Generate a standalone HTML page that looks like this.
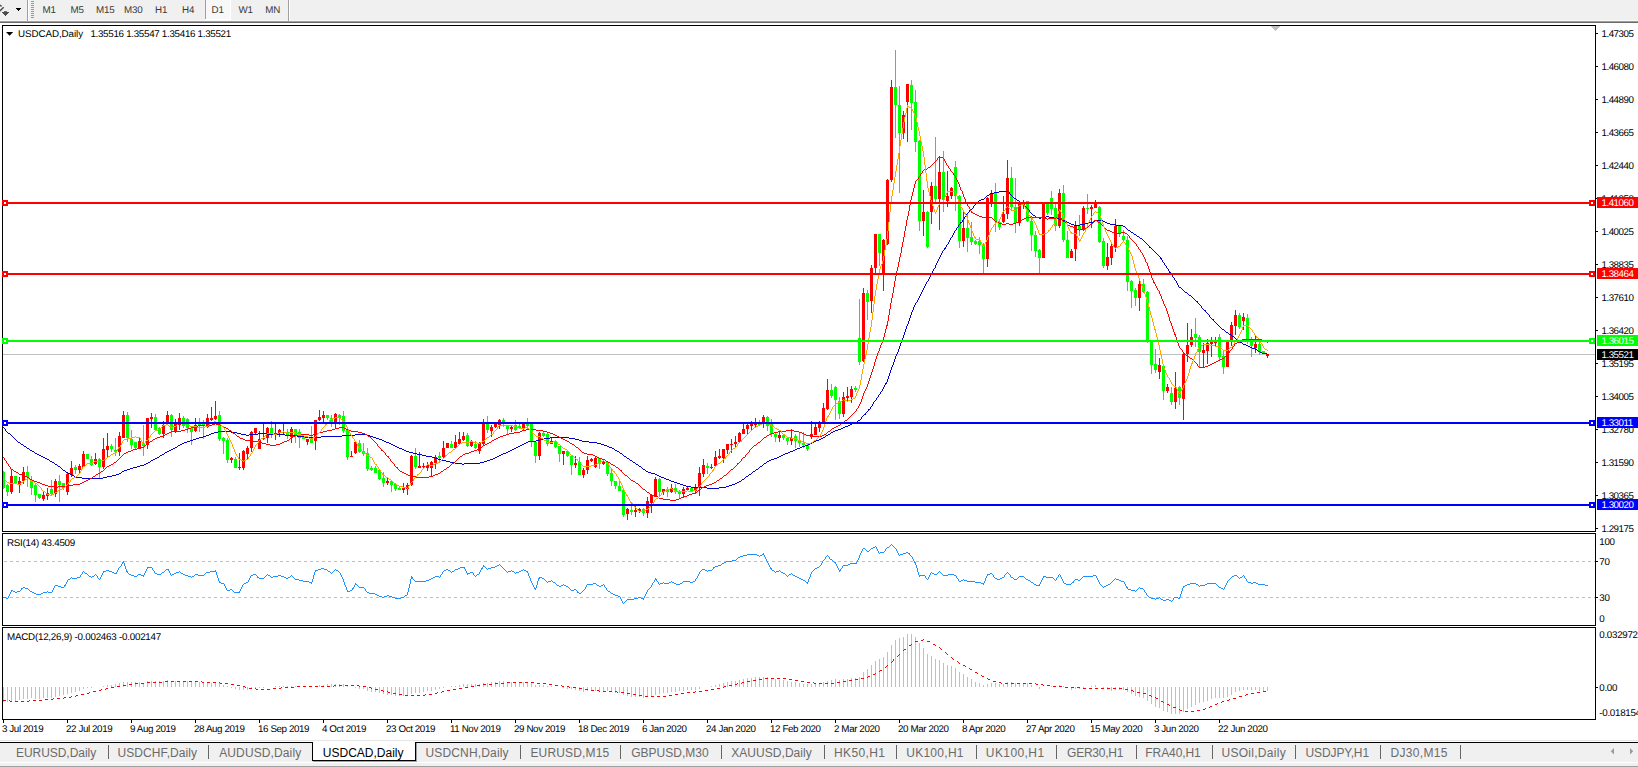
<!DOCTYPE html><html><head><meta charset="utf-8"><title>USDCAD,Daily</title><style>
html,body{margin:0;padding:0;background:#fff}
body{width:1638px;height:767px;position:relative;overflow:hidden;font-family:"Liberation Sans",sans-serif}
.a{position:absolute;white-space:pre;line-height:1}
.t{font-size:9.8px;color:#000;text-rendering:geometricPrecision;letter-spacing:-0.29px}
.tb{font-size:9.8px;color:#3a3a3a;text-rendering:geometricPrecision;letter-spacing:-0.19px}
.pl{position:absolute;left:1597px;width:41px;height:11px}
.pl span{position:absolute;left:4.5px;top:2px;color:#fff;font-size:9.8px;line-height:1;text-rendering:geometricPrecision;letter-spacing:-0.5px;white-space:pre}
.tab{position:absolute;top:746px;font-size:12px;color:#6a6a6a;white-space:pre;line-height:14px}
.sep{position:absolute;top:745px;width:1px;height:14px;background:#646464}
</style></head><body>
<div class="a" style="left:0px;top:0px;width:1638px;height:20px;background:#f0f0f0"></div>
<div class="a" style="left:0px;top:20px;width:1638px;height:1px;background:#f8f8f8"></div>
<div class="a" style="left:0px;top:21px;width:1638px;height:1px;background:#a0a0a0"></div>
<div class="a" style="left:0px;top:22px;width:1638px;height:1px;background:#696969"></div>
<div class="a" style="left:27px;top:0px;width:1px;height:21px;background:#a0a0a0"></div>
<div class="a" style="left:28px;top:0px;width:1px;height:21px;background:#fff"></div>
<div class="a" style="left:288px;top:0px;width:1px;height:21px;background:#a0a0a0"></div>
<div class="a" style="left:289px;top:0px;width:1px;height:21px;background:#fff"></div>
<div class="a" style="left:31px;top:1px;width:3px;height:1px;background:#9a9a9a"></div>
<div class="a" style="left:31px;top:3px;width:3px;height:1px;background:#9a9a9a"></div>
<div class="a" style="left:31px;top:5px;width:3px;height:1px;background:#9a9a9a"></div>
<div class="a" style="left:31px;top:7px;width:3px;height:1px;background:#9a9a9a"></div>
<div class="a" style="left:31px;top:9px;width:3px;height:1px;background:#9a9a9a"></div>
<div class="a" style="left:31px;top:11px;width:3px;height:1px;background:#9a9a9a"></div>
<div class="a" style="left:31px;top:13px;width:3px;height:1px;background:#9a9a9a"></div>
<div class="a" style="left:31px;top:15px;width:3px;height:1px;background:#9a9a9a"></div>
<div class="a" style="left:31px;top:17px;width:3px;height:1px;background:#9a9a9a"></div>
<div class="a" style="left:205px;top:0px;width:1px;height:19px;background:#a0a0a0"></div>
<div class="a" style="left:206px;top:0px;width:24px;height:19px;background:#f8f8f8"></div>
<div class="a" style="left:230px;top:0px;width:1px;height:20px;background:#fff"></div>
<div class="a" style="left:205px;top:19px;width:26px;height:1px;background:#fff"></div>
<svg class="a" style="left:0;top:0" width="27" height="21" viewBox="0 0 27 21"><path d="M-0.3 5.0L1.6 6.3" stroke="#4a4a4a" stroke-width="1.5" fill="none"/><path d="M-0.5 11.2L3.7 7.2" stroke="#4a4a4a" stroke-width="1.5" fill="none"/><g shape-rendering="crispEdges"><path d="M4 11h3v1h-3z" fill="#6e6e6e"/><path d="M2 12h7v1h-7zM3 13h5v1h-5zM4 14h3v1h-3zM5 15h1v1h-1z" fill="#4d4d4d"/><path d="M16 8h5v1h-5zM17 9h3v1h-3zM18 10h1v1h-1z" fill="#000"/></g></svg>
<div class="a tb" style="left:42.5px;top:6px">M1</div>
<div class="a tb" style="left:70.5px;top:6px">M5</div>
<div class="a tb" style="left:96px;top:6px">M15</div>
<div class="a tb" style="left:124px;top:6px">M30</div>
<div class="a tb" style="left:155px;top:6px">H1</div>
<div class="a tb" style="left:182px;top:6px">H4</div>
<div class="a tb" style="left:211.5px;top:6px">D1</div>
<div class="a tb" style="left:238.5px;top:6px">W1</div>
<div class="a tb" style="left:265.2px;top:6px">MN</div>
<svg width="1638" height="767" viewBox="0 0 1638 767" style="position:absolute;left:0;top:0" shape-rendering="crispEdges"><defs><clipPath id="cm"><rect x="3" y="26" width="1592" height="505"/></clipPath><clipPath id="cr"><rect x="3" y="534" width="1592" height="91"/></clipPath><clipPath id="cd"><rect x="3" y="628" width="1592" height="91"/></clipPath></defs><path d="M2.5 531.5V25.5H1595.5V531.5" fill="none" stroke="#000" stroke-width="1"/><rect x="2" y="531" width="1594" height="1" fill="#000"/><path d="M2.5 625.5V533.5H1595.5V625.5" fill="none" stroke="#000" stroke-width="1"/><rect x="2" y="625" width="1594" height="1" fill="#000"/><path d="M2.5 719.5V627.5H1595.5V719.5" fill="none" stroke="#000" stroke-width="1"/><rect x="2" y="719" width="1594" height="1" fill="#000"/><g clip-path="url(#cm)"><rect x="3" y="354" width="1592" height="1" fill="#c0c0c0"/><rect x="3" y="471" width="1" height="18" fill="#00ff00"/><rect x="2" y="472" width="3" height="16" fill="#00ff00"/><rect x="7" y="484" width="1" height="12" fill="#00ff00"/><rect x="6" y="485" width="3" height="7" fill="#00ff00"/><rect x="11" y="469" width="1" height="25" fill="#ff0000"/><rect x="10" y="476" width="3" height="16" fill="#ff0000"/><rect x="15" y="476" width="1" height="8" fill="#00ff00"/><rect x="14" y="476" width="3" height="7" fill="#00ff00"/><rect x="19" y="477" width="1" height="16" fill="#ff0000"/><rect x="18" y="481" width="3" height="4" fill="#ff0000"/><rect x="23" y="467" width="1" height="17" fill="#ff0000"/><rect x="22" y="472" width="3" height="9" fill="#ff0000"/><rect x="27" y="466" width="1" height="21" fill="#00ff00"/><rect x="26" y="472" width="3" height="5" fill="#00ff00"/><rect x="31" y="476" width="1" height="19" fill="#00ff00"/><rect x="30" y="480" width="3" height="8" fill="#00ff00"/><rect x="35" y="483" width="1" height="19" fill="#00ff00"/><rect x="34" y="485" width="3" height="10" fill="#00ff00"/><rect x="39" y="494" width="1" height="5" fill="#00ff00"/><rect x="38" y="494" width="3" height="4" fill="#00ff00"/><rect x="43" y="492" width="1" height="9" fill="#ff0000"/><rect x="42" y="495" width="3" height="4" fill="#ff0000"/><rect x="47" y="488" width="1" height="12" fill="#ff0000"/><rect x="46" y="493" width="3" height="3" fill="#ff0000"/><rect x="51" y="480" width="1" height="16" fill="#00ff00"/><rect x="50" y="489" width="3" height="5" fill="#00ff00"/><rect x="55" y="479" width="1" height="18" fill="#ff0000"/><rect x="54" y="481" width="3" height="13" fill="#ff0000"/><rect x="59" y="475" width="1" height="27" fill="#00ff00"/><rect x="58" y="481" width="3" height="4" fill="#00ff00"/><rect x="63" y="483" width="1" height="7" fill="#00ff00"/><rect x="62" y="483" width="3" height="5" fill="#00ff00"/><rect x="67" y="473" width="1" height="22" fill="#ff0000"/><rect x="66" y="474" width="3" height="18" fill="#ff0000"/><rect x="71" y="461" width="1" height="16" fill="#ff0000"/><rect x="70" y="468" width="3" height="7" fill="#ff0000"/><rect x="75" y="465" width="1" height="9" fill="#00ff00"/><rect x="74" y="467" width="3" height="3" fill="#00ff00"/><rect x="79" y="464" width="1" height="9" fill="#ff0000"/><rect x="78" y="466" width="3" height="4" fill="#ff0000"/><rect x="83" y="451" width="1" height="16" fill="#ff0000"/><rect x="82" y="454" width="3" height="13" fill="#ff0000"/><rect x="87" y="454" width="1" height="5" fill="#00ff00"/><rect x="86" y="454" width="3" height="5" fill="#00ff00"/><rect x="91" y="456" width="1" height="10" fill="#00ff00"/><rect x="90" y="459" width="3" height="6" fill="#00ff00"/><rect x="95" y="453" width="1" height="12" fill="#ff0000"/><rect x="94" y="459" width="3" height="5" fill="#ff0000"/><rect x="99" y="458" width="1" height="20" fill="#00ff00"/><rect x="98" y="459" width="3" height="8" fill="#00ff00"/><rect x="103" y="438" width="1" height="31" fill="#ff0000"/><rect x="102" y="449" width="3" height="18" fill="#ff0000"/><rect x="107" y="433" width="1" height="24" fill="#ff0000"/><rect x="106" y="446" width="3" height="4" fill="#ff0000"/><rect x="111" y="444" width="1" height="8" fill="#00ff00"/><rect x="110" y="446" width="3" height="3" fill="#00ff00"/><rect x="115" y="438" width="1" height="18" fill="#00ff00"/><rect x="114" y="450" width="3" height="2" fill="#00ff00"/><rect x="119" y="432" width="1" height="24" fill="#ff0000"/><rect x="118" y="436" width="3" height="16" fill="#ff0000"/><rect x="123" y="411" width="1" height="27" fill="#ff0000"/><rect x="122" y="415" width="3" height="23" fill="#ff0000"/><rect x="127" y="412" width="1" height="30" fill="#00ff00"/><rect x="126" y="415" width="3" height="23" fill="#00ff00"/><rect x="131" y="430" width="1" height="19" fill="#00ff00"/><rect x="130" y="439" width="3" height="6" fill="#00ff00"/><rect x="135" y="442" width="1" height="8" fill="#00ff00"/><rect x="134" y="442" width="3" height="6" fill="#00ff00"/><rect x="139" y="438" width="1" height="11" fill="#ff0000"/><rect x="138" y="441" width="3" height="7" fill="#ff0000"/><rect x="143" y="425" width="1" height="31" fill="#00ff00"/><rect x="142" y="443" width="3" height="3" fill="#00ff00"/><rect x="147" y="418" width="1" height="31" fill="#ff0000"/><rect x="146" y="418" width="3" height="27" fill="#ff0000"/><rect x="151" y="413" width="1" height="15" fill="#ff0000"/><rect x="150" y="417" width="3" height="2" fill="#ff0000"/><rect x="155" y="414" width="1" height="17" fill="#00ff00"/><rect x="154" y="417" width="3" height="13" fill="#00ff00"/><rect x="159" y="427" width="1" height="8" fill="#00ff00"/><rect x="158" y="428" width="3" height="6" fill="#00ff00"/><rect x="163" y="421" width="1" height="17" fill="#ff0000"/><rect x="162" y="425" width="3" height="9" fill="#ff0000"/><rect x="167" y="411" width="1" height="12" fill="#ff0000"/><rect x="166" y="415" width="3" height="8" fill="#ff0000"/><rect x="171" y="414" width="1" height="23" fill="#00ff00"/><rect x="170" y="415" width="3" height="15" fill="#00ff00"/><rect x="175" y="419" width="1" height="14" fill="#ff0000"/><rect x="174" y="424" width="3" height="7" fill="#ff0000"/><rect x="179" y="413" width="1" height="17" fill="#ff0000"/><rect x="178" y="418" width="3" height="7" fill="#ff0000"/><rect x="183" y="416" width="1" height="12" fill="#00ff00"/><rect x="182" y="418" width="3" height="8" fill="#00ff00"/><rect x="187" y="418" width="1" height="15" fill="#00ff00"/><rect x="186" y="419" width="3" height="9" fill="#00ff00"/><rect x="191" y="428" width="1" height="17" fill="#00ff00"/><rect x="190" y="428" width="3" height="4" fill="#00ff00"/><rect x="195" y="418" width="1" height="14" fill="#ff0000"/><rect x="194" y="425" width="3" height="6" fill="#ff0000"/><rect x="199" y="418" width="1" height="14" fill="#00ff00"/><rect x="198" y="424" width="3" height="2" fill="#00ff00"/><rect x="203" y="420" width="1" height="19" fill="#00ff00"/><rect x="202" y="424" width="3" height="2" fill="#00ff00"/><rect x="207" y="414" width="1" height="14" fill="#ff0000"/><rect x="206" y="418" width="3" height="9" fill="#ff0000"/><rect x="211" y="407" width="1" height="14" fill="#ff0000"/><rect x="210" y="418" width="3" height="2" fill="#ff0000"/><rect x="215" y="401" width="1" height="19" fill="#ff0000"/><rect x="214" y="416" width="3" height="3" fill="#ff0000"/><rect x="219" y="411" width="1" height="30" fill="#00ff00"/><rect x="218" y="415" width="3" height="24" fill="#00ff00"/><rect x="223" y="437" width="1" height="17" fill="#00ff00"/><rect x="222" y="438" width="3" height="3" fill="#00ff00"/><rect x="227" y="438" width="1" height="25" fill="#00ff00"/><rect x="226" y="440" width="3" height="20" fill="#00ff00"/><rect x="231" y="457" width="1" height="6" fill="#ff0000"/><rect x="230" y="458" width="3" height="2" fill="#ff0000"/><rect x="235" y="457" width="1" height="11" fill="#00ff00"/><rect x="234" y="459" width="3" height="9" fill="#00ff00"/><rect x="239" y="453" width="1" height="17" fill="#ff0000"/><rect x="238" y="467" width="3" height="1" fill="#ff0000"/><rect x="243" y="450" width="1" height="20" fill="#ff0000"/><rect x="242" y="451" width="3" height="17" fill="#ff0000"/><rect x="247" y="446" width="1" height="13" fill="#ff0000"/><rect x="246" y="448" width="3" height="6" fill="#ff0000"/><rect x="251" y="431" width="1" height="21" fill="#ff0000"/><rect x="250" y="432" width="3" height="16" fill="#ff0000"/><rect x="255" y="428" width="1" height="7" fill="#ff0000"/><rect x="254" y="428" width="3" height="5" fill="#ff0000"/><rect x="259" y="431" width="1" height="18" fill="#ff0000"/><rect x="258" y="439" width="3" height="10" fill="#ff0000"/><rect x="263" y="424" width="1" height="16" fill="#ff0000"/><rect x="262" y="438" width="3" height="1" fill="#ff0000"/><rect x="267" y="427" width="1" height="16" fill="#ff0000"/><rect x="266" y="428" width="3" height="10" fill="#ff0000"/><rect x="271" y="421" width="1" height="17" fill="#00ff00"/><rect x="270" y="428" width="3" height="6" fill="#00ff00"/><rect x="275" y="424" width="1" height="16" fill="#ff0000"/><rect x="274" y="433" width="3" height="1" fill="#ff0000"/><rect x="279" y="429" width="1" height="8" fill="#ff0000"/><rect x="278" y="430" width="3" height="3" fill="#ff0000"/><rect x="283" y="424" width="1" height="10" fill="#ff0000"/><rect x="282" y="432" width="3" height="1" fill="#ff0000"/><rect x="287" y="429" width="1" height="10" fill="#00ff00"/><rect x="286" y="432" width="3" height="4" fill="#00ff00"/><rect x="291" y="427" width="1" height="16" fill="#ff0000"/><rect x="290" y="429" width="3" height="8" fill="#ff0000"/><rect x="295" y="429" width="1" height="14" fill="#00ff00"/><rect x="294" y="429" width="3" height="7" fill="#00ff00"/><rect x="299" y="429" width="1" height="19" fill="#00ff00"/><rect x="298" y="432" width="3" height="6" fill="#00ff00"/><rect x="303" y="436" width="1" height="3" fill="#00ff00"/><rect x="302" y="436" width="3" height="3" fill="#00ff00"/><rect x="307" y="439" width="1" height="6" fill="#ff0000"/><rect x="306" y="439" width="3" height="3" fill="#ff0000"/><rect x="311" y="426" width="1" height="17" fill="#00ff00"/><rect x="310" y="439" width="3" height="4" fill="#00ff00"/><rect x="315" y="420" width="1" height="30" fill="#ff0000"/><rect x="314" y="420" width="3" height="21" fill="#ff0000"/><rect x="319" y="410" width="1" height="11" fill="#ff0000"/><rect x="318" y="417" width="3" height="3" fill="#ff0000"/><rect x="323" y="411" width="1" height="11" fill="#ff0000"/><rect x="322" y="415" width="3" height="3" fill="#ff0000"/><rect x="327" y="415" width="1" height="5" fill="#00ff00"/><rect x="326" y="415" width="3" height="3" fill="#00ff00"/><rect x="331" y="415" width="1" height="12" fill="#00ff00"/><rect x="330" y="418" width="3" height="4" fill="#00ff00"/><rect x="335" y="413" width="1" height="15" fill="#ff0000"/><rect x="334" y="414" width="3" height="8" fill="#ff0000"/><rect x="339" y="414" width="1" height="11" fill="#00ff00"/><rect x="338" y="415" width="3" height="3" fill="#00ff00"/><rect x="343" y="411" width="1" height="22" fill="#00ff00"/><rect x="342" y="416" width="3" height="15" fill="#00ff00"/><rect x="347" y="428" width="1" height="32" fill="#00ff00"/><rect x="346" y="430" width="3" height="27" fill="#00ff00"/><rect x="351" y="451" width="1" height="6" fill="#ff0000"/><rect x="350" y="456" width="3" height="1" fill="#ff0000"/><rect x="355" y="441" width="1" height="13" fill="#ff0000"/><rect x="354" y="442" width="3" height="11" fill="#ff0000"/><rect x="359" y="440" width="1" height="13" fill="#00ff00"/><rect x="358" y="443" width="3" height="9" fill="#00ff00"/><rect x="363" y="443" width="1" height="13" fill="#00ff00"/><rect x="362" y="451" width="3" height="3" fill="#00ff00"/><rect x="367" y="448" width="1" height="23" fill="#00ff00"/><rect x="366" y="453" width="3" height="16" fill="#00ff00"/><rect x="371" y="466" width="1" height="5" fill="#00ff00"/><rect x="370" y="468" width="3" height="2" fill="#00ff00"/><rect x="375" y="466" width="1" height="7" fill="#00ff00"/><rect x="374" y="468" width="3" height="5" fill="#00ff00"/><rect x="379" y="469" width="1" height="11" fill="#00ff00"/><rect x="378" y="470" width="3" height="9" fill="#00ff00"/><rect x="383" y="472" width="1" height="15" fill="#00ff00"/><rect x="382" y="478" width="3" height="5" fill="#00ff00"/><rect x="387" y="477" width="1" height="8" fill="#ff0000"/><rect x="386" y="481" width="3" height="2" fill="#ff0000"/><rect x="391" y="480" width="1" height="12" fill="#00ff00"/><rect x="390" y="481" width="3" height="4" fill="#00ff00"/><rect x="395" y="483" width="1" height="8" fill="#00ff00"/><rect x="394" y="484" width="3" height="5" fill="#00ff00"/><rect x="399" y="486" width="1" height="4" fill="#00ff00"/><rect x="398" y="488" width="3" height="2" fill="#00ff00"/><rect x="403" y="483" width="1" height="10" fill="#ff0000"/><rect x="402" y="488" width="3" height="2" fill="#ff0000"/><rect x="407" y="483" width="1" height="12" fill="#ff0000"/><rect x="406" y="485" width="3" height="4" fill="#ff0000"/><rect x="411" y="455" width="1" height="31" fill="#ff0000"/><rect x="410" y="456" width="3" height="29" fill="#ff0000"/><rect x="415" y="448" width="1" height="21" fill="#00ff00"/><rect x="414" y="456" width="3" height="11" fill="#00ff00"/><rect x="419" y="452" width="1" height="16" fill="#ff0000"/><rect x="418" y="466" width="3" height="2" fill="#ff0000"/><rect x="423" y="463" width="1" height="5" fill="#ff0000"/><rect x="422" y="466" width="3" height="1" fill="#ff0000"/><rect x="427" y="462" width="1" height="9" fill="#ff0000"/><rect x="426" y="465" width="3" height="3" fill="#ff0000"/><rect x="431" y="461" width="1" height="15" fill="#ff0000"/><rect x="430" y="462" width="3" height="6" fill="#ff0000"/><rect x="435" y="455" width="1" height="14" fill="#ff0000"/><rect x="434" y="457" width="3" height="6" fill="#ff0000"/><rect x="439" y="452" width="1" height="10" fill="#00ff00"/><rect x="438" y="456" width="3" height="2" fill="#00ff00"/><rect x="443" y="441" width="1" height="17" fill="#ff0000"/><rect x="442" y="448" width="3" height="9" fill="#ff0000"/><rect x="447" y="443" width="1" height="5" fill="#ff0000"/><rect x="446" y="443" width="3" height="5" fill="#ff0000"/><rect x="451" y="441" width="1" height="7" fill="#00ff00"/><rect x="450" y="444" width="3" height="4" fill="#00ff00"/><rect x="455" y="435" width="1" height="13" fill="#ff0000"/><rect x="454" y="442" width="3" height="6" fill="#ff0000"/><rect x="459" y="432" width="1" height="12" fill="#ff0000"/><rect x="458" y="439" width="3" height="5" fill="#ff0000"/><rect x="463" y="432" width="1" height="9" fill="#ff0000"/><rect x="462" y="436" width="3" height="4" fill="#ff0000"/><rect x="467" y="433" width="1" height="14" fill="#00ff00"/><rect x="466" y="435" width="3" height="11" fill="#00ff00"/><rect x="471" y="440" width="1" height="7" fill="#ff0000"/><rect x="470" y="442" width="3" height="4" fill="#ff0000"/><rect x="475" y="441" width="1" height="8" fill="#00ff00"/><rect x="474" y="444" width="3" height="4" fill="#00ff00"/><rect x="479" y="442" width="1" height="12" fill="#ff0000"/><rect x="478" y="443" width="3" height="8" fill="#ff0000"/><rect x="483" y="419" width="1" height="27" fill="#ff0000"/><rect x="482" y="424" width="3" height="20" fill="#ff0000"/><rect x="487" y="416" width="1" height="17" fill="#00ff00"/><rect x="486" y="424" width="3" height="6" fill="#00ff00"/><rect x="491" y="425" width="1" height="12" fill="#ff0000"/><rect x="490" y="427" width="3" height="4" fill="#ff0000"/><rect x="495" y="424" width="1" height="4" fill="#ff0000"/><rect x="494" y="424" width="3" height="3" fill="#ff0000"/><rect x="499" y="419" width="1" height="10" fill="#ff0000"/><rect x="498" y="420" width="3" height="5" fill="#ff0000"/><rect x="503" y="418" width="1" height="9" fill="#00ff00"/><rect x="502" y="420" width="3" height="4" fill="#00ff00"/><rect x="507" y="425" width="1" height="9" fill="#00ff00"/><rect x="506" y="426" width="3" height="3" fill="#00ff00"/><rect x="511" y="426" width="1" height="6" fill="#ff0000"/><rect x="510" y="427" width="3" height="2" fill="#ff0000"/><rect x="515" y="420" width="1" height="11" fill="#00ff00"/><rect x="514" y="425" width="3" height="5" fill="#00ff00"/><rect x="519" y="424" width="1" height="5" fill="#00ff00"/><rect x="518" y="426" width="3" height="2" fill="#00ff00"/><rect x="523" y="424" width="1" height="6" fill="#ff0000"/><rect x="522" y="424" width="3" height="4" fill="#ff0000"/><rect x="527" y="418" width="1" height="11" fill="#00ff00"/><rect x="526" y="424" width="3" height="2" fill="#00ff00"/><rect x="531" y="424" width="1" height="23" fill="#00ff00"/><rect x="530" y="424" width="3" height="18" fill="#00ff00"/><rect x="535" y="441" width="1" height="22" fill="#00ff00"/><rect x="534" y="442" width="3" height="14" fill="#00ff00"/><rect x="539" y="432" width="1" height="28" fill="#ff0000"/><rect x="538" y="433" width="3" height="23" fill="#ff0000"/><rect x="543" y="432" width="1" height="5" fill="#00ff00"/><rect x="542" y="433" width="3" height="3" fill="#00ff00"/><rect x="547" y="433" width="1" height="13" fill="#00ff00"/><rect x="546" y="434" width="3" height="10" fill="#00ff00"/><rect x="551" y="438" width="1" height="6" fill="#ff0000"/><rect x="550" y="441" width="3" height="3" fill="#ff0000"/><rect x="555" y="441" width="1" height="7" fill="#00ff00"/><rect x="554" y="441" width="3" height="6" fill="#00ff00"/><rect x="559" y="446" width="1" height="16" fill="#00ff00"/><rect x="558" y="446" width="3" height="8" fill="#00ff00"/><rect x="563" y="451" width="1" height="14" fill="#ff0000"/><rect x="562" y="451" width="3" height="3" fill="#ff0000"/><rect x="567" y="450" width="1" height="7" fill="#00ff00"/><rect x="566" y="451" width="3" height="5" fill="#00ff00"/><rect x="571" y="455" width="1" height="20" fill="#00ff00"/><rect x="570" y="456" width="3" height="9" fill="#00ff00"/><rect x="575" y="456" width="1" height="12" fill="#ff0000"/><rect x="574" y="463" width="3" height="2" fill="#ff0000"/><rect x="579" y="457" width="1" height="18" fill="#00ff00"/><rect x="578" y="462" width="3" height="13" fill="#00ff00"/><rect x="583" y="468" width="1" height="10" fill="#ff0000"/><rect x="582" y="470" width="3" height="5" fill="#ff0000"/><rect x="587" y="456" width="1" height="18" fill="#ff0000"/><rect x="586" y="460" width="3" height="10" fill="#ff0000"/><rect x="591" y="458" width="1" height="4" fill="#ff0000"/><rect x="590" y="459" width="3" height="2" fill="#ff0000"/><rect x="595" y="457" width="1" height="11" fill="#ff0000"/><rect x="594" y="458" width="3" height="9" fill="#ff0000"/><rect x="599" y="458" width="1" height="11" fill="#00ff00"/><rect x="598" y="458" width="3" height="6" fill="#00ff00"/><rect x="603" y="459" width="1" height="6" fill="#ff0000"/><rect x="602" y="461" width="3" height="3" fill="#ff0000"/><rect x="607" y="462" width="1" height="14" fill="#00ff00"/><rect x="606" y="462" width="3" height="12" fill="#00ff00"/><rect x="611" y="469" width="1" height="17" fill="#00ff00"/><rect x="610" y="473" width="3" height="8" fill="#00ff00"/><rect x="615" y="481" width="1" height="8" fill="#00ff00"/><rect x="614" y="481" width="3" height="5" fill="#00ff00"/><rect x="619" y="481" width="1" height="10" fill="#00ff00"/><rect x="618" y="486" width="3" height="5" fill="#00ff00"/><rect x="623" y="488" width="1" height="29" fill="#00ff00"/><rect x="622" y="490" width="3" height="25" fill="#00ff00"/><rect x="627" y="508" width="1" height="12" fill="#ff0000"/><rect x="626" y="509" width="3" height="5" fill="#ff0000"/><rect x="631" y="503" width="1" height="12" fill="#00ff00"/><rect x="630" y="510" width="3" height="2" fill="#00ff00"/><rect x="635" y="506" width="1" height="11" fill="#ff0000"/><rect x="634" y="510" width="3" height="2" fill="#ff0000"/><rect x="639" y="508" width="1" height="5" fill="#ff0000"/><rect x="638" y="509" width="3" height="2" fill="#ff0000"/><rect x="643" y="508" width="1" height="8" fill="#00ff00"/><rect x="642" y="509" width="3" height="4" fill="#00ff00"/><rect x="647" y="497" width="1" height="21" fill="#ff0000"/><rect x="646" y="501" width="3" height="12" fill="#ff0000"/><rect x="651" y="495" width="1" height="18" fill="#ff0000"/><rect x="650" y="495" width="3" height="8" fill="#ff0000"/><rect x="655" y="477" width="1" height="20" fill="#ff0000"/><rect x="654" y="479" width="3" height="18" fill="#ff0000"/><rect x="659" y="478" width="1" height="18" fill="#00ff00"/><rect x="658" y="479" width="3" height="13" fill="#00ff00"/><rect x="663" y="489" width="1" height="6" fill="#ff0000"/><rect x="662" y="489" width="3" height="3" fill="#ff0000"/><rect x="667" y="487" width="1" height="10" fill="#00ff00"/><rect x="666" y="489" width="3" height="3" fill="#00ff00"/><rect x="671" y="484" width="1" height="9" fill="#ff0000"/><rect x="670" y="488" width="3" height="4" fill="#ff0000"/><rect x="675" y="484" width="1" height="10" fill="#00ff00"/><rect x="674" y="488" width="3" height="4" fill="#00ff00"/><rect x="679" y="490" width="1" height="8" fill="#00ff00"/><rect x="678" y="491" width="3" height="3" fill="#00ff00"/><rect x="683" y="487" width="1" height="10" fill="#ff0000"/><rect x="682" y="489" width="3" height="5" fill="#ff0000"/><rect x="687" y="486" width="1" height="5" fill="#ff0000"/><rect x="686" y="488" width="3" height="2" fill="#ff0000"/><rect x="691" y="487" width="1" height="4" fill="#00ff00"/><rect x="690" y="488" width="3" height="3" fill="#00ff00"/><rect x="695" y="484" width="1" height="10" fill="#ff0000"/><rect x="694" y="488" width="3" height="3" fill="#ff0000"/><rect x="699" y="467" width="1" height="29" fill="#ff0000"/><rect x="698" y="473" width="3" height="15" fill="#ff0000"/><rect x="703" y="459" width="1" height="18" fill="#ff0000"/><rect x="702" y="465" width="3" height="9" fill="#ff0000"/><rect x="707" y="463" width="1" height="11" fill="#00ff00"/><rect x="706" y="466" width="3" height="2" fill="#00ff00"/><rect x="711" y="464" width="1" height="5" fill="#ff0000"/><rect x="710" y="467" width="3" height="1" fill="#ff0000"/><rect x="715" y="451" width="1" height="15" fill="#ff0000"/><rect x="714" y="457" width="3" height="9" fill="#ff0000"/><rect x="719" y="449" width="1" height="10" fill="#ff0000"/><rect x="718" y="456" width="3" height="2" fill="#ff0000"/><rect x="723" y="449" width="1" height="14" fill="#ff0000"/><rect x="722" y="449" width="3" height="9" fill="#ff0000"/><rect x="727" y="444" width="1" height="10" fill="#ff0000"/><rect x="726" y="444" width="3" height="6" fill="#ff0000"/><rect x="731" y="439" width="1" height="14" fill="#ff0000"/><rect x="730" y="444" width="3" height="1" fill="#ff0000"/><rect x="735" y="436" width="1" height="11" fill="#ff0000"/><rect x="734" y="442" width="3" height="2" fill="#ff0000"/><rect x="739" y="432" width="1" height="10" fill="#ff0000"/><rect x="738" y="433" width="3" height="9" fill="#ff0000"/><rect x="743" y="424" width="1" height="10" fill="#ff0000"/><rect x="742" y="429" width="3" height="5" fill="#ff0000"/><rect x="747" y="424" width="1" height="10" fill="#ff0000"/><rect x="746" y="425" width="3" height="4" fill="#ff0000"/><rect x="751" y="421" width="1" height="10" fill="#ff0000"/><rect x="750" y="424" width="3" height="2" fill="#ff0000"/><rect x="755" y="418" width="1" height="9" fill="#ff0000"/><rect x="754" y="423" width="3" height="2" fill="#ff0000"/><rect x="759" y="420" width="1" height="5" fill="#00ff00"/><rect x="758" y="423" width="3" height="2" fill="#00ff00"/><rect x="763" y="415" width="1" height="13" fill="#ff0000"/><rect x="762" y="417" width="3" height="5" fill="#ff0000"/><rect x="767" y="416" width="1" height="15" fill="#00ff00"/><rect x="766" y="417" width="3" height="9" fill="#00ff00"/><rect x="771" y="419" width="1" height="18" fill="#00ff00"/><rect x="770" y="424" width="3" height="10" fill="#00ff00"/><rect x="775" y="432" width="1" height="10" fill="#00ff00"/><rect x="774" y="434" width="3" height="3" fill="#00ff00"/><rect x="779" y="431" width="1" height="11" fill="#ff0000"/><rect x="778" y="435" width="3" height="3" fill="#ff0000"/><rect x="783" y="434" width="1" height="6" fill="#00ff00"/><rect x="782" y="435" width="3" height="3" fill="#00ff00"/><rect x="787" y="437" width="1" height="8" fill="#00ff00"/><rect x="786" y="438" width="3" height="3" fill="#00ff00"/><rect x="791" y="429" width="1" height="16" fill="#ff0000"/><rect x="790" y="438" width="3" height="3" fill="#ff0000"/><rect x="795" y="434" width="1" height="14" fill="#00ff00"/><rect x="794" y="436" width="3" height="5" fill="#00ff00"/><rect x="799" y="433" width="1" height="14" fill="#00ff00"/><rect x="798" y="440" width="3" height="3" fill="#00ff00"/><rect x="803" y="432" width="1" height="16" fill="#00ff00"/><rect x="802" y="443" width="3" height="2" fill="#00ff00"/><rect x="807" y="444" width="1" height="7" fill="#00ff00"/><rect x="806" y="445" width="3" height="4" fill="#00ff00"/><rect x="811" y="421" width="1" height="18" fill="#ff0000"/><rect x="810" y="434" width="3" height="3" fill="#ff0000"/><rect x="815" y="424" width="1" height="11" fill="#ff0000"/><rect x="814" y="427" width="3" height="8" fill="#ff0000"/><rect x="819" y="421" width="1" height="11" fill="#ff0000"/><rect x="818" y="424" width="3" height="4" fill="#ff0000"/><rect x="823" y="403" width="1" height="20" fill="#ff0000"/><rect x="822" y="408" width="3" height="15" fill="#ff0000"/><rect x="827" y="379" width="1" height="31" fill="#ff0000"/><rect x="826" y="390" width="3" height="19" fill="#ff0000"/><rect x="831" y="384" width="1" height="14" fill="#00ff00"/><rect x="830" y="390" width="3" height="6" fill="#00ff00"/><rect x="835" y="386" width="1" height="34" fill="#00ff00"/><rect x="834" y="387" width="3" height="13" fill="#00ff00"/><rect x="839" y="397" width="1" height="22" fill="#00ff00"/><rect x="838" y="401" width="3" height="13" fill="#00ff00"/><rect x="843" y="392" width="1" height="25" fill="#ff0000"/><rect x="842" y="397" width="3" height="17" fill="#ff0000"/><rect x="847" y="387" width="1" height="15" fill="#ff0000"/><rect x="846" y="396" width="3" height="2" fill="#ff0000"/><rect x="851" y="386" width="1" height="17" fill="#ff0000"/><rect x="850" y="389" width="3" height="8" fill="#ff0000"/><rect x="855" y="386" width="1" height="6" fill="#00ff00"/><rect x="854" y="388" width="3" height="2" fill="#00ff00"/><rect x="859" y="299" width="1" height="66" fill="#00ff00"/><rect x="858" y="338" width="3" height="24" fill="#00ff00"/><rect x="863" y="288" width="1" height="74" fill="#ff0000"/><rect x="862" y="293" width="3" height="68" fill="#ff0000"/><rect x="867" y="290" width="1" height="30" fill="#00ff00"/><rect x="866" y="293" width="3" height="9" fill="#00ff00"/><rect x="871" y="265" width="1" height="48" fill="#ff0000"/><rect x="870" y="268" width="3" height="33" fill="#ff0000"/><rect x="875" y="234" width="1" height="41" fill="#ff0000"/><rect x="874" y="234" width="3" height="34" fill="#ff0000"/><rect x="879" y="234" width="1" height="32" fill="#00ff00"/><rect x="878" y="234" width="3" height="19" fill="#00ff00"/><rect x="883" y="239" width="1" height="52" fill="#ff0000"/><rect x="882" y="240" width="3" height="34" fill="#ff0000"/><rect x="887" y="179" width="1" height="66" fill="#ff0000"/><rect x="886" y="180" width="3" height="64" fill="#ff0000"/><rect x="891" y="80" width="1" height="102" fill="#ff0000"/><rect x="890" y="87" width="3" height="93" fill="#ff0000"/><rect x="895" y="50" width="1" height="88" fill="#00ff00"/><rect x="894" y="87" width="3" height="18" fill="#00ff00"/><rect x="899" y="86" width="1" height="107" fill="#00ff00"/><rect x="898" y="105" width="3" height="28" fill="#00ff00"/><rect x="903" y="111" width="1" height="28" fill="#ff0000"/><rect x="902" y="115" width="3" height="18" fill="#ff0000"/><rect x="907" y="84" width="1" height="58" fill="#ff0000"/><rect x="906" y="84" width="3" height="18" fill="#ff0000"/><rect x="911" y="80" width="1" height="50" fill="#00ff00"/><rect x="910" y="85" width="3" height="18" fill="#00ff00"/><rect x="915" y="90" width="1" height="62" fill="#00ff00"/><rect x="914" y="102" width="3" height="40" fill="#00ff00"/><rect x="919" y="140" width="1" height="91" fill="#00ff00"/><rect x="918" y="141" width="3" height="80" fill="#00ff00"/><rect x="923" y="190" width="1" height="46" fill="#ff0000"/><rect x="922" y="212" width="3" height="9" fill="#ff0000"/><rect x="927" y="211" width="1" height="37" fill="#00ff00"/><rect x="926" y="212" width="3" height="35" fill="#00ff00"/><rect x="931" y="182" width="1" height="42" fill="#ff0000"/><rect x="930" y="186" width="3" height="26" fill="#ff0000"/><rect x="935" y="137" width="1" height="66" fill="#00ff00"/><rect x="934" y="186" width="3" height="13" fill="#00ff00"/><rect x="939" y="156" width="1" height="74" fill="#ff0000"/><rect x="938" y="172" width="3" height="27" fill="#ff0000"/><rect x="943" y="151" width="1" height="61" fill="#00ff00"/><rect x="942" y="172" width="3" height="28" fill="#00ff00"/><rect x="947" y="171" width="1" height="36" fill="#ff0000"/><rect x="946" y="196" width="3" height="5" fill="#ff0000"/><rect x="951" y="187" width="1" height="12" fill="#ff0000"/><rect x="950" y="188" width="3" height="8" fill="#ff0000"/><rect x="955" y="161" width="1" height="50" fill="#00ff00"/><rect x="954" y="167" width="3" height="29" fill="#00ff00"/><rect x="959" y="195" width="1" height="53" fill="#00ff00"/><rect x="958" y="196" width="3" height="45" fill="#00ff00"/><rect x="963" y="212" width="1" height="35" fill="#ff0000"/><rect x="962" y="228" width="3" height="13" fill="#ff0000"/><rect x="967" y="214" width="1" height="38" fill="#00ff00"/><rect x="966" y="228" width="3" height="10" fill="#00ff00"/><rect x="971" y="222" width="1" height="23" fill="#00ff00"/><rect x="970" y="237" width="3" height="5" fill="#00ff00"/><rect x="975" y="240" width="1" height="5" fill="#00ff00"/><rect x="974" y="241" width="3" height="3" fill="#00ff00"/><rect x="979" y="237" width="1" height="17" fill="#00ff00"/><rect x="978" y="241" width="3" height="4" fill="#00ff00"/><rect x="983" y="243" width="1" height="30" fill="#00ff00"/><rect x="982" y="245" width="3" height="14" fill="#00ff00"/><rect x="987" y="197" width="1" height="70" fill="#ff0000"/><rect x="986" y="198" width="3" height="61" fill="#ff0000"/><rect x="991" y="190" width="1" height="17" fill="#ff0000"/><rect x="990" y="193" width="3" height="10" fill="#ff0000"/><rect x="995" y="183" width="1" height="49" fill="#00ff00"/><rect x="994" y="193" width="3" height="28" fill="#00ff00"/><rect x="999" y="219" width="1" height="11" fill="#00ff00"/><rect x="998" y="222" width="3" height="5" fill="#00ff00"/><rect x="1003" y="196" width="1" height="27" fill="#ff0000"/><rect x="1002" y="214" width="3" height="8" fill="#ff0000"/><rect x="1007" y="160" width="1" height="59" fill="#ff0000"/><rect x="1006" y="178" width="3" height="36" fill="#ff0000"/><rect x="1011" y="167" width="1" height="44" fill="#00ff00"/><rect x="1010" y="178" width="3" height="29" fill="#00ff00"/><rect x="1015" y="178" width="1" height="55" fill="#00ff00"/><rect x="1014" y="207" width="3" height="16" fill="#00ff00"/><rect x="1019" y="203" width="1" height="23" fill="#ff0000"/><rect x="1018" y="204" width="3" height="19" fill="#ff0000"/><rect x="1023" y="200" width="1" height="9" fill="#ff0000"/><rect x="1022" y="203" width="3" height="2" fill="#ff0000"/><rect x="1027" y="201" width="1" height="21" fill="#00ff00"/><rect x="1026" y="201" width="3" height="20" fill="#00ff00"/><rect x="1031" y="216" width="1" height="35" fill="#00ff00"/><rect x="1030" y="221" width="3" height="14" fill="#00ff00"/><rect x="1035" y="231" width="1" height="26" fill="#00ff00"/><rect x="1034" y="235" width="3" height="16" fill="#00ff00"/><rect x="1039" y="249" width="1" height="24" fill="#00ff00"/><rect x="1038" y="250" width="3" height="8" fill="#00ff00"/><rect x="1043" y="203" width="1" height="55" fill="#ff0000"/><rect x="1042" y="204" width="3" height="54" fill="#ff0000"/><rect x="1047" y="203" width="1" height="12" fill="#00ff00"/><rect x="1046" y="204" width="3" height="9" fill="#00ff00"/><rect x="1051" y="191" width="1" height="24" fill="#00ff00"/><rect x="1050" y="198" width="3" height="11" fill="#00ff00"/><rect x="1055" y="204" width="1" height="27" fill="#00ff00"/><rect x="1054" y="208" width="3" height="18" fill="#00ff00"/><rect x="1059" y="189" width="1" height="39" fill="#ff0000"/><rect x="1058" y="193" width="3" height="33" fill="#ff0000"/><rect x="1063" y="185" width="1" height="57" fill="#00ff00"/><rect x="1062" y="193" width="3" height="47" fill="#00ff00"/><rect x="1067" y="231" width="1" height="27" fill="#00ff00"/><rect x="1066" y="240" width="3" height="18" fill="#00ff00"/><rect x="1071" y="249" width="1" height="9" fill="#ff0000"/><rect x="1070" y="251" width="3" height="7" fill="#ff0000"/><rect x="1075" y="221" width="1" height="40" fill="#ff0000"/><rect x="1074" y="226" width="3" height="23" fill="#ff0000"/><rect x="1079" y="215" width="1" height="21" fill="#00ff00"/><rect x="1078" y="226" width="3" height="4" fill="#00ff00"/><rect x="1083" y="206" width="1" height="25" fill="#ff0000"/><rect x="1082" y="208" width="3" height="22" fill="#ff0000"/><rect x="1087" y="194" width="1" height="20" fill="#00ff00"/><rect x="1086" y="208" width="3" height="1" fill="#00ff00"/><rect x="1091" y="205" width="1" height="23" fill="#ff0000"/><rect x="1090" y="207" width="3" height="2" fill="#ff0000"/><rect x="1095" y="200" width="1" height="8" fill="#ff0000"/><rect x="1094" y="202" width="3" height="6" fill="#ff0000"/><rect x="1099" y="206" width="1" height="37" fill="#00ff00"/><rect x="1098" y="207" width="3" height="35" fill="#00ff00"/><rect x="1103" y="238" width="1" height="30" fill="#00ff00"/><rect x="1102" y="241" width="3" height="25" fill="#00ff00"/><rect x="1107" y="243" width="1" height="27" fill="#ff0000"/><rect x="1106" y="257" width="3" height="9" fill="#ff0000"/><rect x="1111" y="243" width="1" height="22" fill="#ff0000"/><rect x="1110" y="246" width="3" height="12" fill="#ff0000"/><rect x="1115" y="219" width="1" height="33" fill="#ff0000"/><rect x="1114" y="226" width="3" height="21" fill="#ff0000"/><rect x="1119" y="226" width="1" height="11" fill="#00ff00"/><rect x="1118" y="226" width="3" height="7" fill="#00ff00"/><rect x="1123" y="230" width="1" height="11" fill="#00ff00"/><rect x="1122" y="236" width="3" height="4" fill="#00ff00"/><rect x="1127" y="236" width="1" height="55" fill="#00ff00"/><rect x="1126" y="240" width="3" height="42" fill="#00ff00"/><rect x="1131" y="280" width="1" height="28" fill="#00ff00"/><rect x="1130" y="281" width="3" height="10" fill="#00ff00"/><rect x="1135" y="288" width="1" height="18" fill="#00ff00"/><rect x="1134" y="290" width="3" height="8" fill="#00ff00"/><rect x="1139" y="279" width="1" height="32" fill="#ff0000"/><rect x="1138" y="284" width="3" height="14" fill="#ff0000"/><rect x="1143" y="279" width="1" height="14" fill="#00ff00"/><rect x="1142" y="284" width="3" height="8" fill="#00ff00"/><rect x="1147" y="291" width="1" height="52" fill="#00ff00"/><rect x="1146" y="292" width="3" height="49" fill="#00ff00"/><rect x="1151" y="340" width="1" height="34" fill="#00ff00"/><rect x="1150" y="341" width="3" height="24" fill="#00ff00"/><rect x="1155" y="349" width="1" height="24" fill="#00ff00"/><rect x="1154" y="364" width="3" height="6" fill="#00ff00"/><rect x="1159" y="358" width="1" height="21" fill="#ff0000"/><rect x="1158" y="365" width="3" height="7" fill="#ff0000"/><rect x="1163" y="364" width="1" height="36" fill="#00ff00"/><rect x="1162" y="366" width="3" height="25" fill="#00ff00"/><rect x="1167" y="384" width="1" height="9" fill="#ff0000"/><rect x="1166" y="387" width="3" height="4" fill="#ff0000"/><rect x="1171" y="387" width="1" height="18" fill="#00ff00"/><rect x="1170" y="393" width="3" height="9" fill="#00ff00"/><rect x="1175" y="372" width="1" height="37" fill="#ff0000"/><rect x="1174" y="388" width="3" height="14" fill="#ff0000"/><rect x="1179" y="386" width="1" height="19" fill="#00ff00"/><rect x="1178" y="387" width="3" height="11" fill="#00ff00"/><rect x="1183" y="352" width="1" height="68" fill="#ff0000"/><rect x="1182" y="354" width="3" height="45" fill="#ff0000"/><rect x="1187" y="323" width="1" height="39" fill="#ff0000"/><rect x="1186" y="345" width="3" height="9" fill="#ff0000"/><rect x="1191" y="329" width="1" height="18" fill="#ff0000"/><rect x="1190" y="337" width="3" height="8" fill="#ff0000"/><rect x="1195" y="318" width="1" height="29" fill="#00ff00"/><rect x="1194" y="334" width="3" height="4" fill="#00ff00"/><rect x="1199" y="335" width="1" height="33" fill="#00ff00"/><rect x="1198" y="337" width="3" height="15" fill="#00ff00"/><rect x="1203" y="343" width="1" height="25" fill="#ff0000"/><rect x="1202" y="350" width="3" height="3" fill="#ff0000"/><rect x="1207" y="339" width="1" height="25" fill="#ff0000"/><rect x="1206" y="343" width="3" height="8" fill="#ff0000"/><rect x="1211" y="337" width="1" height="20" fill="#ff0000"/><rect x="1210" y="342" width="3" height="2" fill="#ff0000"/><rect x="1215" y="337" width="1" height="9" fill="#ff0000"/><rect x="1214" y="341" width="3" height="2" fill="#ff0000"/><rect x="1219" y="334" width="1" height="26" fill="#00ff00"/><rect x="1218" y="337" width="3" height="20" fill="#00ff00"/><rect x="1223" y="350" width="1" height="24" fill="#00ff00"/><rect x="1222" y="356" width="3" height="11" fill="#00ff00"/><rect x="1227" y="341" width="1" height="26" fill="#ff0000"/><rect x="1226" y="342" width="3" height="25" fill="#ff0000"/><rect x="1231" y="322" width="1" height="24" fill="#ff0000"/><rect x="1230" y="325" width="3" height="17" fill="#ff0000"/><rect x="1235" y="310" width="1" height="25" fill="#ff0000"/><rect x="1234" y="315" width="3" height="11" fill="#ff0000"/><rect x="1239" y="313" width="1" height="16" fill="#00ff00"/><rect x="1238" y="315" width="3" height="12" fill="#00ff00"/><rect x="1243" y="313" width="1" height="17" fill="#ff0000"/><rect x="1242" y="317" width="3" height="4" fill="#ff0000"/><rect x="1247" y="314" width="1" height="30" fill="#00ff00"/><rect x="1246" y="318" width="3" height="22" fill="#00ff00"/><rect x="1251" y="337" width="1" height="20" fill="#00ff00"/><rect x="1250" y="339" width="3" height="7" fill="#00ff00"/><rect x="1255" y="335" width="1" height="18" fill="#ff0000"/><rect x="1254" y="344" width="3" height="4" fill="#ff0000"/><rect x="1259" y="342" width="1" height="13" fill="#00ff00"/><rect x="1258" y="344" width="3" height="8" fill="#00ff00"/><rect x="1263" y="351" width="1" height="2" fill="#00ff00"/><rect x="1262" y="351" width="3" height="2" fill="#00ff00"/><rect x="1267" y="354" width="1" height="4" fill="#ff0000"/><rect x="1266" y="354" width="3" height="2" fill="#ff0000"/><path d="M3 427h1v1h-1zM4 428h1v1h-1zM5 429h1v2h-1zM6 431h1v1h-1zM7 432h1v1h-1zM8 433h1v1h-1zM9 433h1v1h-1zM10 434h1v1h-1zM11 435h1v1h-1zM12 436h1v1h-1zM13 437h1v1h-1zM14 438h1v1h-1zM15 439h1v1h-1zM16 440h1v1h-1zM17 441h1v1h-1zM18 442h1v1h-1zM19 442h1v1h-1zM20 443h1v1h-1zM21 444h1v1h-1zM22 444h1v1h-1zM23 445h1v1h-1zM24 446h1v1h-1zM25 446h1v1h-1zM26 447h1v1h-1zM27 448h1v1h-1zM28 448h1v1h-1zM29 449h1v1h-1zM30 450h1v1h-1zM31 450h1v1h-1zM32 451h1v1h-1zM33 451h1v1h-1zM34 452h1v1h-1zM35 453h1v1h-1zM36 453h1v1h-1zM37 454h1v1h-1zM38 454h1v1h-1zM39 455h1v1h-1zM40 455h1v1h-1zM41 456h1v1h-1zM42 456h1v1h-1zM43 457h1v1h-1zM44 457h1v1h-1zM45 458h1v1h-1zM46 458h1v1h-1zM47 459h1v1h-1zM48 459h1v1h-1zM49 460h1v1h-1zM50 461h1v1h-1zM51 461h1v1h-1zM52 462h1v1h-1zM53 462h1v1h-1zM54 463h1v1h-1zM55 464h1v1h-1zM56 464h1v1h-1zM57 465h1v1h-1zM58 466h1v1h-1zM59 466h1v1h-1zM60 467h1v1h-1zM61 468h1v1h-1zM62 469h1v1h-1zM63 470h1v1h-1zM64 470h1v1h-1zM65 471h1v1h-1zM66 472h1v1h-1zM67 472h1v1h-1zM68 473h1v1h-1zM69 473h1v1h-1zM70 474h1v1h-1zM71 474h1v1h-1zM72 475h1v1h-1zM73 475h1v1h-1zM74 476h1v1h-1zM75 477h1v1h-1zM76 477h1v1h-1zM77 477h1v1h-1zM78 477h1v1h-1zM79 477h1v1h-1zM80 477h1v1h-1zM81 477h1v1h-1zM82 478h1v1h-1zM83 478h1v1h-1zM84 478h1v1h-1zM85 478h1v1h-1zM86 478h1v1h-1zM87 478h1v1h-1zM88 478h1v1h-1zM89 478h1v1h-1zM90 478h1v1h-1zM91 478h1v1h-1zM92 478h1v1h-1zM93 478h1v1h-1zM94 478h1v1h-1zM95 478h1v1h-1zM96 478h1v1h-1zM97 478h1v1h-1zM98 478h1v1h-1zM99 478h1v1h-1zM100 478h1v1h-1zM101 478h1v1h-1zM102 478h1v1h-1zM103 477h1v1h-1zM104 477h1v1h-1zM105 477h1v1h-1zM106 477h1v1h-1zM107 476h1v1h-1zM108 476h1v1h-1zM109 476h1v1h-1zM110 476h1v1h-1zM111 476h1v1h-1zM112 475h1v1h-1zM113 475h1v1h-1zM114 475h1v1h-1zM115 475h1v1h-1zM116 474h1v1h-1zM117 474h1v1h-1zM118 474h1v1h-1zM119 473h1v1h-1zM120 473h1v1h-1zM121 472h1v1h-1zM122 471h1v1h-1zM123 471h1v1h-1zM124 470h1v1h-1zM125 470h1v1h-1zM126 470h1v1h-1zM127 469h1v1h-1zM128 469h1v1h-1zM129 469h1v1h-1zM130 468h1v1h-1zM131 468h1v1h-1zM132 468h1v1h-1zM133 467h1v1h-1zM134 467h1v1h-1zM135 467h1v1h-1zM136 467h1v1h-1zM137 466h1v1h-1zM138 466h1v1h-1zM139 466h1v1h-1zM140 465h1v1h-1zM141 465h1v1h-1zM142 465h1v1h-1zM143 465h1v1h-1zM144 464h1v1h-1zM145 464h1v1h-1zM146 463h1v1h-1zM147 463h1v1h-1zM148 462h1v1h-1zM149 462h1v1h-1zM150 461h1v1h-1zM151 460h1v1h-1zM152 460h1v1h-1zM153 459h1v1h-1zM154 459h1v1h-1zM155 458h1v1h-1zM156 458h1v1h-1zM157 457h1v1h-1zM158 457h1v1h-1zM159 456h1v1h-1zM160 455h1v1h-1zM161 455h1v1h-1zM162 454h1v1h-1zM163 454h1v1h-1zM164 453h1v1h-1zM165 452h1v1h-1zM166 452h1v1h-1zM167 451h1v1h-1zM168 451h1v1h-1zM169 450h1v1h-1zM170 450h1v1h-1zM171 449h1v1h-1zM172 449h1v1h-1zM173 448h1v1h-1zM174 448h1v1h-1zM175 447h1v1h-1zM176 447h1v1h-1zM177 446h1v1h-1zM178 445h1v1h-1zM179 445h1v1h-1zM180 444h1v1h-1zM181 444h1v1h-1zM182 443h1v1h-1zM183 443h1v1h-1zM184 442h1v1h-1zM185 442h1v1h-1zM186 442h1v1h-1zM187 441h1v1h-1zM188 441h1v1h-1zM189 441h1v1h-1zM190 440h1v1h-1zM191 440h1v1h-1zM192 440h1v1h-1zM193 439h1v1h-1zM194 439h1v1h-1zM195 439h1v1h-1zM196 438h1v1h-1zM197 438h1v1h-1zM198 438h1v1h-1zM199 437h1v1h-1zM200 437h1v1h-1zM201 437h1v1h-1zM202 437h1v1h-1zM203 436h1v1h-1zM204 436h1v1h-1zM205 436h1v1h-1zM206 435h1v1h-1zM207 435h1v1h-1zM208 435h1v1h-1zM209 434h1v1h-1zM210 434h1v1h-1zM211 433h1v1h-1zM212 433h1v1h-1zM213 433h1v1h-1zM214 432h1v1h-1zM215 432h1v1h-1zM216 432h1v1h-1zM217 432h1v1h-1zM218 431h1v1h-1zM219 431h1v1h-1zM220 431h1v1h-1zM221 431h1v1h-1zM222 431h1v1h-1zM223 431h1v1h-1zM224 431h1v1h-1zM225 431h1v1h-1zM226 431h1v1h-1zM227 431h1v1h-1zM228 431h1v1h-1zM229 431h1v1h-1zM230 431h1v1h-1zM231 432h1v1h-1zM232 432h1v1h-1zM233 432h1v1h-1zM234 432h1v1h-1zM235 432h1v1h-1zM236 432h1v1h-1zM237 433h1v1h-1zM238 433h1v1h-1zM239 433h1v1h-1zM240 433h1v1h-1zM241 434h1v1h-1zM242 434h1v1h-1zM243 434h1v1h-1zM244 434h1v1h-1zM245 434h1v1h-1zM246 435h1v1h-1zM247 435h1v1h-1zM248 435h1v1h-1zM249 434h1v1h-1zM250 434h1v1h-1zM251 434h1v1h-1zM252 434h1v1h-1zM253 434h1v1h-1zM254 434h1v1h-1zM255 434h1v1h-1zM256 434h1v1h-1zM257 434h1v1h-1zM258 433h1v1h-1zM259 433h1v1h-1zM260 433h1v1h-1zM261 433h1v1h-1zM262 433h1v1h-1zM263 433h1v1h-1zM264 433h1v1h-1zM265 433h1v1h-1zM266 433h1v1h-1zM267 434h1v1h-1zM268 434h1v1h-1zM269 434h1v1h-1zM270 434h1v1h-1zM271 434h1v1h-1zM272 434h1v1h-1zM273 434h1v1h-1zM274 434h1v1h-1zM275 434h1v1h-1zM276 434h1v1h-1zM277 434h1v1h-1zM278 434h1v1h-1zM279 434h1v1h-1zM280 434h1v1h-1zM281 434h1v1h-1zM282 434h1v1h-1zM283 434h1v1h-1zM284 434h1v1h-1zM285 435h1v1h-1zM286 435h1v1h-1zM287 435h1v1h-1zM288 435h1v1h-1zM289 435h1v1h-1zM290 435h1v1h-1zM291 435h1v1h-1zM292 435h1v1h-1zM293 435h1v1h-1zM294 435h1v1h-1zM295 435h1v1h-1zM296 435h1v1h-1zM297 436h1v1h-1zM298 436h1v1h-1zM299 436h1v1h-1zM300 436h1v1h-1zM301 436h1v1h-1zM302 436h1v1h-1zM303 436h1v1h-1zM304 436h1v1h-1zM305 437h1v1h-1zM306 437h1v1h-1zM307 437h1v1h-1zM308 437h1v1h-1zM309 437h1v1h-1zM310 437h1v1h-1zM311 437h1v1h-1zM312 437h1v1h-1zM313 437h1v1h-1zM314 437h1v1h-1zM315 437h1v1h-1zM316 437h1v1h-1zM317 437h1v1h-1zM318 437h1v1h-1zM319 437h1v1h-1zM320 437h1v1h-1zM321 436h1v1h-1zM322 436h1v1h-1zM323 436h1v1h-1zM324 436h1v1h-1zM325 436h1v1h-1zM326 436h1v1h-1zM327 436h1v1h-1zM328 436h1v1h-1zM329 436h1v1h-1zM330 436h1v1h-1zM331 436h1v1h-1zM332 436h1v1h-1zM333 436h1v1h-1zM334 436h1v1h-1zM335 436h1v1h-1zM336 436h1v1h-1zM337 436h1v1h-1zM338 436h1v1h-1zM339 436h1v1h-1zM340 436h1v1h-1zM341 436h1v1h-1zM342 435h1v1h-1zM343 435h1v1h-1zM344 435h1v1h-1zM345 435h1v1h-1zM346 435h1v1h-1zM347 435h1v1h-1zM348 435h1v1h-1zM349 435h1v1h-1zM350 435h1v1h-1zM351 435h1v1h-1zM352 435h1v1h-1zM353 435h1v1h-1zM354 435h1v1h-1zM355 434h1v1h-1zM356 434h1v1h-1zM357 434h1v1h-1zM358 434h1v1h-1zM359 434h1v1h-1zM360 434h1v1h-1zM361 434h1v1h-1zM362 434h1v1h-1zM363 434h1v1h-1zM364 434h1v1h-1zM365 434h1v1h-1zM366 434h1v1h-1zM367 435h1v1h-1zM368 435h1v1h-1zM369 435h1v1h-1zM370 436h1v1h-1zM371 436h1v1h-1zM372 436h1v1h-1zM373 437h1v1h-1zM374 437h1v1h-1zM375 437h1v1h-1zM376 438h1v1h-1zM377 438h1v1h-1zM378 438h1v1h-1zM379 439h1v1h-1zM380 439h1v1h-1zM381 439h1v1h-1zM382 440h1v1h-1zM383 440h1v1h-1zM384 441h1v1h-1zM385 441h1v1h-1zM386 442h1v1h-1zM387 442h1v1h-1zM388 442h1v1h-1zM389 443h1v1h-1zM390 443h1v1h-1zM391 444h1v1h-1zM392 444h1v1h-1zM393 445h1v1h-1zM394 445h1v1h-1zM395 446h1v1h-1zM396 446h1v1h-1zM397 447h1v1h-1zM398 447h1v1h-1zM399 448h1v1h-1zM400 448h1v1h-1zM401 448h1v1h-1zM402 449h1v1h-1zM403 449h1v1h-1zM404 450h1v1h-1zM405 450h1v1h-1zM406 451h1v1h-1zM407 451h1v1h-1zM408 451h1v1h-1zM409 452h1v1h-1zM410 452h1v1h-1zM411 452h1v1h-1zM412 452h1v1h-1zM413 453h1v1h-1zM414 453h1v1h-1zM415 453h1v1h-1zM416 453h1v1h-1zM417 454h1v1h-1zM418 454h1v1h-1zM419 454h1v1h-1zM420 454h1v1h-1zM421 454h1v1h-1zM422 455h1v1h-1zM423 455h1v1h-1zM424 455h1v1h-1zM425 455h1v1h-1zM426 456h1v1h-1zM427 456h1v1h-1zM428 456h1v1h-1zM429 456h1v1h-1zM430 456h1v1h-1zM431 456h1v1h-1zM432 457h1v1h-1zM433 457h1v1h-1zM434 457h1v1h-1zM435 458h1v1h-1zM436 458h1v1h-1zM437 458h1v1h-1zM438 459h1v1h-1zM439 459h1v1h-1zM440 459h1v1h-1zM441 460h1v1h-1zM442 460h1v1h-1zM443 460h1v1h-1zM444 460h1v1h-1zM445 460h1v1h-1zM446 461h1v1h-1zM447 461h1v1h-1zM448 461h1v1h-1zM449 461h1v1h-1zM450 462h1v1h-1zM451 462h1v1h-1zM452 462h1v1h-1zM453 462h1v1h-1zM454 462h1v1h-1zM455 463h1v1h-1zM456 463h1v1h-1zM457 463h1v1h-1zM458 463h1v1h-1zM459 463h1v1h-1zM460 463h1v1h-1zM461 463h1v1h-1zM462 464h1v1h-1zM463 464h1v1h-1zM464 463h1v1h-1zM465 463h1v1h-1zM466 463h1v1h-1zM467 463h1v1h-1zM468 463h1v1h-1zM469 463h1v1h-1zM470 463h1v1h-1zM471 463h1v1h-1zM472 463h1v1h-1zM473 463h1v1h-1zM474 463h1v1h-1zM475 463h1v1h-1zM476 463h1v1h-1zM477 463h1v1h-1zM478 463h1v1h-1zM479 463h1v1h-1zM480 462h1v1h-1zM481 462h1v1h-1zM482 462h1v1h-1zM483 462h1v1h-1zM484 461h1v1h-1zM485 461h1v1h-1zM486 461h1v1h-1zM487 460h1v1h-1zM488 460h1v1h-1zM489 460h1v1h-1zM490 459h1v1h-1zM491 459h1v1h-1zM492 459h1v1h-1zM493 458h1v1h-1zM494 458h1v1h-1zM495 457h1v1h-1zM496 457h1v1h-1zM497 456h1v1h-1zM498 456h1v1h-1zM499 455h1v1h-1zM500 455h1v1h-1zM501 454h1v1h-1zM502 454h1v1h-1zM503 453h1v1h-1zM504 453h1v1h-1zM505 453h1v1h-1zM506 452h1v1h-1zM507 452h1v1h-1zM508 451h1v1h-1zM509 451h1v1h-1zM510 450h1v1h-1zM511 450h1v1h-1zM512 449h1v1h-1zM513 449h1v1h-1zM514 448h1v1h-1zM515 448h1v1h-1zM516 447h1v1h-1zM517 447h1v1h-1zM518 446h1v1h-1zM519 446h1v1h-1zM520 445h1v1h-1zM521 445h1v1h-1zM522 444h1v1h-1zM523 444h1v1h-1zM524 443h1v1h-1zM525 443h1v1h-1zM526 442h1v1h-1zM527 442h1v1h-1zM528 441h1v1h-1zM529 441h1v1h-1zM530 441h1v1h-1zM531 441h1v1h-1zM532 441h1v1h-1zM533 441h1v1h-1zM534 441h1v1h-1zM535 441h1v1h-1zM536 440h1v1h-1zM537 440h1v1h-1zM538 440h1v1h-1zM539 440h1v1h-1zM540 439h1v1h-1zM541 439h1v1h-1zM542 439h1v1h-1zM543 439h1v1h-1zM544 438h1v1h-1zM545 438h1v1h-1zM546 438h1v1h-1zM547 438h1v1h-1zM548 438h1v1h-1zM549 438h1v1h-1zM550 437h1v1h-1zM551 437h1v1h-1zM552 437h1v1h-1zM553 437h1v1h-1zM554 437h1v1h-1zM555 437h1v1h-1zM556 437h1v1h-1zM557 437h1v1h-1zM558 437h1v1h-1zM559 437h1v1h-1zM560 437h1v1h-1zM561 437h1v1h-1zM562 437h1v1h-1zM563 437h1v1h-1zM564 437h1v1h-1zM565 437h1v1h-1zM566 437h1v1h-1zM567 437h1v1h-1zM568 437h1v1h-1zM569 438h1v1h-1zM570 438h1v1h-1zM571 438h1v1h-1zM572 438h1v1h-1zM573 438h1v1h-1zM574 438h1v1h-1zM575 439h1v1h-1zM576 439h1v1h-1zM577 439h1v1h-1zM578 439h1v1h-1zM579 440h1v1h-1zM580 440h1v1h-1zM581 440h1v1h-1zM582 441h1v1h-1zM583 441h1v1h-1zM584 441h1v1h-1zM585 441h1v1h-1zM586 441h1v1h-1zM587 441h1v1h-1zM588 441h1v1h-1zM589 442h1v1h-1zM590 442h1v1h-1zM591 442h1v1h-1zM592 442h1v1h-1zM593 442h1v1h-1zM594 442h1v1h-1zM595 442h1v1h-1zM596 442h1v1h-1zM597 443h1v1h-1zM598 443h1v1h-1zM599 443h1v1h-1zM600 443h1v1h-1zM601 444h1v1h-1zM602 444h1v1h-1zM603 444h1v1h-1zM604 445h1v1h-1zM605 445h1v1h-1zM606 445h1v1h-1zM607 446h1v1h-1zM608 446h1v1h-1zM609 447h1v1h-1zM610 447h1v1h-1zM611 447h1v1h-1zM612 448h1v1h-1zM613 448h1v1h-1zM614 449h1v1h-1zM615 450h1v1h-1zM616 450h1v1h-1zM617 451h1v1h-1zM618 451h1v1h-1zM619 452h1v1h-1zM620 453h1v1h-1zM621 453h1v1h-1zM622 454h1v1h-1zM623 455h1v1h-1zM624 456h1v1h-1zM625 456h1v1h-1zM626 457h1v1h-1zM627 458h1v1h-1zM628 458h1v1h-1zM629 459h1v1h-1zM630 460h1v1h-1zM631 460h1v1h-1zM632 461h1v1h-1zM633 462h1v1h-1zM634 462h1v1h-1zM635 463h1v1h-1zM636 464h1v1h-1zM637 464h1v1h-1zM638 465h1v1h-1zM639 466h1v1h-1zM640 466h1v1h-1zM641 467h1v1h-1zM642 468h1v1h-1zM643 469h1v1h-1zM644 469h1v1h-1zM645 470h1v1h-1zM646 471h1v1h-1zM647 471h1v1h-1zM648 472h1v1h-1zM649 472h1v1h-1zM650 472h1v1h-1zM651 473h1v1h-1zM652 473h1v1h-1zM653 473h1v1h-1zM654 473h1v1h-1zM655 474h1v1h-1zM656 474h1v1h-1zM657 475h1v1h-1zM658 475h1v1h-1zM659 476h1v1h-1zM660 476h1v1h-1zM661 477h1v1h-1zM662 477h1v1h-1zM663 477h1v1h-1zM664 478h1v1h-1zM665 478h1v1h-1zM666 479h1v1h-1zM667 479h1v1h-1zM668 479h1v1h-1zM669 480h1v1h-1zM670 480h1v1h-1zM671 481h1v1h-1zM672 481h1v1h-1zM673 481h1v1h-1zM674 482h1v1h-1zM675 482h1v1h-1zM676 482h1v1h-1zM677 483h1v1h-1zM678 483h1v1h-1zM679 483h1v1h-1zM680 484h1v1h-1zM681 484h1v1h-1zM682 484h1v1h-1zM683 485h1v1h-1zM684 485h1v1h-1zM685 485h1v1h-1zM686 486h1v1h-1zM687 486h1v1h-1zM688 486h1v1h-1zM689 486h1v1h-1zM690 486h1v1h-1zM691 487h1v1h-1zM692 487h1v1h-1zM693 487h1v1h-1zM694 487h1v1h-1zM695 487h1v1h-1zM696 487h1v1h-1zM697 487h1v1h-1zM698 487h1v1h-1zM699 487h1v1h-1zM700 487h1v1h-1zM701 487h1v1h-1zM702 487h1v1h-1zM703 487h1v1h-1zM704 487h1v1h-1zM705 487h1v1h-1zM706 487h1v1h-1zM707 488h1v1h-1zM708 488h1v1h-1zM709 488h1v1h-1zM710 488h1v1h-1zM711 488h1v1h-1zM712 488h1v1h-1zM713 488h1v1h-1zM714 488h1v1h-1zM715 488h1v1h-1zM716 488h1v1h-1zM717 488h1v1h-1zM718 488h1v1h-1zM719 487h1v1h-1zM720 487h1v1h-1zM721 487h1v1h-1zM722 487h1v1h-1zM723 487h1v1h-1zM724 487h1v1h-1zM725 487h1v1h-1zM726 486h1v1h-1zM727 486h1v1h-1zM728 486h1v1h-1zM729 485h1v1h-1zM730 485h1v1h-1zM731 485h1v1h-1zM732 484h1v1h-1zM733 484h1v1h-1zM734 484h1v1h-1zM735 483h1v1h-1zM736 483h1v1h-1zM737 482h1v1h-1zM738 482h1v1h-1zM739 481h1v1h-1zM740 481h1v1h-1zM741 480h1v1h-1zM742 479h1v1h-1zM743 479h1v1h-1zM744 478h1v1h-1zM745 477h1v1h-1zM746 476h1v1h-1zM747 476h1v1h-1zM748 475h1v1h-1zM749 474h1v1h-1zM750 474h1v1h-1zM751 473h1v1h-1zM752 472h1v1h-1zM753 471h1v1h-1zM754 471h1v1h-1zM755 470h1v1h-1zM756 469h1v1h-1zM757 469h1v1h-1zM758 468h1v1h-1zM759 467h1v1h-1zM760 466h1v1h-1zM761 466h1v1h-1zM762 465h1v1h-1zM763 464h1v1h-1zM764 463h1v1h-1zM765 463h1v1h-1zM766 462h1v1h-1zM767 461h1v1h-1zM768 461h1v1h-1zM769 460h1v1h-1zM770 460h1v1h-1zM771 459h1v1h-1zM772 459h1v1h-1zM773 459h1v1h-1zM774 458h1v1h-1zM775 458h1v1h-1zM776 458h1v1h-1zM777 457h1v1h-1zM778 457h1v1h-1zM779 456h1v1h-1zM780 456h1v1h-1zM781 455h1v1h-1zM782 455h1v1h-1zM783 454h1v1h-1zM784 454h1v1h-1zM785 453h1v1h-1zM786 453h1v1h-1zM787 453h1v1h-1zM788 452h1v1h-1zM789 452h1v1h-1zM790 451h1v1h-1zM791 451h1v1h-1zM792 451h1v1h-1zM793 450h1v1h-1zM794 450h1v1h-1zM795 449h1v1h-1zM796 449h1v1h-1zM797 448h1v1h-1zM798 448h1v1h-1zM799 448h1v1h-1zM800 447h1v1h-1zM801 447h1v1h-1zM802 446h1v1h-1zM803 446h1v1h-1zM804 446h1v1h-1zM805 445h1v1h-1zM806 445h1v1h-1zM807 445h1v1h-1zM808 444h1v1h-1zM809 444h1v1h-1zM810 443h1v1h-1zM811 443h1v1h-1zM812 442h1v1h-1zM813 442h1v1h-1zM814 441h1v1h-1zM815 441h1v1h-1zM816 440h1v1h-1zM817 440h1v1h-1zM818 440h1v1h-1zM819 439h1v1h-1zM820 439h1v1h-1zM821 438h1v1h-1zM822 438h1v1h-1zM823 437h1v1h-1zM824 437h1v1h-1zM825 436h1v1h-1zM826 435h1v1h-1zM827 435h1v1h-1zM828 434h1v1h-1zM829 434h1v1h-1zM830 433h1v1h-1zM831 432h1v1h-1zM832 432h1v1h-1zM833 431h1v1h-1zM834 431h1v1h-1zM835 430h1v1h-1zM836 430h1v1h-1zM837 430h1v1h-1zM838 429h1v1h-1zM839 429h1v1h-1zM840 429h1v1h-1zM841 428h1v1h-1zM842 428h1v1h-1zM843 427h1v1h-1zM844 427h1v1h-1zM845 426h1v1h-1zM846 426h1v1h-1zM847 426h1v1h-1zM848 425h1v1h-1zM849 425h1v1h-1zM850 424h1v1h-1zM851 424h1v1h-1zM852 423h1v1h-1zM853 423h1v1h-1zM854 423h1v1h-1zM855 422h1v1h-1zM856 422h1v1h-1zM857 421h1v1h-1zM858 420h1v1h-1zM859 420h1v1h-1zM860 419h1v1h-1zM861 417h1v2h-1zM862 416h1v1h-1zM863 415h1v1h-1zM864 414h1v1h-1zM865 413h1v2h-1zM866 412h1v1h-1zM867 411h1v1h-1zM868 409h1v2h-1zM869 409h1v1h-1zM870 407h1v2h-1zM871 406h1v1h-1zM872 404h1v2h-1zM873 402h1v2h-1zM874 401h1v1h-1zM875 400h1v1h-1zM876 398h1v2h-1zM877 397h1v1h-1zM878 395h1v2h-1zM879 394h1v1h-1zM880 392h1v2h-1zM881 391h1v1h-1zM882 389h1v2h-1zM883 387h1v2h-1zM884 385h1v2h-1zM885 383h1v2h-1zM886 382h1v2h-1zM887 379h1v3h-1zM888 376h1v3h-1zM889 373h1v3h-1zM890 370h1v3h-1zM891 367h1v3h-1zM892 365h1v2h-1zM893 362h1v3h-1zM894 359h1v3h-1zM895 356h1v3h-1zM896 354h1v2h-1zM897 352h1v2h-1zM898 349h1v3h-1zM899 346h1v3h-1zM900 343h1v3h-1zM901 341h1v2h-1zM902 338h1v3h-1zM903 335h1v3h-1zM904 332h1v3h-1zM905 329h1v3h-1zM906 326h1v3h-1zM907 324h1v2h-1zM908 321h1v3h-1zM909 318h1v3h-1zM910 315h1v3h-1zM911 312h1v3h-1zM912 310h1v2h-1zM913 307h1v3h-1zM914 305h1v2h-1zM915 303h1v2h-1zM916 302h1v1h-1zM917 300h1v2h-1zM918 298h1v2h-1zM919 296h1v2h-1zM920 294h1v2h-1zM921 292h1v2h-1zM922 290h1v2h-1zM923 288h1v2h-1zM924 286h1v2h-1zM925 284h1v2h-1zM926 282h1v2h-1zM927 281h1v1h-1zM928 279h1v2h-1zM929 277h1v2h-1zM930 275h1v2h-1zM931 273h1v2h-1zM932 271h1v2h-1zM933 269h1v2h-1zM934 268h1v1h-1zM935 265h1v3h-1zM936 263h1v2h-1zM937 261h1v2h-1zM938 259h1v2h-1zM939 257h1v2h-1zM940 255h1v2h-1zM941 253h1v2h-1zM942 251h1v2h-1zM943 250h1v1h-1zM944 248h1v2h-1zM945 247h1v2h-1zM946 245h1v2h-1zM947 244h1v1h-1zM948 242h1v2h-1zM949 240h1v2h-1zM950 238h1v2h-1zM951 237h1v1h-1zM952 235h1v2h-1zM953 233h1v2h-1zM954 231h1v2h-1zM955 230h1v1h-1zM956 228h1v2h-1zM957 227h1v1h-1zM958 225h1v2h-1zM959 224h1v1h-1zM960 222h1v2h-1zM961 222h1v1h-1zM962 220h1v2h-1zM963 219h1v1h-1zM964 217h1v2h-1zM965 216h1v1h-1zM966 214h1v2h-1zM967 213h1v1h-1zM968 212h1v1h-1zM969 210h1v2h-1zM970 210h1v1h-1zM971 209h1v1h-1zM972 208h1v1h-1zM973 206h1v2h-1zM974 205h1v1h-1zM975 204h1v1h-1zM976 203h1v1h-1zM977 202h1v1h-1zM978 201h1v1h-1zM979 200h1v1h-1zM980 200h1v1h-1zM981 199h1v1h-1zM982 199h1v1h-1zM983 199h1v1h-1zM984 198h1v1h-1zM985 197h1v1h-1zM986 196h1v1h-1zM987 195h1v1h-1zM988 195h1v1h-1zM989 194h1v1h-1zM990 193h1v1h-1zM991 193h1v1h-1zM992 193h1v1h-1zM993 193h1v1h-1zM994 192h1v1h-1zM995 192h1v1h-1zM996 192h1v1h-1zM997 192h1v1h-1zM998 192h1v1h-1zM999 191h1v1h-1zM1000 191h1v1h-1zM1001 191h1v1h-1zM1002 191h1v1h-1zM1003 191h1v1h-1zM1004 191h1v1h-1zM1005 191h1v1h-1zM1006 191h1v1h-1zM1007 191h1v1h-1zM1008 191h1v1h-1zM1009 192h1v2h-1zM1010 194h1v1h-1zM1011 195h1v1h-1zM1012 196h1v1h-1zM1013 197h1v1h-1zM1014 198h1v1h-1zM1015 198h1v1h-1zM1016 199h1v1h-1zM1017 200h1v1h-1zM1018 200h1v1h-1zM1019 201h1v1h-1zM1020 202h1v1h-1zM1021 202h1v1h-1zM1022 203h1v1h-1zM1023 204h1v1h-1zM1024 205h1v1h-1zM1025 206h1v2h-1zM1026 207h1v1h-1zM1027 208h1v1h-1zM1028 209h1v1h-1zM1029 210h1v2h-1zM1030 212h1v1h-1zM1031 213h1v1h-1zM1032 214h1v1h-1zM1033 215h1v1h-1zM1034 215h1v1h-1zM1035 216h1v1h-1zM1036 217h1v1h-1zM1037 217h1v1h-1zM1038 217h1v1h-1zM1039 218h1v1h-1zM1040 218h1v1h-1zM1041 217h1v1h-1zM1042 217h1v1h-1zM1043 217h1v1h-1zM1044 217h1v1h-1zM1045 217h1v1h-1zM1046 216h1v1h-1zM1047 216h1v1h-1zM1048 216h1v1h-1zM1049 217h1v1h-1zM1050 217h1v1h-1zM1051 217h1v1h-1zM1052 217h1v1h-1zM1053 217h1v1h-1zM1054 218h1v1h-1zM1055 218h1v1h-1zM1056 218h1v1h-1zM1057 218h1v1h-1zM1058 218h1v1h-1zM1059 219h1v1h-1zM1060 219h1v1h-1zM1061 219h1v1h-1zM1062 220h1v1h-1zM1063 220h1v1h-1zM1064 220h1v1h-1zM1065 221h1v1h-1zM1066 221h1v1h-1zM1067 222h1v1h-1zM1068 222h1v1h-1zM1069 223h1v1h-1zM1070 223h1v1h-1zM1071 224h1v1h-1zM1072 224h1v1h-1zM1073 224h1v1h-1zM1074 225h1v1h-1zM1075 225h1v1h-1zM1076 225h1v1h-1zM1077 225h1v1h-1zM1078 225h1v1h-1zM1079 225h1v1h-1zM1080 224h1v1h-1zM1081 224h1v1h-1zM1082 224h1v1h-1zM1083 224h1v1h-1zM1084 224h1v1h-1zM1085 223h1v1h-1zM1086 223h1v1h-1zM1087 223h1v1h-1zM1088 223h1v1h-1zM1089 222h1v1h-1zM1090 222h1v1h-1zM1091 222h1v1h-1zM1092 222h1v1h-1zM1093 221h1v1h-1zM1094 221h1v1h-1zM1095 220h1v1h-1zM1096 220h1v1h-1zM1097 220h1v1h-1zM1098 220h1v1h-1zM1099 220h1v1h-1zM1100 220h1v1h-1zM1101 220h1v1h-1zM1102 220h1v1h-1zM1103 221h1v1h-1zM1104 221h1v1h-1zM1105 222h1v1h-1zM1106 222h1v1h-1zM1107 223h1v1h-1zM1108 223h1v1h-1zM1109 223h1v1h-1zM1110 224h1v1h-1zM1111 224h1v1h-1zM1112 224h1v1h-1zM1113 224h1v1h-1zM1114 224h1v1h-1zM1115 224h1v1h-1zM1116 225h1v1h-1zM1117 225h1v1h-1zM1118 225h1v1h-1zM1119 225h1v1h-1zM1120 225h1v1h-1zM1121 225h1v1h-1zM1122 225h1v1h-1zM1123 226h1v1h-1zM1124 226h1v1h-1zM1125 227h1v1h-1zM1126 228h1v1h-1zM1127 229h1v1h-1zM1128 230h1v1h-1zM1129 230h1v1h-1zM1130 231h1v1h-1zM1131 232h1v1h-1zM1132 232h1v1h-1zM1133 233h1v1h-1zM1134 234h1v1h-1zM1135 234h1v1h-1zM1136 235h1v1h-1zM1137 236h1v1h-1zM1138 236h1v1h-1zM1139 237h1v1h-1zM1140 238h1v1h-1zM1141 238h1v1h-1zM1142 239h1v1h-1zM1143 240h1v1h-1zM1144 241h1v1h-1zM1145 242h1v1h-1zM1146 243h1v1h-1zM1147 244h1v1h-1zM1148 245h1v1h-1zM1149 246h1v2h-1zM1150 247h1v1h-1zM1151 248h1v1h-1zM1152 249h1v1h-1zM1153 250h1v1h-1zM1154 251h1v1h-1zM1155 252h1v1h-1zM1156 253h1v1h-1zM1157 254h1v1h-1zM1158 255h1v1h-1zM1159 256h1v1h-1zM1160 257h1v2h-1zM1161 258h1v2h-1zM1162 260h1v2h-1zM1163 262h1v1h-1zM1164 263h1v2h-1zM1165 265h1v1h-1zM1166 266h1v2h-1zM1167 268h1v1h-1zM1168 269h1v2h-1zM1169 271h1v2h-1zM1170 272h1v2h-1zM1171 274h1v1h-1zM1172 275h1v2h-1zM1173 277h1v1h-1zM1174 278h1v2h-1zM1175 280h1v1h-1zM1176 281h1v2h-1zM1177 283h1v2h-1zM1178 285h1v2h-1zM1179 287h1v1h-1zM1180 287h1v1h-1zM1181 288h1v1h-1zM1182 289h1v1h-1zM1183 290h1v1h-1zM1184 291h1v1h-1zM1185 292h1v1h-1zM1186 292h1v1h-1zM1187 293h1v1h-1zM1188 294h1v1h-1zM1189 295h1v1h-1zM1190 295h1v1h-1zM1191 296h1v1h-1zM1192 297h1v1h-1zM1193 298h1v1h-1zM1194 299h1v1h-1zM1195 300h1v1h-1zM1196 301h1v1h-1zM1197 301h1v2h-1zM1198 303h1v1h-1zM1199 304h1v1h-1zM1200 305h1v1h-1zM1201 306h1v2h-1zM1202 308h1v1h-1zM1203 309h1v1h-1zM1204 310h1v1h-1zM1205 310h1v2h-1zM1206 312h1v1h-1zM1207 313h1v1h-1zM1208 314h1v1h-1zM1209 315h1v2h-1zM1210 317h1v1h-1zM1211 318h1v1h-1zM1212 319h1v1h-1zM1213 319h1v2h-1zM1214 321h1v1h-1zM1215 322h1v1h-1zM1216 323h1v1h-1zM1217 324h1v1h-1zM1218 325h1v1h-1zM1219 326h1v1h-1zM1220 327h1v1h-1zM1221 328h1v1h-1zM1222 329h1v1h-1zM1223 329h1v1h-1zM1224 330h1v1h-1zM1225 331h1v1h-1zM1226 332h1v1h-1zM1227 332h1v1h-1zM1228 333h1v1h-1zM1229 334h1v1h-1zM1230 334h1v1h-1zM1231 335h1v1h-1zM1232 336h1v1h-1zM1233 336h1v1h-1zM1234 337h1v1h-1zM1235 338h1v1h-1zM1236 339h1v1h-1zM1237 339h1v1h-1zM1238 340h1v1h-1zM1239 341h1v1h-1zM1240 342h1v1h-1zM1241 342h1v1h-1zM1242 343h1v1h-1zM1243 344h1v1h-1zM1244 344h1v1h-1zM1245 344h1v1h-1zM1246 345h1v1h-1zM1247 345h1v1h-1zM1248 346h1v1h-1zM1249 346h1v1h-1zM1250 347h1v1h-1zM1251 347h1v1h-1zM1252 348h1v1h-1zM1253 348h1v1h-1zM1254 348h1v1h-1zM1255 349h1v1h-1zM1256 349h1v1h-1zM1257 350h1v1h-1zM1258 351h1v1h-1zM1259 351h1v1h-1zM1260 352h1v1h-1zM1261 352h1v1h-1zM1262 353h1v1h-1zM1263 353h1v1h-1zM1264 353h1v1h-1zM1265 353h1v1h-1zM1266 353h1v1h-1zM1267 354h1v1h-1z" fill="#0000cd"/><path d="M3 457h1v1h-1zM4 458h1v2h-1zM5 460h1v1h-1zM6 461h1v2h-1zM7 463h1v1h-1zM8 464h1v2h-1zM9 466h1v1h-1zM10 467h1v2h-1zM11 469h1v1h-1zM12 469h1v1h-1zM13 470h1v1h-1zM14 471h1v1h-1zM15 471h1v1h-1zM16 472h1v1h-1zM17 472h1v1h-1zM18 473h1v1h-1zM19 474h1v1h-1zM20 474h1v1h-1zM21 474h1v1h-1zM22 475h1v1h-1zM23 475h1v1h-1zM24 475h1v1h-1zM25 476h1v1h-1zM26 476h1v1h-1zM27 477h1v1h-1zM28 477h1v1h-1zM29 478h1v1h-1zM30 479h1v1h-1zM31 479h1v1h-1zM32 480h1v1h-1zM33 480h1v1h-1zM34 481h1v1h-1zM35 481h1v1h-1zM36 481h1v1h-1zM37 482h1v1h-1zM38 482h1v1h-1zM39 482h1v1h-1zM40 483h1v1h-1zM41 483h1v1h-1zM42 484h1v1h-1zM43 484h1v1h-1zM44 484h1v1h-1zM45 485h1v1h-1zM46 485h1v1h-1zM47 485h1v1h-1zM48 486h1v1h-1zM49 486h1v1h-1zM50 486h1v1h-1zM51 486h1v1h-1zM52 486h1v1h-1zM53 486h1v1h-1zM54 487h1v1h-1zM55 487h1v1h-1zM56 487h1v1h-1zM57 487h1v1h-1zM58 486h1v1h-1zM59 486h1v1h-1zM60 486h1v1h-1zM61 486h1v1h-1zM62 486h1v1h-1zM63 486h1v1h-1zM64 486h1v1h-1zM65 486h1v1h-1zM66 486h1v1h-1zM67 486h1v1h-1zM68 486h1v1h-1zM69 485h1v1h-1zM70 485h1v1h-1zM71 485h1v1h-1zM72 485h1v1h-1zM73 484h1v1h-1zM74 484h1v1h-1zM75 484h1v1h-1zM76 484h1v1h-1zM77 484h1v1h-1zM78 484h1v1h-1zM79 484h1v1h-1zM80 483h1v1h-1zM81 483h1v1h-1zM82 482h1v1h-1zM83 482h1v1h-1zM84 481h1v1h-1zM85 481h1v1h-1zM86 480h1v1h-1zM87 480h1v1h-1zM88 479h1v1h-1zM89 479h1v1h-1zM90 478h1v1h-1zM91 478h1v1h-1zM92 477h1v1h-1zM93 476h1v1h-1zM94 476h1v1h-1zM95 475h1v1h-1zM96 474h1v1h-1zM97 474h1v1h-1zM98 473h1v1h-1zM99 473h1v1h-1zM100 472h1v1h-1zM101 471h1v1h-1zM102 471h1v1h-1zM103 470h1v1h-1zM104 469h1v1h-1zM105 468h1v1h-1zM106 467h1v1h-1zM107 466h1v1h-1zM108 466h1v1h-1zM109 465h1v1h-1zM110 465h1v1h-1zM111 464h1v1h-1zM112 464h1v1h-1zM113 463h1v1h-1zM114 462h1v1h-1zM115 462h1v1h-1zM116 461h1v1h-1zM117 460h1v1h-1zM118 459h1v1h-1zM119 458h1v1h-1zM120 457h1v1h-1zM121 456h1v1h-1zM122 455h1v1h-1zM123 454h1v1h-1zM124 453h1v1h-1zM125 453h1v1h-1zM126 452h1v1h-1zM127 452h1v1h-1zM128 451h1v1h-1zM129 451h1v1h-1zM130 451h1v1h-1zM131 450h1v1h-1zM132 450h1v1h-1zM133 449h1v1h-1zM134 449h1v1h-1zM135 449h1v1h-1zM136 449h1v1h-1zM137 448h1v1h-1zM138 448h1v1h-1zM139 448h1v1h-1zM140 448h1v1h-1zM141 447h1v1h-1zM142 447h1v1h-1zM143 447h1v1h-1zM144 446h1v1h-1zM145 445h1v1h-1zM146 444h1v1h-1zM147 444h1v1h-1zM148 443h1v1h-1zM149 442h1v1h-1zM150 441h1v1h-1zM151 441h1v1h-1zM152 440h1v1h-1zM153 439h1v1h-1zM154 439h1v1h-1zM155 438h1v1h-1zM156 438h1v1h-1zM157 437h1v1h-1zM158 437h1v1h-1zM159 437h1v1h-1zM160 436h1v1h-1zM161 436h1v1h-1zM162 436h1v1h-1zM163 435h1v1h-1zM164 435h1v1h-1zM165 434h1v1h-1zM166 434h1v1h-1zM167 433h1v1h-1zM168 433h1v1h-1zM169 432h1v1h-1zM170 432h1v1h-1zM171 431h1v1h-1zM172 431h1v1h-1zM173 431h1v1h-1zM174 431h1v1h-1zM175 430h1v1h-1zM176 431h1v1h-1zM177 431h1v1h-1zM178 431h1v1h-1zM179 431h1v1h-1zM180 431h1v1h-1zM181 430h1v1h-1zM182 430h1v1h-1zM183 430h1v1h-1zM184 430h1v1h-1zM185 429h1v1h-1zM186 429h1v1h-1zM187 429h1v1h-1zM188 428h1v1h-1zM189 428h1v1h-1zM190 428h1v1h-1zM191 427h1v1h-1zM192 427h1v1h-1zM193 427h1v1h-1zM194 427h1v1h-1zM195 426h1v1h-1zM196 426h1v1h-1zM197 426h1v1h-1zM198 425h1v1h-1zM199 425h1v1h-1zM200 425h1v1h-1zM201 425h1v1h-1zM202 425h1v1h-1zM203 425h1v1h-1zM204 425h1v1h-1zM205 426h1v1h-1zM206 426h1v1h-1zM207 426h1v1h-1zM208 425h1v1h-1zM209 425h1v1h-1zM210 425h1v1h-1zM211 425h1v1h-1zM212 424h1v1h-1zM213 424h1v1h-1zM214 424h1v1h-1zM215 423h1v1h-1zM216 424h1v1h-1zM217 424h1v1h-1zM218 424h1v1h-1zM219 424h1v1h-1zM220 425h1v1h-1zM221 425h1v1h-1zM222 426h1v1h-1zM223 426h1v1h-1zM224 427h1v1h-1zM225 427h1v1h-1zM226 428h1v1h-1zM227 428h1v1h-1zM228 429h1v1h-1zM229 430h1v1h-1zM230 430h1v1h-1zM231 431h1v1h-1zM232 432h1v1h-1zM233 433h1v1h-1zM234 433h1v1h-1zM235 434h1v1h-1zM236 435h1v1h-1zM237 436h1v1h-1zM238 436h1v1h-1zM239 437h1v1h-1zM240 438h1v1h-1zM241 438h1v1h-1zM242 438h1v1h-1zM243 439h1v1h-1zM244 439h1v1h-1zM245 440h1v1h-1zM246 440h1v1h-1zM247 440h1v1h-1zM248 440h1v1h-1zM249 440h1v1h-1zM250 440h1v1h-1zM251 441h1v1h-1zM252 441h1v1h-1zM253 441h1v1h-1zM254 441h1v1h-1zM255 441h1v1h-1zM256 441h1v1h-1zM257 441h1v1h-1zM258 441h1v1h-1zM259 442h1v1h-1zM260 442h1v1h-1zM261 442h1v1h-1zM262 443h1v1h-1zM263 443h1v1h-1zM264 443h1v1h-1zM265 443h1v1h-1zM266 444h1v1h-1zM267 444h1v1h-1zM268 444h1v1h-1zM269 444h1v1h-1zM270 445h1v1h-1zM271 445h1v1h-1zM272 445h1v1h-1zM273 445h1v1h-1zM274 445h1v1h-1zM275 445h1v1h-1zM276 444h1v1h-1zM277 444h1v1h-1zM278 444h1v1h-1zM279 444h1v1h-1zM280 443h1v1h-1zM281 443h1v1h-1zM282 442h1v1h-1zM283 442h1v1h-1zM284 441h1v1h-1zM285 441h1v1h-1zM286 441h1v1h-1zM287 440h1v1h-1zM288 440h1v1h-1zM289 439h1v1h-1zM290 438h1v1h-1zM291 437h1v1h-1zM292 437h1v1h-1zM293 436h1v1h-1zM294 436h1v1h-1zM295 435h1v1h-1zM296 435h1v1h-1zM297 435h1v1h-1zM298 434h1v1h-1zM299 434h1v1h-1zM300 434h1v1h-1zM301 434h1v1h-1zM302 434h1v1h-1zM303 434h1v1h-1zM304 434h1v1h-1zM305 434h1v1h-1zM306 434h1v1h-1zM307 434h1v1h-1zM308 434h1v1h-1zM309 435h1v1h-1zM310 435h1v1h-1zM311 435h1v1h-1zM312 435h1v1h-1zM313 434h1v1h-1zM314 434h1v1h-1zM315 434h1v1h-1zM316 433h1v1h-1zM317 433h1v1h-1zM318 433h1v1h-1zM319 432h1v1h-1zM320 432h1v1h-1zM321 432h1v1h-1zM322 432h1v1h-1zM323 431h1v1h-1zM324 431h1v1h-1zM325 431h1v1h-1zM326 431h1v1h-1zM327 430h1v1h-1zM328 430h1v1h-1zM329 430h1v1h-1zM330 430h1v1h-1zM331 430h1v1h-1zM332 429h1v1h-1zM333 429h1v1h-1zM334 429h1v1h-1zM335 428h1v1h-1zM336 428h1v1h-1zM337 428h1v1h-1zM338 428h1v1h-1zM339 427h1v1h-1zM340 427h1v1h-1zM341 427h1v1h-1zM342 427h1v1h-1zM343 427h1v1h-1zM344 428h1v1h-1zM345 428h1v1h-1zM346 429h1v1h-1zM347 429h1v1h-1zM348 429h1v1h-1zM349 430h1v1h-1zM350 430h1v1h-1zM351 431h1v1h-1zM352 431h1v1h-1zM353 431h1v1h-1zM354 431h1v1h-1zM355 431h1v1h-1zM356 431h1v1h-1zM357 431h1v1h-1zM358 432h1v1h-1zM359 432h1v1h-1zM360 432h1v1h-1zM361 432h1v1h-1zM362 433h1v1h-1zM363 433h1v1h-1zM364 433h1v1h-1zM365 434h1v1h-1zM366 434h1v1h-1zM367 435h1v1h-1zM368 436h1v1h-1zM369 436h1v1h-1zM370 437h1v1h-1zM371 438h1v1h-1zM372 439h1v1h-1zM373 440h1v1h-1zM374 441h1v1h-1zM375 442h1v1h-1zM376 443h1v1h-1zM377 444h1v2h-1zM378 446h1v1h-1zM379 447h1v1h-1zM380 448h1v1h-1zM381 449h1v2h-1zM382 450h1v1h-1zM383 451h1v1h-1zM384 452h1v1h-1zM385 453h1v2h-1zM386 455h1v1h-1zM387 456h1v1h-1zM388 456h1v2h-1zM389 458h1v1h-1zM390 459h1v2h-1zM391 461h1v1h-1zM392 462h1v1h-1zM393 463h1v1h-1zM394 464h1v2h-1zM395 466h1v1h-1zM396 467h1v1h-1zM397 467h1v2h-1zM398 469h1v1h-1zM399 470h1v1h-1zM400 471h1v1h-1zM401 471h1v1h-1zM402 472h1v1h-1zM403 472h1v1h-1zM404 473h1v1h-1zM405 473h1v1h-1zM406 474h1v1h-1zM407 474h1v1h-1zM408 475h1v1h-1zM409 475h1v1h-1zM410 475h1v1h-1zM411 475h1v1h-1zM412 476h1v1h-1zM413 476h1v1h-1zM414 476h1v1h-1zM415 476h1v1h-1zM416 477h1v1h-1zM417 477h1v1h-1zM418 477h1v1h-1zM419 477h1v1h-1zM420 477h1v1h-1zM421 477h1v1h-1zM422 477h1v1h-1zM423 477h1v1h-1zM424 477h1v1h-1zM425 477h1v1h-1zM426 477h1v1h-1zM427 477h1v1h-1zM428 477h1v1h-1zM429 476h1v1h-1zM430 476h1v1h-1zM431 476h1v1h-1zM432 476h1v1h-1zM433 475h1v1h-1zM434 475h1v1h-1zM435 474h1v1h-1zM436 474h1v1h-1zM437 474h1v1h-1zM438 473h1v1h-1zM439 473h1v1h-1zM440 472h1v1h-1zM441 471h1v1h-1zM442 471h1v1h-1zM443 470h1v1h-1zM444 469h1v1h-1zM445 469h1v1h-1zM446 468h1v1h-1zM447 467h1v1h-1zM448 467h1v1h-1zM449 466h1v1h-1zM450 465h1v1h-1zM451 464h1v1h-1zM452 463h1v1h-1zM453 463h1v1h-1zM454 462h1v1h-1zM455 461h1v1h-1zM456 460h1v1h-1zM457 459h1v1h-1zM458 458h1v1h-1zM459 457h1v1h-1zM460 456h1v1h-1zM461 456h1v1h-1zM462 455h1v1h-1zM463 454h1v1h-1zM464 454h1v1h-1zM465 453h1v1h-1zM466 453h1v1h-1zM467 453h1v1h-1zM468 453h1v1h-1zM469 452h1v1h-1zM470 452h1v1h-1zM471 451h1v1h-1zM472 451h1v1h-1zM473 451h1v1h-1zM474 450h1v1h-1zM475 450h1v1h-1zM476 450h1v1h-1zM477 449h1v1h-1zM478 449h1v1h-1zM479 448h1v1h-1zM480 448h1v1h-1zM481 447h1v1h-1zM482 446h1v1h-1zM483 445h1v1h-1zM484 445h1v1h-1zM485 444h1v1h-1zM486 444h1v1h-1zM487 443h1v1h-1zM488 443h1v1h-1zM489 442h1v1h-1zM490 442h1v1h-1zM491 441h1v1h-1zM492 440h1v1h-1zM493 440h1v1h-1zM494 439h1v1h-1zM495 439h1v1h-1zM496 438h1v1h-1zM497 438h1v1h-1zM498 437h1v1h-1zM499 437h1v1h-1zM500 436h1v1h-1zM501 436h1v1h-1zM502 436h1v1h-1zM503 435h1v1h-1zM504 435h1v1h-1zM505 435h1v1h-1zM506 434h1v1h-1zM507 434h1v1h-1zM508 434h1v1h-1zM509 433h1v1h-1zM510 433h1v1h-1zM511 433h1v1h-1zM512 433h1v1h-1zM513 433h1v1h-1zM514 432h1v1h-1zM515 432h1v1h-1zM516 432h1v1h-1zM517 432h1v1h-1zM518 432h1v1h-1zM519 432h1v1h-1zM520 431h1v1h-1zM521 431h1v1h-1zM522 430h1v1h-1zM523 430h1v1h-1zM524 430h1v1h-1zM525 430h1v1h-1zM526 429h1v1h-1zM527 429h1v1h-1zM528 429h1v1h-1zM529 429h1v1h-1zM530 429h1v1h-1zM531 429h1v1h-1zM532 429h1v1h-1zM533 429h1v1h-1zM534 429h1v1h-1zM535 429h1v1h-1zM536 430h1v1h-1zM537 430h1v1h-1zM538 430h1v1h-1zM539 430h1v1h-1zM540 430h1v1h-1zM541 430h1v1h-1zM542 430h1v1h-1zM543 431h1v1h-1zM544 431h1v1h-1zM545 431h1v1h-1zM546 431h1v1h-1zM547 432h1v1h-1zM548 432h1v1h-1zM549 432h1v1h-1zM550 433h1v1h-1zM551 433h1v1h-1zM552 433h1v1h-1zM553 434h1v1h-1zM554 434h1v1h-1zM555 435h1v1h-1zM556 435h1v1h-1zM557 436h1v1h-1zM558 436h1v1h-1zM559 437h1v1h-1zM560 437h1v1h-1zM561 438h1v1h-1zM562 438h1v1h-1zM563 439h1v1h-1zM564 439h1v1h-1zM565 440h1v1h-1zM566 440h1v1h-1zM567 441h1v1h-1zM568 441h1v1h-1zM569 442h1v1h-1zM570 443h1v1h-1zM571 443h1v1h-1zM572 444h1v1h-1zM573 444h1v1h-1zM574 445h1v1h-1zM575 446h1v1h-1zM576 447h1v1h-1zM577 447h1v1h-1zM578 448h1v1h-1zM579 449h1v1h-1zM580 450h1v1h-1zM581 451h1v1h-1zM582 452h1v1h-1zM583 452h1v1h-1zM584 453h1v1h-1zM585 453h1v1h-1zM586 453h1v1h-1zM587 454h1v1h-1zM588 454h1v1h-1zM589 454h1v1h-1zM590 454h1v1h-1zM591 454h1v1h-1zM592 454h1v1h-1zM593 455h1v1h-1zM594 455h1v1h-1zM595 456h1v1h-1zM596 456h1v1h-1zM597 457h1v1h-1zM598 457h1v1h-1zM599 458h1v1h-1zM600 458h1v1h-1zM601 458h1v1h-1zM602 459h1v1h-1zM603 459h1v1h-1zM604 459h1v1h-1zM605 460h1v1h-1zM606 461h1v1h-1zM607 461h1v1h-1zM608 462h1v1h-1zM609 462h1v1h-1zM610 463h1v1h-1zM611 464h1v1h-1zM612 464h1v1h-1zM613 465h1v1h-1zM614 465h1v1h-1zM615 466h1v1h-1zM616 467h1v1h-1zM617 467h1v1h-1zM618 468h1v1h-1zM619 469h1v1h-1zM620 470h1v1h-1zM621 470h1v2h-1zM622 472h1v1h-1zM623 473h1v1h-1zM624 474h1v1h-1zM625 475h1v1h-1zM626 475h1v1h-1zM627 476h1v1h-1zM628 477h1v1h-1zM629 478h1v1h-1zM630 479h1v1h-1zM631 480h1v1h-1zM632 480h1v1h-1zM633 481h1v1h-1zM634 481h1v1h-1zM635 482h1v1h-1zM636 483h1v1h-1zM637 483h1v1h-1zM638 484h1v1h-1zM639 485h1v1h-1zM640 486h1v1h-1zM641 487h1v1h-1zM642 488h1v1h-1zM643 489h1v1h-1zM644 489h1v1h-1zM645 490h1v1h-1zM646 491h1v1h-1zM647 492h1v1h-1zM648 492h1v1h-1zM649 493h1v1h-1zM650 494h1v1h-1zM651 494h1v1h-1zM652 495h1v1h-1zM653 495h1v1h-1zM654 495h1v1h-1zM655 495h1v1h-1zM656 496h1v1h-1zM657 496h1v1h-1zM658 497h1v1h-1zM659 498h1v1h-1zM660 498h1v1h-1zM661 498h1v1h-1zM662 498h1v1h-1zM663 499h1v1h-1zM664 499h1v1h-1zM665 499h1v1h-1zM666 499h1v1h-1zM667 499h1v1h-1zM668 499h1v1h-1zM669 499h1v1h-1zM670 500h1v1h-1zM671 500h1v1h-1zM672 500h1v1h-1zM673 500h1v1h-1zM674 500h1v1h-1zM675 500h1v1h-1zM676 499h1v1h-1zM677 499h1v1h-1zM678 499h1v1h-1zM679 498h1v1h-1zM680 498h1v1h-1zM681 497h1v1h-1zM682 497h1v1h-1zM683 497h1v1h-1zM684 496h1v1h-1zM685 496h1v1h-1zM686 496h1v1h-1zM687 495h1v1h-1zM688 495h1v1h-1zM689 494h1v1h-1zM690 494h1v1h-1zM691 494h1v1h-1zM692 493h1v1h-1zM693 493h1v1h-1zM694 493h1v1h-1zM695 492h1v1h-1zM696 492h1v1h-1zM697 491h1v1h-1zM698 490h1v1h-1zM699 489h1v1h-1zM700 489h1v1h-1zM701 488h1v1h-1zM702 487h1v1h-1zM703 487h1v1h-1zM704 486h1v1h-1zM705 486h1v1h-1zM706 485h1v1h-1zM707 485h1v1h-1zM708 485h1v1h-1zM709 484h1v1h-1zM710 484h1v1h-1zM711 484h1v1h-1zM712 483h1v1h-1zM713 483h1v1h-1zM714 482h1v1h-1zM715 482h1v1h-1zM716 481h1v1h-1zM717 480h1v1h-1zM718 480h1v1h-1zM719 479h1v1h-1zM720 478h1v1h-1zM721 478h1v1h-1zM722 477h1v1h-1zM723 476h1v1h-1zM724 475h1v1h-1zM725 475h1v1h-1zM726 474h1v1h-1zM727 473h1v1h-1zM728 472h1v1h-1zM729 471h1v1h-1zM730 470h1v1h-1zM731 469h1v1h-1zM732 469h1v1h-1zM733 468h1v1h-1zM734 467h1v1h-1zM735 466h1v1h-1zM736 465h1v1h-1zM737 463h1v2h-1zM738 463h1v1h-1zM739 462h1v1h-1zM740 461h1v1h-1zM741 459h1v2h-1zM742 458h1v1h-1zM743 457h1v1h-1zM744 457h1v1h-1zM745 455h1v2h-1zM746 454h1v1h-1zM747 453h1v1h-1zM748 452h1v1h-1zM749 450h1v2h-1zM750 449h1v1h-1zM751 448h1v1h-1zM752 447h1v1h-1zM753 446h1v1h-1zM754 445h1v1h-1zM755 445h1v1h-1zM756 444h1v1h-1zM757 443h1v1h-1zM758 442h1v1h-1zM759 442h1v1h-1zM760 441h1v1h-1zM761 440h1v1h-1zM762 439h1v1h-1zM763 438h1v1h-1zM764 437h1v1h-1zM765 437h1v1h-1zM766 436h1v1h-1zM767 435h1v1h-1zM768 435h1v1h-1zM769 434h1v1h-1zM770 434h1v1h-1zM771 433h1v1h-1zM772 433h1v1h-1zM773 433h1v1h-1zM774 432h1v1h-1zM775 432h1v1h-1zM776 432h1v1h-1zM777 432h1v1h-1zM778 431h1v1h-1zM779 431h1v1h-1zM780 431h1v1h-1zM781 431h1v1h-1zM782 431h1v1h-1zM783 431h1v1h-1zM784 431h1v1h-1zM785 431h1v1h-1zM786 430h1v1h-1zM787 430h1v1h-1zM788 430h1v1h-1zM789 430h1v1h-1zM790 430h1v1h-1zM791 430h1v1h-1zM792 430h1v1h-1zM793 430h1v1h-1zM794 431h1v1h-1zM795 431h1v1h-1zM796 431h1v1h-1zM797 431h1v1h-1zM798 431h1v1h-1zM799 432h1v1h-1zM800 432h1v1h-1zM801 432h1v1h-1zM802 433h1v1h-1zM803 433h1v1h-1zM804 434h1v1h-1zM805 434h1v1h-1zM806 435h1v1h-1zM807 435h1v1h-1zM808 435h1v1h-1zM809 435h1v1h-1zM810 436h1v1h-1zM811 436h1v1h-1zM812 436h1v1h-1zM813 436h1v1h-1zM814 436h1v1h-1zM815 436h1v1h-1zM816 436h1v1h-1zM817 436h1v1h-1zM818 436h1v1h-1zM819 436h1v1h-1zM820 436h1v1h-1zM821 436h1v1h-1zM822 435h1v1h-1zM823 435h1v1h-1zM824 434h1v1h-1zM825 434h1v1h-1zM826 433h1v1h-1zM827 432h1v1h-1zM828 431h1v1h-1zM829 431h1v1h-1zM830 430h1v1h-1zM831 429h1v1h-1zM832 428h1v1h-1zM833 428h1v1h-1zM834 427h1v1h-1zM835 427h1v1h-1zM836 426h1v1h-1zM837 426h1v1h-1zM838 425h1v1h-1zM839 425h1v1h-1zM840 424h1v1h-1zM841 423h1v1h-1zM842 423h1v1h-1zM843 422h1v1h-1zM844 421h1v1h-1zM845 420h1v1h-1zM846 420h1v1h-1zM847 419h1v1h-1zM848 418h1v1h-1zM849 417h1v1h-1zM850 416h1v1h-1zM851 415h1v1h-1zM852 414h1v1h-1zM853 413h1v1h-1zM854 412h1v1h-1zM855 411h1v1h-1zM856 409h1v2h-1zM857 408h1v1h-1zM858 406h1v2h-1zM859 404h1v2h-1zM860 402h1v2h-1zM861 399h1v3h-1zM862 396h1v3h-1zM863 393h1v3h-1zM864 391h1v2h-1zM865 389h1v2h-1zM866 387h1v2h-1zM867 384h1v3h-1zM868 381h1v3h-1zM869 378h1v3h-1zM870 375h1v3h-1zM871 372h1v3h-1zM872 369h1v3h-1zM873 366h1v3h-1zM874 362h1v4h-1zM875 359h1v3h-1zM876 356h1v3h-1zM877 353h1v3h-1zM878 351h1v2h-1zM879 348h1v3h-1zM880 345h1v3h-1zM881 343h1v2h-1zM882 340h1v3h-1zM883 337h1v3h-1zM884 333h1v4h-1zM885 329h1v4h-1zM886 325h1v4h-1zM887 321h1v5h-1zM888 315h1v6h-1zM889 309h1v6h-1zM890 303h1v6h-1zM891 298h1v5h-1zM892 293h1v5h-1zM893 287h1v6h-1zM894 281h1v6h-1zM895 276h1v5h-1zM896 271h1v5h-1zM897 267h1v4h-1zM898 262h1v5h-1zM899 257h1v5h-1zM900 253h1v4h-1zM901 247h1v6h-1zM902 242h1v5h-1zM903 237h1v5h-1zM904 231h1v6h-1zM905 226h1v5h-1zM906 220h1v6h-1zM907 216h1v4h-1zM908 211h1v5h-1zM909 205h1v6h-1zM910 200h1v5h-1zM911 196h1v4h-1zM912 192h1v4h-1zM913 188h1v4h-1zM914 184h1v4h-1zM915 181h1v3h-1zM916 180h1v1h-1zM917 179h1v1h-1zM918 177h1v2h-1zM919 176h1v1h-1zM920 174h1v2h-1zM921 173h1v1h-1zM922 171h1v2h-1zM923 170h1v1h-1zM924 169h1v1h-1zM925 169h1v1h-1zM926 169h1v1h-1zM927 168h1v1h-1zM928 167h1v1h-1zM929 167h1v1h-1zM930 166h1v1h-1zM931 165h1v1h-1zM932 164h1v1h-1zM933 163h1v1h-1zM934 162h1v1h-1zM935 161h1v1h-1zM936 160h1v1h-1zM937 158h1v2h-1zM938 157h1v1h-1zM939 156h1v1h-1zM940 157h1v1h-1zM941 157h1v1h-1zM942 157h1v1h-1zM943 158h1v1h-1zM944 159h1v2h-1zM945 161h1v2h-1zM946 163h1v2h-1zM947 165h1v1h-1zM948 166h1v2h-1zM949 168h1v1h-1zM950 169h1v2h-1zM951 171h1v1h-1zM952 172h1v1h-1zM953 173h1v2h-1zM954 175h1v1h-1zM955 176h1v2h-1zM956 178h1v2h-1zM957 180h1v2h-1zM958 182h1v2h-1zM959 184h1v3h-1zM960 187h1v3h-1zM961 190h1v1h-1zM962 191h1v3h-1zM963 194h1v3h-1zM964 197h1v2h-1zM965 199h1v3h-1zM966 202h1v2h-1zM967 204h1v2h-1zM968 206h1v1h-1zM969 207h1v2h-1zM970 209h1v2h-1zM971 211h1v2h-1zM972 212h1v1h-1zM973 213h1v1h-1zM974 213h1v1h-1zM975 214h1v1h-1zM976 214h1v1h-1zM977 215h1v1h-1zM978 215h1v1h-1zM979 216h1v1h-1zM980 216h1v1h-1zM981 216h1v1h-1zM982 217h1v1h-1zM983 217h1v1h-1zM984 217h1v1h-1zM985 217h1v1h-1zM986 217h1v1h-1zM987 218h1v1h-1zM988 218h1v1h-1zM989 217h1v1h-1zM990 217h1v1h-1zM991 217h1v1h-1zM992 218h1v1h-1zM993 219h1v1h-1zM994 220h1v1h-1zM995 221h1v1h-1zM996 221h1v1h-1zM997 222h1v1h-1zM998 222h1v1h-1zM999 223h1v1h-1zM1000 223h1v1h-1zM1001 223h1v1h-1zM1002 224h1v1h-1zM1003 224h1v1h-1zM1004 224h1v1h-1zM1005 224h1v1h-1zM1006 223h1v1h-1zM1007 223h1v1h-1zM1008 223h1v1h-1zM1009 224h1v1h-1zM1010 224h1v1h-1zM1011 224h1v1h-1zM1012 224h1v1h-1zM1013 223h1v1h-1zM1014 223h1v1h-1zM1015 223h1v1h-1zM1016 222h1v1h-1zM1017 222h1v1h-1zM1018 221h1v1h-1zM1019 221h1v1h-1zM1020 220h1v1h-1zM1021 220h1v1h-1zM1022 219h1v1h-1zM1023 219h1v1h-1zM1024 218h1v1h-1zM1025 218h1v1h-1zM1026 217h1v1h-1zM1027 217h1v1h-1zM1028 217h1v1h-1zM1029 217h1v1h-1zM1030 217h1v1h-1zM1031 216h1v1h-1zM1032 217h1v1h-1zM1033 217h1v1h-1zM1034 217h1v1h-1zM1035 217h1v1h-1zM1036 217h1v1h-1zM1037 217h1v1h-1zM1038 217h1v1h-1zM1039 217h1v1h-1zM1040 217h1v1h-1zM1041 217h1v1h-1zM1042 217h1v1h-1zM1043 217h1v1h-1zM1044 217h1v1h-1zM1045 218h1v1h-1zM1046 218h1v1h-1zM1047 219h1v1h-1zM1048 218h1v1h-1zM1049 218h1v1h-1zM1050 218h1v1h-1zM1051 218h1v1h-1zM1052 218h1v1h-1zM1053 218h1v1h-1zM1054 218h1v1h-1zM1055 218h1v1h-1zM1056 217h1v1h-1zM1057 217h1v1h-1zM1058 216h1v1h-1zM1059 216h1v1h-1zM1060 217h1v1h-1zM1061 218h1v2h-1zM1062 220h1v1h-1zM1063 221h1v1h-1zM1064 221h1v1h-1zM1065 222h1v1h-1zM1066 223h1v1h-1zM1067 224h1v1h-1zM1068 225h1v1h-1zM1069 225h1v1h-1zM1070 226h1v1h-1zM1071 226h1v1h-1zM1072 226h1v1h-1zM1073 227h1v1h-1zM1074 227h1v1h-1zM1075 228h1v1h-1zM1076 228h1v1h-1zM1077 229h1v1h-1zM1078 229h1v1h-1zM1079 230h1v1h-1zM1080 229h1v1h-1zM1081 229h1v1h-1zM1082 229h1v1h-1zM1083 229h1v1h-1zM1084 228h1v1h-1zM1085 228h1v1h-1zM1086 227h1v1h-1zM1087 227h1v1h-1zM1088 226h1v1h-1zM1089 225h1v1h-1zM1090 224h1v1h-1zM1091 224h1v1h-1zM1092 223h1v1h-1zM1093 221h1v2h-1zM1094 220h1v1h-1zM1095 220h1v1h-1zM1096 220h1v1h-1zM1097 221h1v1h-1zM1098 222h1v1h-1zM1099 222h1v1h-1zM1100 223h1v1h-1zM1101 224h1v1h-1zM1102 225h1v1h-1zM1103 226h1v1h-1zM1104 227h1v1h-1zM1105 228h1v1h-1zM1106 229h1v1h-1zM1107 230h1v1h-1zM1108 230h1v1h-1zM1109 230h1v1h-1zM1110 231h1v1h-1zM1111 231h1v1h-1zM1112 232h1v1h-1zM1113 232h1v1h-1zM1114 233h1v1h-1zM1115 233h1v1h-1zM1116 233h1v1h-1zM1117 233h1v1h-1zM1118 233h1v1h-1zM1119 233h1v1h-1zM1120 233h1v1h-1zM1121 232h1v1h-1zM1122 232h1v1h-1zM1123 232h1v1h-1zM1124 232h1v1h-1zM1125 233h1v1h-1zM1126 233h1v1h-1zM1127 234h1v1h-1zM1128 235h1v1h-1zM1129 236h1v2h-1zM1130 238h1v1h-1zM1131 239h1v1h-1zM1132 240h1v1h-1zM1133 241h1v1h-1zM1134 242h1v1h-1zM1135 243h1v1h-1zM1136 244h1v2h-1zM1137 246h1v1h-1zM1138 247h1v2h-1zM1139 249h1v1h-1zM1140 250h1v2h-1zM1141 252h1v1h-1zM1142 253h1v2h-1zM1143 255h1v2h-1zM1144 257h1v2h-1zM1145 259h1v3h-1zM1146 262h1v1h-1zM1147 263h1v3h-1zM1148 266h1v3h-1zM1149 269h1v3h-1zM1150 272h1v3h-1zM1151 275h1v3h-1zM1152 278h1v2h-1zM1153 280h1v3h-1zM1154 282h1v2h-1zM1155 284h1v2h-1zM1156 286h1v2h-1zM1157 288h1v2h-1zM1158 290h1v1h-1zM1159 291h1v3h-1zM1160 294h1v2h-1zM1161 296h1v3h-1zM1162 299h1v2h-1zM1163 301h1v3h-1zM1164 304h1v2h-1zM1165 306h1v2h-1zM1166 308h1v3h-1zM1167 311h1v3h-1zM1168 314h1v3h-1zM1169 317h1v4h-1zM1170 321h1v2h-1zM1171 323h1v3h-1zM1172 326h1v3h-1zM1173 329h1v3h-1zM1174 332h1v3h-1zM1175 334h1v3h-1zM1176 337h1v3h-1zM1177 340h1v3h-1zM1178 343h1v3h-1zM1179 346h1v2h-1zM1180 348h1v1h-1zM1181 349h1v1h-1zM1182 350h1v2h-1zM1183 352h1v1h-1zM1184 353h1v1h-1zM1185 354h1v1h-1zM1186 355h1v1h-1zM1187 356h1v1h-1zM1188 356h1v1h-1zM1189 357h1v1h-1zM1190 358h1v1h-1zM1191 358h1v1h-1zM1192 359h1v1h-1zM1193 360h1v1h-1zM1194 361h1v1h-1zM1195 362h1v1h-1zM1196 363h1v1h-1zM1197 364h1v2h-1zM1198 366h1v1h-1zM1199 367h1v1h-1zM1200 367h1v1h-1zM1201 367h1v1h-1zM1202 367h1v1h-1zM1203 367h1v1h-1zM1204 367h1v1h-1zM1205 366h1v1h-1zM1206 366h1v1h-1zM1207 366h1v1h-1zM1208 365h1v1h-1zM1209 365h1v1h-1zM1210 364h1v1h-1zM1211 364h1v1h-1zM1212 363h1v1h-1zM1213 363h1v1h-1zM1214 362h1v1h-1zM1215 362h1v1h-1zM1216 361h1v1h-1zM1217 361h1v1h-1zM1218 360h1v1h-1zM1219 360h1v1h-1zM1220 359h1v1h-1zM1221 359h1v1h-1zM1222 358h1v1h-1zM1223 358h1v1h-1zM1224 357h1v1h-1zM1225 356h1v1h-1zM1226 355h1v1h-1zM1227 354h1v1h-1zM1228 353h1v1h-1zM1229 351h1v2h-1zM1230 350h1v1h-1zM1231 349h1v1h-1zM1232 347h1v2h-1zM1233 346h1v1h-1zM1234 344h1v2h-1zM1235 343h1v1h-1zM1236 343h1v1h-1zM1237 342h1v1h-1zM1238 342h1v1h-1zM1239 342h1v1h-1zM1240 341h1v1h-1zM1241 341h1v1h-1zM1242 340h1v1h-1zM1243 340h1v1h-1zM1244 340h1v1h-1zM1245 340h1v1h-1zM1246 340h1v1h-1zM1247 340h1v1h-1zM1248 340h1v1h-1zM1249 340h1v1h-1zM1250 340h1v1h-1zM1251 340h1v1h-1zM1252 340h1v1h-1zM1253 340h1v1h-1zM1254 340h1v1h-1zM1255 340h1v1h-1zM1256 340h1v1h-1zM1257 340h1v1h-1zM1258 340h1v1h-1zM1259 340h1v1h-1zM1260 340h1v1h-1zM1261 340h1v1h-1zM1262 340h1v1h-1zM1263 341h1v1h-1zM1264 341h1v1h-1zM1265 341h1v1h-1zM1266 341h1v1h-1zM1267 342h1v1h-1z" fill="#ff0000"/><path d="M3 478h1v1h-1zM4 479h1v1h-1zM5 480h1v1h-1zM6 481h1v1h-1zM7 482h1v1h-1zM8 482h1v1h-1zM9 483h1v1h-1zM10 483h1v1h-1zM11 483h1v1h-1zM12 483h1v1h-1zM13 483h1v1h-1zM14 483h1v1h-1zM15 483h1v1h-1zM16 483h1v1h-1zM17 484h1v1h-1zM18 484h1v1h-1zM19 484h1v1h-1zM20 483h1v1h-1zM21 482h1v1h-1zM22 482h1v1h-1zM23 481h1v1h-1zM24 480h1v1h-1zM25 479h1v1h-1zM26 479h1v1h-1zM27 478h1v1h-1zM28 478h1v1h-1zM29 479h1v1h-1zM30 480h1v1h-1zM31 480h1v1h-1zM32 481h1v1h-1zM33 481h1v1h-1zM34 482h1v1h-1zM35 483h1v1h-1zM36 483h1v1h-1zM37 484h1v1h-1zM38 485h1v1h-1zM39 486h1v1h-1zM40 487h1v1h-1zM41 488h1v2h-1zM42 490h1v1h-1zM43 491h1v1h-1zM44 491h1v1h-1zM45 492h1v1h-1zM46 493h1v1h-1zM47 494h1v1h-1zM48 494h1v1h-1zM49 494h1v1h-1zM50 495h1v1h-1zM51 495h1v1h-1zM52 494h1v1h-1zM53 494h1v1h-1zM54 493h1v1h-1zM55 492h1v1h-1zM56 492h1v1h-1zM57 491h1v1h-1zM58 490h1v1h-1zM59 489h1v1h-1zM60 489h1v1h-1zM61 489h1v1h-1zM62 488h1v1h-1zM63 488h1v1h-1zM64 487h1v1h-1zM65 486h1v1h-1zM66 485h1v1h-1zM67 484h1v1h-1zM68 482h1v2h-1zM69 482h1v1h-1zM70 480h1v2h-1zM71 479h1v1h-1zM72 478h1v1h-1zM73 478h1v1h-1zM74 477h1v1h-1zM75 477h1v1h-1zM76 476h1v1h-1zM77 475h1v1h-1zM78 474h1v1h-1zM79 473h1v1h-1zM80 471h1v2h-1zM81 469h1v2h-1zM82 467h1v2h-1zM83 466h1v1h-1zM84 466h1v1h-1zM85 465h1v1h-1zM86 464h1v1h-1zM87 463h1v1h-1zM88 463h1v1h-1zM89 463h1v1h-1zM90 463h1v1h-1zM91 463h1v1h-1zM92 462h1v1h-1zM93 462h1v1h-1zM94 461h1v1h-1zM95 461h1v1h-1zM96 461h1v1h-1zM97 461h1v1h-1zM98 461h1v1h-1zM99 461h1v1h-1zM100 461h1v1h-1zM101 460h1v1h-1zM102 460h1v1h-1zM103 460h1v1h-1zM104 459h1v1h-1zM105 459h1v1h-1zM106 458h1v1h-1zM107 457h1v1h-1zM108 456h1v1h-1zM109 456h1v1h-1zM110 455h1v1h-1zM111 454h1v1h-1zM112 454h1v1h-1zM113 453h1v1h-1zM114 453h1v1h-1zM115 453h1v1h-1zM116 451h1v2h-1zM117 449h1v2h-1zM118 447h1v2h-1zM119 447h1v1h-1zM120 445h1v2h-1zM121 443h1v2h-1zM122 441h1v2h-1zM123 440h1v1h-1zM124 439h1v1h-1zM125 439h1v1h-1zM126 439h1v1h-1zM127 438h1v1h-1zM128 438h1v1h-1zM129 438h1v1h-1zM130 438h1v1h-1zM131 437h1v1h-1zM132 437h1v1h-1zM133 437h1v1h-1zM134 437h1v1h-1zM135 436h1v1h-1zM136 437h1v1h-1zM137 437h1v1h-1zM138 437h1v1h-1zM139 437h1v1h-1zM140 438h1v2h-1zM141 440h1v2h-1zM142 442h1v2h-1zM143 444h1v1h-1zM144 443h1v1h-1zM145 441h1v2h-1zM146 440h1v1h-1zM147 440h1v1h-1zM148 438h1v2h-1zM149 437h1v1h-1zM150 435h1v2h-1zM151 434h1v1h-1zM152 433h1v1h-1zM153 432h1v1h-1zM154 431h1v1h-1zM155 430h1v1h-1zM156 430h1v1h-1zM157 430h1v1h-1zM158 429h1v1h-1zM159 429h1v1h-1zM160 428h1v1h-1zM161 427h1v1h-1zM162 426h1v1h-1zM163 425h1v1h-1zM164 425h1v1h-1zM165 425h1v1h-1zM166 424h1v1h-1zM167 424h1v1h-1zM168 425h1v1h-1zM169 426h1v1h-1zM170 426h1v1h-1zM171 427h1v1h-1zM172 427h1v1h-1zM173 426h1v1h-1zM174 426h1v1h-1zM175 426h1v1h-1zM176 425h1v1h-1zM177 424h1v1h-1zM178 423h1v1h-1zM179 423h1v1h-1zM180 423h1v1h-1zM181 423h1v1h-1zM182 423h1v1h-1zM183 423h1v1h-1zM184 423h1v1h-1zM185 424h1v1h-1zM186 425h1v1h-1zM187 425h1v1h-1zM188 425h1v1h-1zM189 425h1v1h-1zM190 426h1v1h-1zM191 426h1v1h-1zM192 426h1v1h-1zM193 426h1v1h-1zM194 426h1v1h-1zM195 426h1v1h-1zM196 426h1v1h-1zM197 427h1v1h-1zM198 427h1v1h-1zM199 427h1v1h-1zM200 427h1v1h-1zM201 427h1v1h-1zM202 427h1v1h-1zM203 427h1v1h-1zM204 427h1v1h-1zM205 426h1v1h-1zM206 426h1v1h-1zM207 426h1v1h-1zM208 425h1v1h-1zM209 424h1v1h-1zM210 423h1v1h-1zM211 423h1v1h-1zM212 422h1v1h-1zM213 422h1v1h-1zM214 421h1v1h-1zM215 421h1v1h-1zM216 422h1v1h-1zM217 422h1v1h-1zM218 423h1v1h-1zM219 423h1v1h-1zM220 424h1v1h-1zM221 425h1v1h-1zM222 426h1v1h-1zM223 426h1v2h-1zM224 428h1v2h-1zM225 430h1v2h-1zM226 432h1v2h-1zM227 434h1v2h-1zM228 436h1v2h-1zM229 438h1v2h-1zM230 440h1v2h-1zM231 442h1v2h-1zM232 444h1v3h-1zM233 447h1v2h-1zM234 449h1v3h-1zM235 452h1v2h-1zM236 454h1v2h-1zM237 456h1v1h-1zM238 457h1v2h-1zM239 459h1v1h-1zM240 459h1v1h-1zM241 460h1v1h-1zM242 460h1v1h-1zM243 461h1v1h-1zM244 460h1v1h-1zM245 460h1v1h-1zM246 459h1v1h-1zM247 459h1v1h-1zM248 457h1v2h-1zM249 456h1v1h-1zM250 454h1v2h-1zM251 453h1v1h-1zM252 451h1v2h-1zM253 449h1v2h-1zM254 447h1v2h-1zM255 445h1v2h-1zM256 444h1v1h-1zM257 443h1v1h-1zM258 441h1v2h-1zM259 440h1v1h-1zM260 439h1v1h-1zM261 438h1v1h-1zM262 438h1v1h-1zM263 437h1v1h-1zM264 436h1v1h-1zM265 435h1v1h-1zM266 434h1v1h-1zM267 433h1v1h-1zM268 433h1v1h-1zM269 433h1v1h-1zM270 433h1v1h-1zM271 433h1v1h-1zM272 433h1v1h-1zM273 434h1v1h-1zM274 434h1v1h-1zM275 434h1v1h-1zM276 434h1v1h-1zM277 433h1v1h-1zM278 433h1v1h-1zM279 432h1v1h-1zM280 432h1v1h-1zM281 432h1v1h-1zM282 432h1v1h-1zM283 431h1v1h-1zM284 432h1v1h-1zM285 432h1v1h-1zM286 432h1v1h-1zM287 433h1v1h-1zM288 433h1v1h-1zM289 432h1v1h-1zM290 432h1v1h-1zM291 432h1v1h-1zM292 432h1v1h-1zM293 432h1v1h-1zM294 432h1v1h-1zM295 432h1v1h-1zM296 433h1v1h-1zM297 433h1v1h-1zM298 434h1v1h-1zM299 434h1v1h-1zM300 434h1v1h-1zM301 435h1v1h-1zM302 435h1v1h-1zM303 435h1v1h-1zM304 436h1v1h-1zM305 436h1v1h-1zM306 436h1v1h-1zM307 436h1v1h-1zM308 437h1v1h-1zM309 438h1v1h-1zM310 438h1v1h-1zM311 439h1v1h-1zM312 438h1v1h-1zM313 437h1v1h-1zM314 437h1v1h-1zM315 436h1v1h-1zM316 435h1v1h-1zM317 433h1v2h-1zM318 433h1v1h-1zM319 432h1v1h-1zM320 431h1v1h-1zM321 429h1v2h-1zM322 428h1v1h-1zM323 427h1v1h-1zM324 426h1v1h-1zM325 424h1v2h-1zM326 424h1v1h-1zM327 423h1v1h-1zM328 422h1v1h-1zM329 420h1v2h-1zM330 419h1v1h-1zM331 419h1v1h-1zM332 418h1v1h-1zM333 418h1v1h-1zM334 418h1v1h-1zM335 417h1v1h-1zM336 417h1v1h-1zM337 417h1v1h-1zM338 417h1v1h-1zM339 417h1v1h-1zM340 418h1v1h-1zM341 419h1v1h-1zM342 420h1v1h-1zM343 421h1v1h-1zM344 422h1v2h-1zM345 423h1v2h-1zM346 425h1v2h-1zM347 427h1v2h-1zM348 429h1v2h-1zM349 431h1v2h-1zM350 433h1v2h-1zM351 435h1v1h-1zM352 436h1v2h-1zM353 438h1v1h-1zM354 439h1v2h-1zM355 441h1v1h-1zM356 442h1v2h-1zM357 444h1v2h-1zM358 446h1v2h-1zM359 448h1v1h-1zM360 449h1v1h-1zM361 449h1v2h-1zM362 451h1v1h-1zM363 452h1v1h-1zM364 453h1v1h-1zM365 453h1v1h-1zM366 454h1v1h-1zM367 455h1v1h-1zM368 455h1v1h-1zM369 456h1v1h-1zM370 457h1v1h-1zM371 457h1v1h-1zM372 458h1v2h-1zM373 460h1v2h-1zM374 462h1v2h-1zM375 464h1v1h-1zM376 464h1v2h-1zM377 466h1v1h-1zM378 467h1v2h-1zM379 469h1v1h-1zM380 470h1v2h-1zM381 472h1v1h-1zM382 473h1v2h-1zM383 475h1v1h-1zM384 475h1v1h-1zM385 476h1v1h-1zM386 477h1v1h-1zM387 477h1v1h-1zM388 478h1v1h-1zM389 479h1v1h-1zM390 479h1v1h-1zM391 480h1v1h-1zM392 481h1v1h-1zM393 482h1v1h-1zM394 483h1v1h-1zM395 483h1v1h-1zM396 484h1v1h-1zM397 485h1v1h-1zM398 485h1v1h-1zM399 486h1v1h-1zM400 486h1v1h-1zM401 486h1v1h-1zM402 486h1v1h-1zM403 487h1v1h-1zM404 487h1v1h-1zM405 487h1v1h-1zM406 487h1v1h-1zM407 488h1v1h-1zM408 486h1v2h-1zM409 485h1v1h-1zM410 483h1v2h-1zM411 482h1v1h-1zM412 481h1v1h-1zM413 479h1v2h-1zM414 478h1v1h-1zM415 477h1v1h-1zM416 476h1v1h-1zM417 474h1v2h-1zM418 474h1v1h-1zM419 473h1v1h-1zM420 472h1v1h-1zM421 470h1v2h-1zM422 469h1v1h-1zM423 468h1v1h-1zM424 467h1v1h-1zM425 466h1v1h-1zM426 465h1v1h-1zM427 464h1v1h-1zM428 464h1v1h-1zM429 465h1v1h-1zM430 465h1v1h-1zM431 465h1v1h-1zM432 465h1v1h-1zM433 464h1v1h-1zM434 464h1v1h-1zM435 463h1v1h-1zM436 463h1v1h-1zM437 463h1v1h-1zM438 462h1v1h-1zM439 462h1v1h-1zM440 461h1v1h-1zM441 460h1v1h-1zM442 459h1v1h-1zM443 458h1v1h-1zM444 457h1v1h-1zM445 455h1v2h-1zM446 455h1v1h-1zM447 454h1v1h-1zM448 453h1v1h-1zM449 452h1v1h-1zM450 452h1v1h-1zM451 451h1v1h-1zM452 450h1v1h-1zM453 449h1v1h-1zM454 449h1v1h-1zM455 448h1v1h-1zM456 447h1v1h-1zM457 446h1v1h-1zM458 445h1v1h-1zM459 444h1v1h-1zM460 443h1v1h-1zM461 443h1v1h-1zM462 442h1v1h-1zM463 442h1v1h-1zM464 442h1v1h-1zM465 442h1v1h-1zM466 442h1v1h-1zM467 442h1v1h-1zM468 442h1v1h-1zM469 442h1v1h-1zM470 441h1v1h-1zM471 441h1v1h-1zM472 441h1v1h-1zM473 442h1v1h-1zM474 442h1v1h-1zM475 442h1v1h-1zM476 442h1v1h-1zM477 443h1v1h-1zM478 443h1v1h-1zM479 443h1v1h-1zM480 442h1v1h-1zM481 442h1v1h-1zM482 441h1v1h-1zM483 441h1v1h-1zM484 440h1v1h-1zM485 439h1v1h-1zM486 438h1v1h-1zM487 437h1v1h-1zM488 437h1v1h-1zM489 436h1v1h-1zM490 435h1v1h-1zM491 434h1v1h-1zM492 434h1v1h-1zM493 432h1v2h-1zM494 431h1v1h-1zM495 430h1v1h-1zM496 429h1v1h-1zM497 427h1v2h-1zM498 426h1v1h-1zM499 425h1v1h-1zM500 425h1v1h-1zM501 425h1v1h-1zM502 425h1v1h-1zM503 425h1v1h-1zM504 425h1v1h-1zM505 425h1v1h-1zM506 425h1v1h-1zM507 425h1v1h-1zM508 425h1v1h-1zM509 425h1v1h-1zM510 425h1v1h-1zM511 425h1v1h-1zM512 425h1v1h-1zM513 426h1v1h-1zM514 426h1v1h-1zM515 426h1v1h-1zM516 427h1v1h-1zM517 427h1v1h-1zM518 427h1v1h-1zM519 428h1v1h-1zM520 428h1v1h-1zM521 428h1v1h-1zM522 428h1v1h-1zM523 428h1v1h-1zM524 428h1v1h-1zM525 427h1v1h-1zM526 427h1v1h-1zM527 427h1v1h-1zM528 428h1v1h-1zM529 429h1v1h-1zM530 429h1v1h-1zM531 430h1v1h-1zM532 431h1v2h-1zM533 433h1v1h-1zM534 434h1v1h-1zM535 435h1v1h-1zM536 436h1v1h-1zM537 436h1v1h-1zM538 436h1v1h-1zM539 436h1v1h-1zM540 437h1v1h-1zM541 438h1v1h-1zM542 438h1v1h-1zM543 439h1v1h-1zM544 440h1v1h-1zM545 440h1v1h-1zM546 441h1v1h-1zM547 442h1v1h-1zM548 442h1v1h-1zM549 442h1v1h-1zM550 442h1v1h-1zM551 442h1v1h-1zM552 442h1v1h-1zM553 441h1v1h-1zM554 441h1v1h-1zM555 440h1v1h-1zM556 441h1v1h-1zM557 442h1v2h-1zM558 444h1v1h-1zM559 444h1v1h-1zM560 445h1v1h-1zM561 446h1v1h-1zM562 447h1v1h-1zM563 448h1v1h-1zM564 448h1v1h-1zM565 449h1v1h-1zM566 449h1v1h-1zM567 450h1v1h-1zM568 451h1v1h-1zM569 452h1v2h-1zM570 454h1v1h-1zM571 455h1v1h-1zM572 455h1v1h-1zM573 456h1v1h-1zM574 457h1v1h-1zM575 458h1v1h-1zM576 459h1v1h-1zM577 459h1v2h-1zM578 461h1v1h-1zM579 462h1v1h-1zM580 463h1v1h-1zM581 464h1v1h-1zM582 465h1v1h-1zM583 466h1v1h-1zM584 466h1v1h-1zM585 466h1v1h-1zM586 466h1v1h-1zM587 466h1v1h-1zM588 466h1v1h-1zM589 466h1v1h-1zM590 466h1v1h-1zM591 465h1v1h-1zM592 465h1v1h-1zM593 465h1v1h-1zM594 465h1v1h-1zM595 464h1v1h-1zM596 464h1v1h-1zM597 463h1v1h-1zM598 463h1v1h-1zM599 462h1v1h-1zM600 462h1v1h-1zM601 461h1v1h-1zM602 461h1v1h-1zM603 460h1v1h-1zM604 461h1v1h-1zM605 462h1v1h-1zM606 463h1v1h-1zM607 463h1v1h-1zM608 464h1v1h-1zM609 465h1v2h-1zM610 467h1v1h-1zM611 468h1v1h-1zM612 469h1v2h-1zM613 471h1v1h-1zM614 471h1v2h-1zM615 473h1v1h-1zM616 474h1v2h-1zM617 476h1v1h-1zM618 477h1v2h-1zM619 479h1v2h-1zM620 481h1v2h-1zM621 483h1v2h-1zM622 485h1v3h-1zM623 488h1v2h-1zM624 490h1v2h-1zM625 492h1v2h-1zM626 494h1v2h-1zM627 495h1v2h-1zM628 497h1v2h-1zM629 499h1v2h-1zM630 501h1v2h-1zM631 502h1v1h-1zM632 503h1v1h-1zM633 504h1v2h-1zM634 506h1v1h-1zM635 507h1v1h-1zM636 508h1v1h-1zM637 509h1v1h-1zM638 510h1v1h-1zM639 511h1v1h-1zM640 511h1v1h-1zM641 511h1v1h-1zM642 511h1v1h-1zM643 510h1v1h-1zM644 510h1v1h-1zM645 510h1v1h-1zM646 509h1v1h-1zM647 509h1v1h-1zM648 508h1v1h-1zM649 507h1v1h-1zM650 506h1v1h-1zM651 505h1v1h-1zM652 504h1v2h-1zM653 502h1v2h-1zM654 500h1v2h-1zM655 499h1v1h-1zM656 498h1v1h-1zM657 498h1v1h-1zM658 497h1v1h-1zM659 496h1v1h-1zM660 495h1v1h-1zM661 493h1v2h-1zM662 492h1v1h-1zM663 491h1v1h-1zM664 491h1v1h-1zM665 490h1v1h-1zM666 490h1v1h-1zM667 489h1v1h-1zM668 489h1v1h-1zM669 489h1v1h-1zM670 488h1v1h-1zM671 488h1v1h-1zM672 489h1v1h-1zM673 489h1v1h-1zM674 490h1v1h-1zM675 491h1v1h-1zM676 491h1v1h-1zM677 491h1v1h-1zM678 491h1v1h-1zM679 491h1v1h-1zM680 491h1v1h-1zM681 491h1v1h-1zM682 491h1v1h-1zM683 491h1v1h-1zM684 491h1v1h-1zM685 491h1v1h-1zM686 491h1v1h-1zM687 490h1v1h-1zM688 491h1v1h-1zM689 491h1v1h-1zM690 491h1v1h-1zM691 491h1v1h-1zM692 491h1v1h-1zM693 490h1v1h-1zM694 490h1v1h-1zM695 490h1v1h-1zM696 489h1v1h-1zM697 488h1v1h-1zM698 487h1v1h-1zM699 486h1v1h-1zM700 485h1v1h-1zM701 483h1v2h-1zM702 482h1v1h-1zM703 481h1v1h-1zM704 480h1v1h-1zM705 479h1v1h-1zM706 478h1v1h-1zM707 477h1v1h-1zM708 476h1v1h-1zM709 474h1v2h-1zM710 473h1v1h-1zM711 472h1v1h-1zM712 470h1v2h-1zM713 469h1v2h-1zM714 467h1v2h-1zM715 466h1v1h-1zM716 465h1v1h-1zM717 464h1v1h-1zM718 463h1v1h-1zM719 463h1v1h-1zM720 462h1v1h-1zM721 461h1v1h-1zM722 460h1v1h-1zM723 459h1v1h-1zM724 458h1v1h-1zM725 457h1v2h-1zM726 456h1v1h-1zM727 455h1v1h-1zM728 454h1v1h-1zM729 452h1v2h-1zM730 451h1v1h-1zM731 450h1v1h-1zM732 449h1v1h-1zM733 448h1v1h-1zM734 448h1v1h-1zM735 447h1v1h-1zM736 446h1v1h-1zM737 444h1v2h-1zM738 443h1v1h-1zM739 442h1v1h-1zM740 441h1v1h-1zM741 440h1v2h-1zM742 439h1v1h-1zM743 438h1v1h-1zM744 437h1v1h-1zM745 436h1v1h-1zM746 435h1v1h-1zM747 434h1v1h-1zM748 433h1v1h-1zM749 432h1v1h-1zM750 431h1v1h-1zM751 430h1v1h-1zM752 429h1v1h-1zM753 428h1v1h-1zM754 427h1v1h-1zM755 427h1v1h-1zM756 426h1v1h-1zM757 426h1v1h-1zM758 425h1v1h-1zM759 425h1v1h-1zM760 424h1v1h-1zM761 424h1v1h-1zM762 423h1v1h-1zM763 423h1v1h-1zM764 423h1v1h-1zM765 423h1v1h-1zM766 423h1v1h-1zM767 423h1v1h-1zM768 423h1v1h-1zM769 424h1v1h-1zM770 424h1v1h-1zM771 425h1v1h-1zM772 426h1v1h-1zM773 426h1v1h-1zM774 427h1v1h-1zM775 428h1v1h-1zM776 428h1v1h-1zM777 429h1v1h-1zM778 429h1v1h-1zM779 430h1v1h-1zM780 430h1v1h-1zM781 431h1v2h-1zM782 433h1v1h-1zM783 434h1v1h-1zM784 434h1v1h-1zM785 435h1v1h-1zM786 436h1v1h-1zM787 437h1v1h-1zM788 437h1v1h-1zM789 437h1v1h-1zM790 437h1v1h-1zM791 438h1v1h-1zM792 438h1v1h-1zM793 438h1v1h-1zM794 438h1v1h-1zM795 438h1v1h-1zM796 439h1v1h-1zM797 439h1v1h-1zM798 440h1v1h-1zM799 440h1v1h-1zM800 440h1v1h-1zM801 441h1v1h-1zM802 441h1v1h-1zM803 442h1v1h-1zM804 442h1v1h-1zM805 442h1v1h-1zM806 443h1v1h-1zM807 443h1v1h-1zM808 443h1v1h-1zM809 443h1v1h-1zM810 443h1v1h-1zM811 442h1v1h-1zM812 442h1v1h-1zM813 441h1v1h-1zM814 440h1v1h-1zM815 440h1v1h-1zM816 439h1v1h-1zM817 438h1v1h-1zM818 437h1v1h-1zM819 436h1v1h-1zM820 434h1v2h-1zM821 432h1v2h-1zM822 430h1v2h-1zM823 427h1v3h-1zM824 424h1v3h-1zM825 421h1v3h-1zM826 418h1v3h-1zM827 416h1v2h-1zM828 415h1v2h-1zM829 413h1v2h-1zM830 411h1v2h-1zM831 409h1v2h-1zM832 407h1v2h-1zM833 406h1v1h-1zM834 405h1v1h-1zM835 404h1v1h-1zM836 403h1v1h-1zM837 403h1v1h-1zM838 402h1v1h-1zM839 402h1v1h-1zM840 401h1v1h-1zM841 401h1v1h-1zM842 400h1v1h-1zM843 399h1v1h-1zM844 400h1v1h-1zM845 400h1v1h-1zM846 400h1v1h-1zM847 401h1v1h-1zM848 400h1v1h-1zM849 400h1v1h-1zM850 400h1v1h-1zM851 399h1v1h-1zM852 399h1v1h-1zM853 398h1v1h-1zM854 398h1v1h-1zM855 396h1v2h-1zM856 393h1v3h-1zM857 391h1v2h-1zM858 389h1v2h-1zM859 385h1v4h-1zM860 380h1v5h-1zM861 374h1v6h-1zM862 369h1v5h-1zM863 364h1v5h-1zM864 359h1v5h-1zM865 355h1v4h-1zM866 350h1v5h-1zM867 344h1v6h-1zM868 338h1v6h-1zM869 332h1v6h-1zM870 327h1v5h-1zM871 320h1v7h-1zM872 312h1v8h-1zM873 304h1v8h-1zM874 296h1v8h-1zM875 290h1v6h-1zM876 284h1v6h-1zM877 279h1v5h-1zM878 273h1v6h-1zM879 269h1v4h-1zM880 266h1v3h-1zM881 264h1v2h-1zM882 261h1v3h-1zM883 256h1v5h-1zM884 250h1v6h-1zM885 245h1v5h-1zM886 239h1v6h-1zM887 231h1v8h-1zM888 222h1v9h-1zM889 212h1v10h-1zM890 204h1v8h-1zM891 196h1v8h-1zM892 190h1v6h-1zM893 183h1v7h-1zM894 177h1v6h-1zM895 171h1v6h-1zM896 165h1v6h-1zM897 159h1v6h-1zM898 153h1v6h-1zM899 146h1v7h-1zM900 140h1v6h-1zM901 134h1v6h-1zM902 128h1v6h-1zM903 122h1v6h-1zM904 117h1v5h-1zM905 113h1v4h-1zM906 108h1v5h-1zM907 105h1v3h-1zM908 106h1v1h-1zM909 107h1v1h-1zM910 107h1v1h-1zM911 108h1v1h-1zM912 109h1v2h-1zM913 111h1v2h-1zM914 113h1v2h-1zM915 115h1v3h-1zM916 118h1v4h-1zM917 122h1v5h-1zM918 127h1v4h-1zM919 131h1v5h-1zM920 136h1v5h-1zM921 141h1v5h-1zM922 146h1v5h-1zM923 151h1v6h-1zM924 157h1v8h-1zM925 165h1v8h-1zM926 173h1v8h-1zM927 181h1v7h-1zM928 188h1v4h-1zM929 192h1v4h-1zM930 196h1v4h-1zM931 200h1v4h-1zM932 203h1v3h-1zM933 206h1v3h-1zM934 209h1v3h-1zM935 212h1v2h-1zM936 210h1v2h-1zM937 207h1v3h-1zM938 205h1v2h-1zM939 203h1v2h-1zM940 203h1v1h-1zM941 202h1v1h-1zM942 202h1v1h-1zM943 200h1v2h-1zM944 197h1v3h-1zM945 195h1v2h-1zM946 193h1v2h-1zM947 191h1v2h-1zM948 191h1v1h-1zM949 191h1v1h-1zM950 191h1v1h-1zM951 191h1v1h-1zM952 191h1v1h-1zM953 191h1v1h-1zM954 191h1v1h-1zM955 191h1v2h-1zM956 193h1v3h-1zM957 196h1v3h-1zM958 199h1v4h-1zM959 203h1v2h-1zM960 205h1v2h-1zM961 207h1v1h-1zM962 208h1v2h-1zM963 210h1v2h-1zM964 212h1v2h-1zM965 213h1v2h-1zM966 215h1v2h-1zM967 217h1v3h-1zM968 220h1v3h-1zM969 223h1v2h-1zM970 225h1v3h-1zM971 228h1v3h-1zM972 231h1v2h-1zM973 233h1v3h-1zM974 236h1v2h-1zM975 237h1v2h-1zM976 239h1v1h-1zM977 239h1v1h-1zM978 239h1v1h-1zM979 239h1v1h-1zM980 240h1v2h-1zM981 242h1v2h-1zM982 244h1v2h-1zM983 246h1v1h-1zM984 244h1v2h-1zM985 242h1v2h-1zM986 240h1v2h-1zM987 237h1v3h-1zM988 235h1v2h-1zM989 232h1v3h-1zM990 230h1v2h-1zM991 228h1v2h-1zM992 227h1v1h-1zM993 225h1v2h-1zM994 224h1v1h-1zM995 223h1v1h-1zM996 222h1v1h-1zM997 222h1v1h-1zM998 221h1v1h-1zM999 219h1v2h-1zM1000 217h1v2h-1zM1001 214h1v3h-1zM1002 212h1v2h-1zM1003 211h1v1h-1zM1004 210h1v1h-1zM1005 208h1v2h-1zM1006 207h1v1h-1zM1007 206h1v1h-1zM1008 207h1v1h-1zM1009 208h1v1h-1zM1010 209h1v1h-1zM1011 209h1v1h-1zM1012 210h1v1h-1zM1013 210h1v1h-1zM1014 210h1v1h-1zM1015 210h1v1h-1zM1016 209h1v1h-1zM1017 207h1v2h-1zM1018 206h1v1h-1zM1019 205h1v1h-1zM1020 205h1v1h-1zM1021 204h1v1h-1zM1022 204h1v1h-1zM1023 203h1v2h-1zM1024 205h1v2h-1zM1025 207h1v2h-1zM1026 209h1v2h-1zM1027 211h1v2h-1zM1028 213h1v2h-1zM1029 215h1v1h-1zM1030 216h1v1h-1zM1031 217h1v1h-1zM1032 218h1v2h-1zM1033 220h1v1h-1zM1034 221h1v2h-1zM1035 223h1v2h-1zM1036 225h1v3h-1zM1037 228h1v2h-1zM1038 230h1v3h-1zM1039 233h1v2h-1zM1040 234h1v1h-1zM1041 234h1v1h-1zM1042 234h1v1h-1zM1043 234h1v1h-1zM1044 233h1v1h-1zM1045 233h1v1h-1zM1046 233h1v1h-1zM1047 232h1v1h-1zM1048 230h1v2h-1zM1049 230h1v1h-1zM1050 228h1v2h-1zM1051 227h1v1h-1zM1052 225h1v2h-1zM1053 224h1v1h-1zM1054 223h1v2h-1zM1055 221h1v2h-1zM1056 218h1v3h-1zM1057 214h1v4h-1zM1058 211h1v3h-1zM1059 209h1v2h-1zM1060 210h1v2h-1zM1061 212h1v1h-1zM1062 213h1v2h-1zM1063 215h1v3h-1zM1064 218h1v2h-1zM1065 220h1v2h-1zM1066 222h1v2h-1zM1067 224h1v3h-1zM1068 227h1v2h-1zM1069 229h1v2h-1zM1070 231h1v2h-1zM1071 232h1v2h-1zM1072 233h1v1h-1zM1073 233h1v1h-1zM1074 233h1v1h-1zM1075 233h1v1h-1zM1076 234h1v2h-1zM1077 236h1v2h-1zM1078 238h1v2h-1zM1079 240h1v2h-1zM1080 239h1v2h-1zM1081 237h1v2h-1zM1082 235h1v2h-1zM1083 233h1v2h-1zM1084 232h1v1h-1zM1085 229h1v3h-1zM1086 227h1v2h-1zM1087 224h1v3h-1zM1088 222h1v2h-1zM1089 220h1v2h-1zM1090 218h1v2h-1zM1091 216h1v2h-1zM1092 215h1v1h-1zM1093 213h1v2h-1zM1094 212h1v1h-1zM1095 211h1v1h-1zM1096 212h1v1h-1zM1097 212h1v1h-1zM1098 213h1v1h-1zM1099 214h1v2h-1zM1100 216h1v2h-1zM1101 218h1v3h-1zM1102 221h1v3h-1zM1103 224h1v3h-1zM1104 227h1v2h-1zM1105 229h1v3h-1zM1106 232h1v2h-1zM1107 234h1v2h-1zM1108 236h1v2h-1zM1109 238h1v2h-1zM1110 240h1v2h-1zM1111 242h1v2h-1zM1112 244h1v1h-1zM1113 245h1v2h-1zM1114 247h1v1h-1zM1115 248h1v1h-1zM1116 247h1v1h-1zM1117 247h1v1h-1zM1118 246h1v1h-1zM1119 246h1v1h-1zM1120 244h1v2h-1zM1121 243h1v1h-1zM1122 242h1v1h-1zM1123 241h1v1h-1zM1124 242h1v1h-1zM1125 243h1v2h-1zM1126 245h1v1h-1zM1127 246h1v2h-1zM1128 248h1v2h-1zM1129 250h1v2h-1zM1130 252h1v2h-1zM1131 254h1v2h-1zM1132 256h1v4h-1zM1133 260h1v4h-1zM1134 264h1v4h-1zM1135 268h1v3h-1zM1136 271h1v3h-1zM1137 273h1v2h-1zM1138 275h1v3h-1zM1139 278h1v3h-1zM1140 281h1v3h-1zM1141 284h1v2h-1zM1142 286h1v2h-1zM1143 288h1v3h-1zM1144 291h1v3h-1zM1145 294h1v3h-1zM1146 297h1v3h-1zM1147 300h1v3h-1zM1148 303h1v4h-1zM1149 307h1v4h-1zM1150 311h1v4h-1zM1151 315h1v3h-1zM1152 318h1v4h-1zM1153 322h1v4h-1zM1154 326h1v4h-1zM1155 329h1v4h-1zM1156 333h1v4h-1zM1157 337h1v4h-1zM1158 341h1v4h-1zM1159 345h1v5h-1zM1160 350h1v5h-1zM1161 355h1v4h-1zM1162 359h1v5h-1zM1163 364h1v4h-1zM1164 368h1v2h-1zM1165 370h1v3h-1zM1166 373h1v2h-1zM1167 375h1v2h-1zM1168 377h1v1h-1zM1169 378h1v2h-1zM1170 380h1v2h-1zM1171 382h1v2h-1zM1172 384h1v1h-1zM1173 385h1v1h-1zM1174 386h1v1h-1zM1175 386h1v1h-1zM1176 387h1v2h-1zM1177 389h1v2h-1zM1178 391h1v2h-1zM1179 393h1v1h-1zM1180 391h1v2h-1zM1181 389h1v2h-1zM1182 388h1v2h-1zM1183 385h1v3h-1zM1184 383h1v2h-1zM1185 381h1v2h-1zM1186 379h1v2h-1zM1187 376h1v3h-1zM1188 373h1v3h-1zM1189 369h1v4h-1zM1190 366h1v3h-1zM1191 363h1v3h-1zM1192 361h1v3h-1zM1193 359h1v2h-1zM1194 356h1v3h-1zM1195 353h1v3h-1zM1196 352h1v1h-1zM1197 349h1v3h-1zM1198 347h1v2h-1zM1199 345h1v2h-1zM1200 345h1v1h-1zM1201 345h1v1h-1zM1202 345h1v1h-1zM1203 344h1v1h-1zM1204 344h1v1h-1zM1205 344h1v1h-1zM1206 344h1v1h-1zM1207 344h1v1h-1zM1208 344h1v1h-1zM1209 344h1v1h-1zM1210 345h1v1h-1zM1211 345h1v1h-1zM1212 345h1v1h-1zM1213 345h1v1h-1zM1214 345h1v1h-1zM1215 346h1v1h-1zM1216 346h1v1h-1zM1217 346h1v1h-1zM1218 346h1v1h-1zM1219 347h1v1h-1zM1220 348h1v1h-1zM1221 348h1v1h-1zM1222 349h1v1h-1zM1223 350h1v1h-1zM1224 350h1v1h-1zM1225 350h1v1h-1zM1226 350h1v1h-1zM1227 350h1v1h-1zM1228 349h1v1h-1zM1229 348h1v1h-1zM1230 347h1v1h-1zM1231 347h1v1h-1zM1232 345h1v2h-1zM1233 344h1v1h-1zM1234 342h1v2h-1zM1235 341h1v1h-1zM1236 340h1v1h-1zM1237 338h1v2h-1zM1238 336h1v2h-1zM1239 334h1v2h-1zM1240 332h1v2h-1zM1241 330h1v2h-1zM1242 327h1v3h-1zM1243 325h1v2h-1zM1244 325h1v1h-1zM1245 325h1v1h-1zM1246 325h1v1h-1zM1247 325h1v1h-1zM1248 326h1v1h-1zM1249 327h1v1h-1zM1250 328h1v1h-1zM1251 329h1v1h-1zM1252 330h1v2h-1zM1253 332h1v1h-1zM1254 333h1v2h-1zM1255 335h1v1h-1zM1256 336h1v2h-1zM1257 337h1v1h-1zM1258 338h1v2h-1zM1259 340h1v1h-1zM1260 341h1v2h-1zM1261 343h1v1h-1zM1262 344h1v2h-1zM1263 346h1v2h-1zM1264 348h1v1h-1zM1265 349h1v1h-1zM1266 349h1v1h-1zM1267 350h1v1h-1z" fill="#ffa500"/><rect x="3" y="202" width="1592" height="2" fill="#ff0000"/><rect x="3" y="273" width="1592" height="2" fill="#ff0000"/><rect x="3" y="340" width="1592" height="2" fill="#00ff00"/><rect x="3" y="422" width="1592" height="2" fill="#0000ff"/><rect x="3" y="504" width="1592" height="2" fill="#0000ff"/><rect x="1242" y="339" width="20" height="1" fill="#ff0000"/></g><rect x="2" y="200" width="6" height="6" fill="#ff0000"/><rect x="4" y="202" width="2" height="2" fill="#fff"/><rect x="1589" y="200" width="6" height="6" fill="#ff0000"/><rect x="1591" y="202" width="2" height="2" fill="#fff"/><rect x="2" y="271" width="6" height="6" fill="#ff0000"/><rect x="4" y="273" width="2" height="2" fill="#fff"/><rect x="1589" y="271" width="6" height="6" fill="#ff0000"/><rect x="1591" y="273" width="2" height="2" fill="#fff"/><rect x="2" y="338" width="6" height="6" fill="#00ff00"/><rect x="4" y="340" width="2" height="2" fill="#fff"/><rect x="1589" y="338" width="6" height="6" fill="#00ff00"/><rect x="1591" y="340" width="2" height="2" fill="#fff"/><rect x="2" y="420" width="6" height="6" fill="#0000ff"/><rect x="4" y="422" width="2" height="2" fill="#fff"/><rect x="1589" y="420" width="6" height="6" fill="#0000ff"/><rect x="1591" y="422" width="2" height="2" fill="#fff"/><rect x="2" y="502" width="6" height="6" fill="#0000ff"/><rect x="4" y="504" width="2" height="2" fill="#fff"/><rect x="1589" y="502" width="6" height="6" fill="#0000ff"/><rect x="1591" y="504" width="2" height="2" fill="#fff"/><g clip-path="url(#cr)"><line x1="4" x2="1595" y1="561.5" y2="561.5" stroke="#c0c0c0" stroke-width="1" stroke-dasharray="3 3"/><line x1="4" x2="1595" y1="597.5" y2="597.5" stroke="#c0c0c0" stroke-width="1" stroke-dasharray="3 3"/><path d="M3 597h1v1h-1zM4 597h1v1h-1zM5 597h1v1h-1zM6 598h1v1h-1zM7 598h1v1h-1zM8 596h1v2h-1zM9 594h1v2h-1zM10 592h1v2h-1zM11 590h1v2h-1zM12 590h1v1h-1zM13 591h1v1h-1zM14 591h1v1h-1zM15 592h1v1h-1zM16 592h1v1h-1zM17 591h1v1h-1zM18 591h1v1h-1zM19 591h1v1h-1zM20 590h1v1h-1zM21 588h1v2h-1zM22 588h1v1h-1zM23 587h1v1h-1zM24 587h1v1h-1zM25 588h1v1h-1zM26 588h1v1h-1zM27 588h1v1h-1zM28 589h1v1h-1zM29 590h1v1h-1zM30 591h1v1h-1zM31 591h1v1h-1zM32 592h1v1h-1zM33 592h1v1h-1zM34 593h1v1h-1zM35 593h1v1h-1zM36 594h1v1h-1zM37 594h1v1h-1zM38 594h1v1h-1zM39 594h1v1h-1zM40 594h1v1h-1zM41 593h1v1h-1zM42 593h1v1h-1zM43 592h1v1h-1zM44 592h1v1h-1zM45 592h1v1h-1zM46 592h1v1h-1zM47 591h1v1h-1zM48 592h1v1h-1zM49 592h1v1h-1zM50 592h1v1h-1zM51 592h1v1h-1zM52 590h1v2h-1zM53 588h1v2h-1zM54 586h1v2h-1zM55 585h1v1h-1zM56 585h1v1h-1zM57 585h1v1h-1zM58 586h1v1h-1zM59 586h1v1h-1zM60 586h1v1h-1zM61 587h1v1h-1zM62 587h1v1h-1zM63 587h1v1h-1zM64 585h1v2h-1zM65 584h1v2h-1zM66 582h1v2h-1zM67 580h1v2h-1zM68 579h1v1h-1zM69 579h1v1h-1zM70 578h1v1h-1zM71 577h1v1h-1zM72 578h1v1h-1zM73 578h1v1h-1zM74 578h1v1h-1zM75 578h1v1h-1zM76 578h1v1h-1zM77 577h1v1h-1zM78 577h1v1h-1zM79 577h1v1h-1zM80 575h1v2h-1zM81 574h1v1h-1zM82 572h1v2h-1zM83 571h1v1h-1zM84 572h1v1h-1zM85 573h1v1h-1zM86 573h1v1h-1zM87 574h1v1h-1zM88 575h1v1h-1zM89 576h1v1h-1zM90 576h1v1h-1zM91 577h1v1h-1zM92 576h1v1h-1zM93 576h1v1h-1zM94 575h1v1h-1zM95 574h1v1h-1zM96 575h1v1h-1zM97 576h1v2h-1zM98 578h1v1h-1zM99 579h1v1h-1zM100 577h1v2h-1zM101 575h1v2h-1zM102 573h1v2h-1zM103 571h1v2h-1zM104 571h1v1h-1zM105 571h1v1h-1zM106 570h1v1h-1zM107 570h1v1h-1zM108 570h1v1h-1zM109 571h1v1h-1zM110 571h1v1h-1zM111 571h1v1h-1zM112 572h1v1h-1zM113 572h1v1h-1zM114 573h1v1h-1zM115 573h1v1h-1zM116 572h1v2h-1zM117 570h1v2h-1zM118 568h1v2h-1zM119 567h1v1h-1zM120 566h1v1h-1zM121 564h1v2h-1zM122 562h1v2h-1zM123 561h1v2h-1zM124 563h1v3h-1zM125 566h1v3h-1zM126 569h1v3h-1zM127 571h1v2h-1zM128 573h1v1h-1zM129 574h1v1h-1zM130 574h1v1h-1zM131 575h1v1h-1zM132 575h1v1h-1zM133 575h1v1h-1zM134 576h1v1h-1zM135 576h1v1h-1zM136 576h1v1h-1zM137 575h1v1h-1zM138 574h1v1h-1zM139 574h1v1h-1zM140 574h1v1h-1zM141 575h1v1h-1zM142 575h1v1h-1zM143 575h1v2h-1zM144 573h1v2h-1zM145 571h1v2h-1zM146 569h1v2h-1zM147 567h1v2h-1zM148 567h1v1h-1zM149 567h1v1h-1zM150 567h1v1h-1zM151 567h1v1h-1zM152 568h1v2h-1zM153 570h1v1h-1zM154 571h1v2h-1zM155 573h1v1h-1zM156 573h1v1h-1zM157 574h1v1h-1zM158 574h1v1h-1zM159 574h1v1h-1zM160 574h1v1h-1zM161 573h1v1h-1zM162 572h1v1h-1zM163 572h1v1h-1zM164 571h1v1h-1zM165 570h1v1h-1zM166 569h1v1h-1zM167 569h1v1h-1zM168 569h1v2h-1zM169 571h1v2h-1zM170 573h1v2h-1zM171 575h1v1h-1zM172 574h1v1h-1zM173 574h1v1h-1zM174 573h1v1h-1zM175 573h1v1h-1zM176 572h1v1h-1zM177 572h1v1h-1zM178 572h1v1h-1zM179 571h1v1h-1zM180 572h1v1h-1zM181 573h1v1h-1zM182 573h1v1h-1zM183 574h1v1h-1zM184 574h1v1h-1zM185 575h1v1h-1zM186 575h1v1h-1zM187 575h1v1h-1zM188 576h1v1h-1zM189 576h1v1h-1zM190 576h1v1h-1zM191 577h1v1h-1zM192 576h1v1h-1zM193 576h1v1h-1zM194 575h1v1h-1zM195 574h1v1h-1zM196 574h1v1h-1zM197 574h1v1h-1zM198 575h1v1h-1zM199 575h1v1h-1zM200 575h1v1h-1zM201 575h1v1h-1zM202 575h1v1h-1zM203 575h1v1h-1zM204 574h1v1h-1zM205 573h1v1h-1zM206 572h1v1h-1zM207 572h1v1h-1zM208 572h1v1h-1zM209 572h1v1h-1zM210 571h1v1h-1zM211 571h1v1h-1zM212 571h1v1h-1zM213 571h1v1h-1zM214 571h1v1h-1zM215 570h1v2h-1zM216 572h1v3h-1zM217 575h1v3h-1zM218 578h1v3h-1zM219 581h1v2h-1zM220 582h1v1h-1zM221 583h1v1h-1zM222 583h1v1h-1zM223 583h1v1h-1zM224 584h1v2h-1zM225 586h1v2h-1zM226 588h1v2h-1zM227 590h1v1h-1zM228 590h1v1h-1zM229 590h1v1h-1zM230 589h1v1h-1zM231 589h1v1h-1zM232 590h1v1h-1zM233 591h1v1h-1zM234 592h1v1h-1zM235 592h1v1h-1zM236 592h1v1h-1zM237 592h1v1h-1zM238 592h1v1h-1zM239 591h1v2h-1zM240 589h1v2h-1zM241 587h1v2h-1zM242 585h1v2h-1zM243 584h1v1h-1zM244 583h1v1h-1zM245 583h1v1h-1zM246 582h1v1h-1zM247 582h1v1h-1zM248 580h1v2h-1zM249 578h1v2h-1zM250 576h1v2h-1zM251 575h1v1h-1zM252 575h1v1h-1zM253 574h1v1h-1zM254 574h1v1h-1zM255 574h1v1h-1zM256 575h1v1h-1zM257 576h1v2h-1zM258 577h1v1h-1zM259 578h1v1h-1zM260 578h1v1h-1zM261 578h1v1h-1zM262 578h1v1h-1zM263 578h1v1h-1zM264 577h1v1h-1zM265 576h1v1h-1zM266 575h1v1h-1zM267 574h1v1h-1zM268 575h1v1h-1zM269 575h1v1h-1zM270 576h1v1h-1zM271 577h1v1h-1zM272 577h1v1h-1zM273 576h1v1h-1zM274 576h1v1h-1zM275 576h1v1h-1zM276 576h1v1h-1zM277 576h1v1h-1zM278 575h1v1h-1zM279 575h1v1h-1zM280 575h1v1h-1zM281 576h1v1h-1zM282 576h1v1h-1zM283 576h1v1h-1zM284 577h1v1h-1zM285 577h1v1h-1zM286 578h1v1h-1zM287 578h1v1h-1zM288 577h1v1h-1zM289 577h1v1h-1zM290 576h1v1h-1zM291 575h1v1h-1zM292 576h1v1h-1zM293 577h1v1h-1zM294 578h1v1h-1zM295 579h1v1h-1zM296 579h1v1h-1zM297 579h1v1h-1zM298 579h1v1h-1zM299 580h1v1h-1zM300 580h1v1h-1zM301 580h1v1h-1zM302 580h1v1h-1zM303 581h1v1h-1zM304 581h1v1h-1zM305 581h1v1h-1zM306 581h1v1h-1zM307 581h1v1h-1zM308 581h1v1h-1zM309 582h1v1h-1zM310 582h1v1h-1zM311 582h1v2h-1zM312 579h1v3h-1zM313 575h1v4h-1zM314 572h1v3h-1zM315 570h1v2h-1zM316 570h1v1h-1zM317 570h1v1h-1zM318 569h1v1h-1zM319 569h1v1h-1zM320 569h1v1h-1zM321 568h1v1h-1zM322 568h1v1h-1zM323 568h1v1h-1zM324 569h1v1h-1zM325 569h1v1h-1zM326 569h1v1h-1zM327 570h1v1h-1zM328 571h1v1h-1zM329 571h1v1h-1zM330 572h1v1h-1zM331 573h1v1h-1zM332 572h1v1h-1zM333 571h1v1h-1zM334 570h1v1h-1zM335 569h1v1h-1zM336 570h1v1h-1zM337 570h1v1h-1zM338 571h1v1h-1zM339 572h1v1h-1zM340 573h1v2h-1zM341 575h1v2h-1zM342 577h1v2h-1zM343 579h1v3h-1zM344 582h1v3h-1zM345 585h1v2h-1zM346 587h1v3h-1zM347 590h1v2h-1zM348 591h1v1h-1zM349 591h1v1h-1zM350 590h1v1h-1zM351 590h1v1h-1zM352 588h1v2h-1zM353 587h1v2h-1zM354 585h1v2h-1zM355 583h1v2h-1zM356 584h1v1h-1zM357 585h1v1h-1zM358 586h1v1h-1zM359 587h1v1h-1zM360 587h1v1h-1zM361 587h1v1h-1zM362 587h1v1h-1zM363 587h1v1h-1zM364 588h1v1h-1zM365 589h1v2h-1zM366 591h1v1h-1zM367 592h1v1h-1zM368 592h1v1h-1zM369 593h1v1h-1zM370 593h1v1h-1zM371 593h1v1h-1zM372 593h1v1h-1zM373 593h1v1h-1zM374 593h1v1h-1zM375 594h1v1h-1zM376 594h1v1h-1zM377 595h1v1h-1zM378 595h1v1h-1zM379 596h1v1h-1zM380 596h1v1h-1zM381 596h1v1h-1zM382 597h1v1h-1zM383 597h1v1h-1zM384 596h1v1h-1zM385 596h1v1h-1zM386 596h1v1h-1zM387 595h1v1h-1zM388 595h1v1h-1zM389 596h1v1h-1zM390 596h1v1h-1zM391 596h1v1h-1zM392 597h1v1h-1zM393 597h1v1h-1zM394 597h1v1h-1zM395 598h1v1h-1zM396 598h1v1h-1zM397 598h1v1h-1zM398 598h1v1h-1zM399 598h1v1h-1zM400 598h1v1h-1zM401 597h1v1h-1zM402 597h1v1h-1zM403 597h1v1h-1zM404 596h1v1h-1zM405 595h1v1h-1zM406 595h1v1h-1zM407 592h1v3h-1zM408 588h1v4h-1zM409 584h1v4h-1zM410 579h1v5h-1zM411 576h1v3h-1zM412 577h1v2h-1zM413 579h1v1h-1zM414 580h1v1h-1zM415 581h1v1h-1zM416 581h1v1h-1zM417 581h1v1h-1zM418 581h1v1h-1zM419 581h1v1h-1zM420 581h1v1h-1zM421 581h1v1h-1zM422 581h1v1h-1zM423 581h1v1h-1zM424 581h1v1h-1zM425 581h1v1h-1zM426 580h1v1h-1zM427 580h1v1h-1zM428 580h1v1h-1zM429 579h1v1h-1zM430 579h1v1h-1zM431 578h1v1h-1zM432 578h1v1h-1zM433 577h1v1h-1zM434 577h1v1h-1zM435 576h1v1h-1zM436 576h1v1h-1zM437 576h1v1h-1zM438 576h1v1h-1zM439 577h1v1h-1zM440 575h1v2h-1zM441 574h1v1h-1zM442 572h1v2h-1zM443 571h1v1h-1zM444 570h1v1h-1zM445 570h1v1h-1zM446 569h1v1h-1zM447 569h1v1h-1zM448 570h1v1h-1zM449 570h1v1h-1zM450 571h1v1h-1zM451 572h1v1h-1zM452 571h1v1h-1zM453 571h1v1h-1zM454 570h1v1h-1zM455 569h1v1h-1zM456 569h1v1h-1zM457 569h1v1h-1zM458 568h1v1h-1zM459 568h1v1h-1zM460 567h1v1h-1zM461 567h1v1h-1zM462 567h1v1h-1zM463 567h1v1h-1zM464 567h1v2h-1zM465 569h1v2h-1zM466 571h1v2h-1zM467 573h1v2h-1zM468 573h1v1h-1zM469 573h1v1h-1zM470 572h1v1h-1zM471 572h1v1h-1zM472 572h1v1h-1zM473 573h1v2h-1zM474 575h1v1h-1zM475 576h1v1h-1zM476 575h1v1h-1zM477 574h1v1h-1zM478 574h1v1h-1zM479 572h1v2h-1zM480 570h1v2h-1zM481 568h1v2h-1zM482 567h1v2h-1zM483 565h1v2h-1zM484 566h1v1h-1zM485 567h1v1h-1zM486 568h1v1h-1zM487 569h1v1h-1zM488 568h1v1h-1zM489 568h1v1h-1zM490 568h1v1h-1zM491 567h1v1h-1zM492 567h1v1h-1zM493 567h1v1h-1zM494 567h1v1h-1zM495 566h1v1h-1zM496 566h1v1h-1zM497 565h1v1h-1zM498 565h1v1h-1zM499 564h1v1h-1zM500 565h1v1h-1zM501 566h1v1h-1zM502 567h1v1h-1zM503 568h1v1h-1zM504 569h1v1h-1zM505 570h1v1h-1zM506 571h1v1h-1zM507 572h1v1h-1zM508 571h1v1h-1zM509 571h1v1h-1zM510 571h1v1h-1zM511 570h1v1h-1zM512 571h1v1h-1zM513 571h1v1h-1zM514 572h1v1h-1zM515 573h1v1h-1zM516 572h1v1h-1zM517 572h1v1h-1zM518 572h1v1h-1zM519 571h1v1h-1zM520 571h1v1h-1zM521 570h1v1h-1zM522 570h1v1h-1zM523 569h1v1h-1zM524 570h1v1h-1zM525 570h1v1h-1zM526 571h1v1h-1zM527 571h1v2h-1zM528 573h1v3h-1zM529 576h1v2h-1zM530 578h1v3h-1zM531 581h1v2h-1zM532 583h1v2h-1zM533 585h1v2h-1zM534 587h1v2h-1zM535 588h1v2h-1zM536 585h1v3h-1zM537 581h1v4h-1zM538 578h1v3h-1zM539 577h1v2h-1zM540 577h1v1h-1zM541 577h1v1h-1zM542 578h1v1h-1zM543 578h1v1h-1zM544 579h1v1h-1zM545 580h1v1h-1zM546 581h1v1h-1zM547 582h1v1h-1zM548 581h1v1h-1zM549 581h1v1h-1zM550 581h1v1h-1zM551 580h1v1h-1zM552 581h1v1h-1zM553 582h1v1h-1zM554 582h1v1h-1zM555 583h1v1h-1zM556 584h1v1h-1zM557 585h1v1h-1zM558 585h1v1h-1zM559 586h1v1h-1zM560 586h1v1h-1zM561 585h1v1h-1zM562 585h1v1h-1zM563 584h1v1h-1zM564 585h1v1h-1zM565 585h1v1h-1zM566 586h1v1h-1zM567 586h1v1h-1zM568 587h1v1h-1zM569 588h1v1h-1zM570 589h1v1h-1zM571 590h1v1h-1zM572 590h1v1h-1zM573 590h1v1h-1zM574 589h1v1h-1zM575 589h1v1h-1zM576 590h1v1h-1zM577 591h1v2h-1zM578 592h1v1h-1zM579 593h1v1h-1zM580 593h1v1h-1zM581 592h1v1h-1zM582 591h1v1h-1zM583 590h1v1h-1zM584 589h1v1h-1zM585 587h1v2h-1zM586 585h1v2h-1zM587 584h1v1h-1zM588 584h1v1h-1zM589 584h1v1h-1zM590 584h1v1h-1zM591 584h1v1h-1zM592 584h1v1h-1zM593 583h1v1h-1zM594 583h1v1h-1zM595 583h1v1h-1zM596 584h1v1h-1zM597 585h1v1h-1zM598 585h1v1h-1zM599 586h1v1h-1zM600 586h1v1h-1zM601 585h1v1h-1zM602 585h1v1h-1zM603 584h1v1h-1zM604 585h1v2h-1zM605 587h1v1h-1zM606 588h1v2h-1zM607 590h1v1h-1zM608 591h1v1h-1zM609 591h1v1h-1zM610 592h1v1h-1zM611 593h1v1h-1zM612 593h1v1h-1zM613 594h1v1h-1zM614 594h1v1h-1zM615 595h1v1h-1zM616 595h1v1h-1zM617 595h1v1h-1zM618 596h1v1h-1zM619 596h1v1h-1zM620 597h1v2h-1zM621 599h1v2h-1zM622 601h1v2h-1zM623 603h1v1h-1zM624 602h1v1h-1zM625 601h1v1h-1zM626 600h1v1h-1zM627 599h1v1h-1zM628 599h1v1h-1zM629 599h1v1h-1zM630 599h1v1h-1zM631 599h1v1h-1zM632 599h1v1h-1zM633 599h1v1h-1zM634 598h1v1h-1zM635 598h1v1h-1zM636 598h1v1h-1zM637 598h1v1h-1zM638 597h1v1h-1zM639 597h1v1h-1zM640 597h1v1h-1zM641 598h1v1h-1zM642 598h1v1h-1zM643 598h1v2h-1zM644 596h1v2h-1zM645 594h1v2h-1zM646 592h1v2h-1zM647 590h1v2h-1zM648 589h1v1h-1zM649 588h1v1h-1zM650 587h1v1h-1zM651 585h1v2h-1zM652 583h1v2h-1zM653 582h1v1h-1zM654 580h1v2h-1zM655 578h1v2h-1zM656 579h1v2h-1zM657 581h1v1h-1zM658 582h1v2h-1zM659 584h1v1h-1zM660 583h1v1h-1zM661 583h1v1h-1zM662 583h1v1h-1zM663 582h1v1h-1zM664 583h1v1h-1zM665 583h1v1h-1zM666 583h1v1h-1zM667 583h1v1h-1zM668 583h1v1h-1zM669 582h1v1h-1zM670 582h1v1h-1zM671 581h1v1h-1zM672 582h1v1h-1zM673 582h1v1h-1zM674 583h1v1h-1zM675 583h1v1h-1zM676 584h1v1h-1zM677 584h1v1h-1zM678 584h1v1h-1zM679 584h1v1h-1zM680 583h1v1h-1zM681 583h1v1h-1zM682 582h1v1h-1zM683 581h1v1h-1zM684 581h1v1h-1zM685 581h1v1h-1zM686 581h1v1h-1zM687 581h1v1h-1zM688 581h1v1h-1zM689 581h1v1h-1zM690 582h1v1h-1zM691 582h1v1h-1zM692 582h1v1h-1zM693 581h1v1h-1zM694 581h1v1h-1zM695 579h1v2h-1zM696 578h1v1h-1zM697 576h1v2h-1zM698 574h1v2h-1zM699 572h1v2h-1zM700 571h1v1h-1zM701 570h1v1h-1zM702 569h1v1h-1zM703 569h1v1h-1zM704 569h1v1h-1zM705 570h1v1h-1zM706 570h1v1h-1zM707 571h1v1h-1zM708 570h1v1h-1zM709 570h1v1h-1zM710 570h1v1h-1zM711 570h1v1h-1zM712 569h1v1h-1zM713 567h1v2h-1zM714 567h1v1h-1zM715 566h1v1h-1zM716 566h1v1h-1zM717 566h1v1h-1zM718 565h1v1h-1zM719 565h1v1h-1zM720 565h1v1h-1zM721 564h1v1h-1zM722 563h1v1h-1zM723 563h1v1h-1zM724 562h1v1h-1zM725 562h1v1h-1zM726 561h1v1h-1zM727 561h1v1h-1zM728 561h1v1h-1zM729 561h1v1h-1zM730 561h1v1h-1zM731 561h1v1h-1zM732 560h1v1h-1zM733 560h1v1h-1zM734 560h1v1h-1zM735 560h1v1h-1zM736 559h1v1h-1zM737 558h1v1h-1zM738 557h1v1h-1zM739 557h1v1h-1zM740 556h1v1h-1zM741 556h1v1h-1zM742 556h1v1h-1zM743 555h1v1h-1zM744 555h1v1h-1zM745 555h1v1h-1zM746 555h1v1h-1zM747 554h1v1h-1zM748 554h1v1h-1zM749 554h1v1h-1zM750 554h1v1h-1zM751 554h1v1h-1zM752 554h1v1h-1zM753 554h1v1h-1zM754 554h1v1h-1zM755 554h1v1h-1zM756 554h1v1h-1zM757 555h1v1h-1zM758 555h1v1h-1zM759 556h1v1h-1zM760 555h1v1h-1zM761 555h1v1h-1zM762 554h1v1h-1zM763 553h1v2h-1zM764 555h1v2h-1zM765 557h1v2h-1zM766 559h1v2h-1zM767 561h1v2h-1zM768 563h1v2h-1zM769 565h1v2h-1zM770 567h1v2h-1zM771 568h1v2h-1zM772 570h1v1h-1zM773 570h1v1h-1zM774 571h1v1h-1zM775 572h1v1h-1zM776 571h1v1h-1zM777 571h1v1h-1zM778 571h1v1h-1zM779 570h1v1h-1zM780 571h1v1h-1zM781 572h1v1h-1zM782 572h1v1h-1zM783 573h1v1h-1zM784 573h1v1h-1zM785 574h1v1h-1zM786 575h1v1h-1zM787 576h1v1h-1zM788 575h1v1h-1zM789 574h1v1h-1zM790 574h1v1h-1zM791 573h1v1h-1zM792 574h1v1h-1zM793 575h1v1h-1zM794 575h1v1h-1zM795 576h1v1h-1zM796 576h1v1h-1zM797 577h1v1h-1zM798 577h1v1h-1zM799 578h1v1h-1zM800 578h1v1h-1zM801 579h1v1h-1zM802 579h1v1h-1zM803 580h1v1h-1zM804 580h1v1h-1zM805 581h1v1h-1zM806 582h1v1h-1zM807 582h1v2h-1zM808 579h1v3h-1zM809 577h1v2h-1zM810 574h1v3h-1zM811 572h1v2h-1zM812 571h1v1h-1zM813 570h1v1h-1zM814 569h1v1h-1zM815 568h1v1h-1zM816 568h1v1h-1zM817 567h1v1h-1zM818 567h1v1h-1zM819 566h1v1h-1zM820 565h1v1h-1zM821 563h1v2h-1zM822 561h1v2h-1zM823 560h1v1h-1zM824 559h1v1h-1zM825 557h1v2h-1zM826 556h1v1h-1zM827 555h1v1h-1zM828 556h1v1h-1zM829 557h1v2h-1zM830 559h1v1h-1zM831 559h1v1h-1zM832 560h1v1h-1zM833 561h1v1h-1zM834 562h1v1h-1zM835 562h1v2h-1zM836 564h1v2h-1zM837 566h1v2h-1zM838 568h1v2h-1zM839 570h1v2h-1zM840 569h1v2h-1zM841 568h1v1h-1zM842 566h1v2h-1zM843 565h1v1h-1zM844 565h1v1h-1zM845 565h1v1h-1zM846 565h1v1h-1zM847 565h1v1h-1zM848 564h1v1h-1zM849 564h1v1h-1zM850 563h1v1h-1zM851 563h1v1h-1zM852 563h1v1h-1zM853 563h1v1h-1zM854 563h1v1h-1zM855 563h1v1h-1zM856 562h1v2h-1zM857 560h1v2h-1zM858 558h1v2h-1zM859 555h1v3h-1zM860 553h1v2h-1zM861 551h1v2h-1zM862 549h1v2h-1zM863 548h1v1h-1zM864 548h1v1h-1zM865 549h1v1h-1zM866 550h1v1h-1zM867 551h1v1h-1zM868 551h1v1h-1zM869 550h1v1h-1zM870 549h1v1h-1zM871 548h1v1h-1zM872 548h1v1h-1zM873 547h1v1h-1zM874 547h1v1h-1zM875 546h1v1h-1zM876 547h1v2h-1zM877 549h1v2h-1zM878 551h1v2h-1zM879 553h1v1h-1zM880 552h1v1h-1zM881 552h1v1h-1zM882 552h1v1h-1zM883 552h1v1h-1zM884 551h1v1h-1zM885 549h1v2h-1zM886 548h1v1h-1zM887 547h1v1h-1zM888 547h1v1h-1zM889 546h1v1h-1zM890 545h1v1h-1zM891 544h1v1h-1zM892 545h1v1h-1zM893 546h1v1h-1zM894 547h1v1h-1zM895 548h1v1h-1zM896 549h1v2h-1zM897 551h1v2h-1zM898 553h1v2h-1zM899 555h1v1h-1zM900 554h1v1h-1zM901 554h1v1h-1zM902 554h1v1h-1zM903 553h1v1h-1zM904 553h1v1h-1zM905 553h1v1h-1zM906 552h1v1h-1zM907 552h1v1h-1zM908 553h1v1h-1zM909 553h1v2h-1zM910 555h1v1h-1zM911 556h1v1h-1zM912 557h1v2h-1zM913 559h1v2h-1zM914 561h1v2h-1zM915 562h1v3h-1zM916 565h1v3h-1zM917 568h1v4h-1zM918 572h1v3h-1zM919 575h1v2h-1zM920 575h1v1h-1zM921 575h1v1h-1zM922 575h1v1h-1zM923 575h1v1h-1zM924 575h1v1h-1zM925 576h1v2h-1zM926 578h1v1h-1zM927 579h1v1h-1zM928 577h1v2h-1zM929 575h1v2h-1zM930 573h1v2h-1zM931 572h1v1h-1zM932 573h1v1h-1zM933 573h1v1h-1zM934 574h1v1h-1zM935 574h1v1h-1zM936 574h1v1h-1zM937 573h1v1h-1zM938 572h1v1h-1zM939 571h1v1h-1zM940 572h1v1h-1zM941 573h1v1h-1zM942 574h1v1h-1zM943 575h1v1h-1zM944 575h1v1h-1zM945 575h1v1h-1zM946 575h1v1h-1zM947 575h1v1h-1zM948 574h1v1h-1zM949 574h1v1h-1zM950 574h1v1h-1zM951 574h1v1h-1zM952 574h1v1h-1zM953 574h1v1h-1zM954 575h1v1h-1zM955 575h1v1h-1zM956 576h1v2h-1zM957 578h1v1h-1zM958 579h1v2h-1zM959 581h1v1h-1zM960 581h1v1h-1zM961 580h1v1h-1zM962 580h1v1h-1zM963 579h1v1h-1zM964 580h1v1h-1zM965 580h1v1h-1zM966 580h1v1h-1zM967 581h1v1h-1zM968 581h1v1h-1zM969 581h1v1h-1zM970 581h1v1h-1zM971 581h1v1h-1zM972 581h1v1h-1zM973 581h1v1h-1zM974 581h1v1h-1zM975 582h1v1h-1zM976 582h1v1h-1zM977 582h1v1h-1zM978 582h1v1h-1zM979 582h1v1h-1zM980 582h1v1h-1zM981 583h1v1h-1zM982 583h1v1h-1zM983 583h1v2h-1zM984 581h1v2h-1zM985 578h1v3h-1zM986 576h1v2h-1zM987 574h1v2h-1zM988 574h1v1h-1zM989 574h1v1h-1zM990 573h1v1h-1zM991 573h1v1h-1zM992 574h1v1h-1zM993 575h1v2h-1zM994 577h1v1h-1zM995 578h1v1h-1zM996 578h1v1h-1zM997 579h1v1h-1zM998 579h1v1h-1zM999 579h1v1h-1zM1000 578h1v1h-1zM1001 578h1v1h-1zM1002 577h1v1h-1zM1003 577h1v1h-1zM1004 575h1v2h-1zM1005 574h1v1h-1zM1006 573h1v1h-1zM1007 572h1v1h-1zM1008 573h1v1h-1zM1009 574h1v1h-1zM1010 575h1v2h-1zM1011 577h1v1h-1zM1012 577h1v1h-1zM1013 578h1v1h-1zM1014 579h1v1h-1zM1015 579h1v1h-1zM1016 579h1v1h-1zM1017 578h1v1h-1zM1018 577h1v1h-1zM1019 576h1v1h-1zM1020 576h1v1h-1zM1021 576h1v1h-1zM1022 576h1v1h-1zM1023 576h1v1h-1zM1024 577h1v1h-1zM1025 578h1v1h-1zM1026 579h1v1h-1zM1027 579h1v1h-1zM1028 580h1v1h-1zM1029 580h1v1h-1zM1030 581h1v1h-1zM1031 582h1v1h-1zM1032 582h1v1h-1zM1033 583h1v1h-1zM1034 584h1v1h-1zM1035 584h1v1h-1zM1036 585h1v1h-1zM1037 585h1v1h-1zM1038 585h1v1h-1zM1039 584h1v2h-1zM1040 582h1v2h-1zM1041 580h1v2h-1zM1042 578h1v2h-1zM1043 576h1v2h-1zM1044 576h1v1h-1zM1045 576h1v1h-1zM1046 577h1v1h-1zM1047 577h1v1h-1zM1048 577h1v1h-1zM1049 577h1v1h-1zM1050 577h1v1h-1zM1051 577h1v1h-1zM1052 577h1v1h-1zM1053 578h1v1h-1zM1054 579h1v1h-1zM1055 580h1v1h-1zM1056 578h1v2h-1zM1057 577h1v1h-1zM1058 575h1v2h-1zM1059 574h1v1h-1zM1060 575h1v2h-1zM1061 577h1v2h-1zM1062 579h1v2h-1zM1063 581h1v2h-1zM1064 583h1v1h-1zM1065 583h1v1h-1zM1066 584h1v1h-1zM1067 584h1v1h-1zM1068 584h1v1h-1zM1069 584h1v1h-1zM1070 584h1v1h-1zM1071 583h1v1h-1zM1072 582h1v1h-1zM1073 581h1v2h-1zM1074 580h1v1h-1zM1075 579h1v1h-1zM1076 579h1v1h-1zM1077 579h1v1h-1zM1078 580h1v1h-1zM1079 580h1v1h-1zM1080 579h1v1h-1zM1081 578h1v1h-1zM1082 577h1v1h-1zM1083 576h1v1h-1zM1084 576h1v1h-1zM1085 576h1v1h-1zM1086 576h1v1h-1zM1087 576h1v1h-1zM1088 576h1v1h-1zM1089 576h1v1h-1zM1090 576h1v1h-1zM1091 576h1v1h-1zM1092 576h1v1h-1zM1093 575h1v1h-1zM1094 575h1v1h-1zM1095 575h1v1h-1zM1096 576h1v2h-1zM1097 578h1v2h-1zM1098 580h1v2h-1zM1099 582h1v2h-1zM1100 584h1v1h-1zM1101 585h1v1h-1zM1102 586h1v1h-1zM1103 587h1v1h-1zM1104 586h1v1h-1zM1105 586h1v1h-1zM1106 585h1v1h-1zM1107 585h1v1h-1zM1108 584h1v1h-1zM1109 584h1v1h-1zM1110 583h1v1h-1zM1111 582h1v1h-1zM1112 581h1v1h-1zM1113 580h1v1h-1zM1114 579h1v1h-1zM1115 578h1v1h-1zM1116 579h1v1h-1zM1117 579h1v1h-1zM1118 579h1v1h-1zM1119 580h1v1h-1zM1120 580h1v1h-1zM1121 581h1v1h-1zM1122 581h1v1h-1zM1123 581h1v1h-1zM1124 582h1v2h-1zM1125 584h1v2h-1zM1126 586h1v2h-1zM1127 587h1v2h-1zM1128 589h1v1h-1zM1129 589h1v1h-1zM1130 589h1v1h-1zM1131 590h1v1h-1zM1132 590h1v1h-1zM1133 590h1v1h-1zM1134 590h1v1h-1zM1135 591h1v1h-1zM1136 590h1v1h-1zM1137 589h1v1h-1zM1138 588h1v1h-1zM1139 587h1v1h-1zM1140 588h1v1h-1zM1141 588h1v1h-1zM1142 588h1v1h-1zM1143 589h1v1h-1zM1144 590h1v2h-1zM1145 592h1v1h-1zM1146 593h1v2h-1zM1147 595h1v1h-1zM1148 596h1v1h-1zM1149 597h1v1h-1zM1150 597h1v1h-1zM1151 598h1v1h-1zM1152 598h1v1h-1zM1153 598h1v1h-1zM1154 598h1v1h-1zM1155 599h1v1h-1zM1156 598h1v1h-1zM1157 598h1v1h-1zM1158 598h1v1h-1zM1159 597h1v1h-1zM1160 598h1v1h-1zM1161 599h1v1h-1zM1162 599h1v1h-1zM1163 600h1v1h-1zM1164 600h1v1h-1zM1165 600h1v1h-1zM1166 599h1v1h-1zM1167 599h1v1h-1zM1168 599h1v1h-1zM1169 600h1v1h-1zM1170 600h1v1h-1zM1171 601h1v1h-1zM1172 600h1v1h-1zM1173 598h1v2h-1zM1174 597h1v1h-1zM1175 597h1v1h-1zM1176 597h1v1h-1zM1177 597h1v1h-1zM1178 598h1v1h-1zM1179 597h1v2h-1zM1180 594h1v3h-1zM1181 591h1v3h-1zM1182 588h1v3h-1zM1183 586h1v2h-1zM1184 586h1v1h-1zM1185 585h1v1h-1zM1186 585h1v1h-1zM1187 584h1v1h-1zM1188 584h1v1h-1zM1189 584h1v1h-1zM1190 583h1v1h-1zM1191 583h1v1h-1zM1192 583h1v1h-1zM1193 583h1v1h-1zM1194 583h1v1h-1zM1195 583h1v1h-1zM1196 584h1v1h-1zM1197 584h1v1h-1zM1198 585h1v1h-1zM1199 586h1v1h-1zM1200 585h1v1h-1zM1201 585h1v1h-1zM1202 585h1v1h-1zM1203 585h1v1h-1zM1204 585h1v1h-1zM1205 584h1v1h-1zM1206 584h1v1h-1zM1207 583h1v1h-1zM1208 583h1v1h-1zM1209 583h1v1h-1zM1210 583h1v1h-1zM1211 583h1v1h-1zM1212 583h1v1h-1zM1213 583h1v1h-1zM1214 583h1v1h-1zM1215 583h1v1h-1zM1216 584h1v1h-1zM1217 585h1v1h-1zM1218 586h1v1h-1zM1219 587h1v1h-1zM1220 587h1v1h-1zM1221 588h1v1h-1zM1222 588h1v1h-1zM1223 589h1v1h-1zM1224 587h1v2h-1zM1225 585h1v2h-1zM1226 583h1v2h-1zM1227 581h1v2h-1zM1228 580h1v1h-1zM1229 579h1v1h-1zM1230 578h1v1h-1zM1231 577h1v1h-1zM1232 576h1v1h-1zM1233 576h1v1h-1zM1234 575h1v1h-1zM1235 575h1v1h-1zM1236 575h1v1h-1zM1237 576h1v1h-1zM1238 577h1v1h-1zM1239 578h1v1h-1zM1240 577h1v1h-1zM1241 577h1v1h-1zM1242 576h1v1h-1zM1243 575h1v1h-1zM1244 576h1v2h-1zM1245 578h1v1h-1zM1246 579h1v2h-1zM1247 581h1v1h-1zM1248 582h1v1h-1zM1249 582h1v1h-1zM1250 582h1v1h-1zM1251 583h1v1h-1zM1252 583h1v1h-1zM1253 582h1v1h-1zM1254 582h1v1h-1zM1255 582h1v1h-1zM1256 583h1v1h-1zM1257 583h1v1h-1zM1258 584h1v1h-1zM1259 584h1v1h-1zM1260 584h1v1h-1zM1261 584h1v1h-1zM1262 584h1v1h-1zM1263 584h1v1h-1zM1264 584h1v1h-1zM1265 585h1v1h-1zM1266 585h1v1h-1zM1267 585h1v1h-1z" fill="#1e90ff"/></g><g clip-path="url(#cd)"><rect x="3" y="687" width="1" height="15" fill="#c0c0c0"/><rect x="7" y="687" width="1" height="15" fill="#c0c0c0"/><rect x="11" y="687" width="1" height="14" fill="#c0c0c0"/><rect x="15" y="687" width="1" height="14" fill="#c0c0c0"/><rect x="19" y="687" width="1" height="13" fill="#c0c0c0"/><rect x="23" y="687" width="1" height="12" fill="#c0c0c0"/><rect x="27" y="687" width="1" height="12" fill="#c0c0c0"/><rect x="31" y="687" width="1" height="11" fill="#c0c0c0"/><rect x="35" y="687" width="1" height="12" fill="#c0c0c0"/><rect x="39" y="687" width="1" height="12" fill="#c0c0c0"/><rect x="43" y="687" width="1" height="11" fill="#c0c0c0"/><rect x="47" y="687" width="1" height="11" fill="#c0c0c0"/><rect x="51" y="687" width="1" height="11" fill="#c0c0c0"/><rect x="55" y="687" width="1" height="10" fill="#c0c0c0"/><rect x="59" y="687" width="1" height="9" fill="#c0c0c0"/><rect x="63" y="687" width="1" height="8" fill="#c0c0c0"/><rect x="67" y="687" width="1" height="7" fill="#c0c0c0"/><rect x="71" y="687" width="1" height="6" fill="#c0c0c0"/><rect x="75" y="687" width="1" height="5" fill="#c0c0c0"/><rect x="79" y="687" width="1" height="4" fill="#c0c0c0"/><rect x="83" y="687" width="1" height="2" fill="#c0c0c0"/><rect x="87" y="687" width="1" height="1" fill="#c0c0c0"/><rect x="91" y="687" width="1" height="1" fill="#c0c0c0"/><rect x="103" y="686" width="1" height="1" fill="#c0c0c0"/><rect x="107" y="685" width="1" height="2" fill="#c0c0c0"/><rect x="111" y="685" width="1" height="2" fill="#c0c0c0"/><rect x="115" y="684" width="1" height="3" fill="#c0c0c0"/><rect x="119" y="683" width="1" height="4" fill="#c0c0c0"/><rect x="123" y="682" width="1" height="5" fill="#c0c0c0"/><rect x="127" y="682" width="1" height="5" fill="#c0c0c0"/><rect x="131" y="682" width="1" height="5" fill="#c0c0c0"/><rect x="135" y="682" width="1" height="5" fill="#c0c0c0"/><rect x="139" y="682" width="1" height="5" fill="#c0c0c0"/><rect x="143" y="683" width="1" height="4" fill="#c0c0c0"/><rect x="147" y="681" width="1" height="6" fill="#c0c0c0"/><rect x="151" y="681" width="1" height="6" fill="#c0c0c0"/><rect x="155" y="681" width="1" height="6" fill="#c0c0c0"/><rect x="159" y="681" width="1" height="6" fill="#c0c0c0"/><rect x="163" y="681" width="1" height="6" fill="#c0c0c0"/><rect x="167" y="680" width="1" height="7" fill="#c0c0c0"/><rect x="171" y="681" width="1" height="6" fill="#c0c0c0"/><rect x="175" y="681" width="1" height="6" fill="#c0c0c0"/><rect x="179" y="681" width="1" height="6" fill="#c0c0c0"/><rect x="183" y="681" width="1" height="6" fill="#c0c0c0"/><rect x="187" y="681" width="1" height="6" fill="#c0c0c0"/><rect x="191" y="682" width="1" height="5" fill="#c0c0c0"/><rect x="195" y="682" width="1" height="5" fill="#c0c0c0"/><rect x="199" y="682" width="1" height="5" fill="#c0c0c0"/><rect x="203" y="683" width="1" height="4" fill="#c0c0c0"/><rect x="207" y="683" width="1" height="4" fill="#c0c0c0"/><rect x="211" y="683" width="1" height="4" fill="#c0c0c0"/><rect x="215" y="682" width="1" height="5" fill="#c0c0c0"/><rect x="219" y="683" width="1" height="4" fill="#c0c0c0"/><rect x="223" y="685" width="1" height="2" fill="#c0c0c0"/><rect x="227" y="686" width="1" height="1" fill="#c0c0c0"/><rect x="231" y="687" width="1" height="1" fill="#c0c0c0"/><rect x="235" y="687" width="1" height="2" fill="#c0c0c0"/><rect x="239" y="687" width="1" height="3" fill="#c0c0c0"/><rect x="243" y="687" width="1" height="3" fill="#c0c0c0"/><rect x="247" y="687" width="1" height="3" fill="#c0c0c0"/><rect x="251" y="687" width="1" height="2" fill="#c0c0c0"/><rect x="255" y="687" width="1" height="1" fill="#c0c0c0"/><rect x="259" y="687" width="1" height="1" fill="#c0c0c0"/><rect x="263" y="687" width="1" height="1" fill="#c0c0c0"/><rect x="275" y="686" width="1" height="1" fill="#c0c0c0"/><rect x="279" y="686" width="1" height="1" fill="#c0c0c0"/><rect x="283" y="686" width="1" height="1" fill="#c0c0c0"/><rect x="287" y="686" width="1" height="1" fill="#c0c0c0"/><rect x="291" y="686" width="1" height="1" fill="#c0c0c0"/><rect x="295" y="686" width="1" height="1" fill="#c0c0c0"/><rect x="299" y="686" width="1" height="1" fill="#c0c0c0"/><rect x="303" y="686" width="1" height="1" fill="#c0c0c0"/><rect x="315" y="686" width="1" height="1" fill="#c0c0c0"/><rect x="319" y="685" width="1" height="2" fill="#c0c0c0"/><rect x="323" y="685" width="1" height="2" fill="#c0c0c0"/><rect x="327" y="684" width="1" height="3" fill="#c0c0c0"/><rect x="331" y="684" width="1" height="3" fill="#c0c0c0"/><rect x="335" y="684" width="1" height="3" fill="#c0c0c0"/><rect x="339" y="684" width="1" height="3" fill="#c0c0c0"/><rect x="343" y="684" width="1" height="3" fill="#c0c0c0"/><rect x="347" y="686" width="1" height="1" fill="#c0c0c0"/><rect x="355" y="687" width="1" height="1" fill="#c0c0c0"/><rect x="359" y="687" width="1" height="2" fill="#c0c0c0"/><rect x="363" y="687" width="1" height="2" fill="#c0c0c0"/><rect x="367" y="687" width="1" height="4" fill="#c0c0c0"/><rect x="371" y="687" width="1" height="5" fill="#c0c0c0"/><rect x="375" y="687" width="1" height="5" fill="#c0c0c0"/><rect x="379" y="687" width="1" height="6" fill="#c0c0c0"/><rect x="383" y="687" width="1" height="7" fill="#c0c0c0"/><rect x="387" y="687" width="1" height="8" fill="#c0c0c0"/><rect x="391" y="687" width="1" height="8" fill="#c0c0c0"/><rect x="395" y="687" width="1" height="9" fill="#c0c0c0"/><rect x="399" y="687" width="1" height="9" fill="#c0c0c0"/><rect x="403" y="687" width="1" height="9" fill="#c0c0c0"/><rect x="407" y="687" width="1" height="9" fill="#c0c0c0"/><rect x="411" y="687" width="1" height="7" fill="#c0c0c0"/><rect x="415" y="687" width="1" height="6" fill="#c0c0c0"/><rect x="419" y="687" width="1" height="6" fill="#c0c0c0"/><rect x="423" y="687" width="1" height="5" fill="#c0c0c0"/><rect x="427" y="687" width="1" height="4" fill="#c0c0c0"/><rect x="431" y="687" width="1" height="4" fill="#c0c0c0"/><rect x="435" y="687" width="1" height="3" fill="#c0c0c0"/><rect x="439" y="687" width="1" height="2" fill="#c0c0c0"/><rect x="443" y="687" width="1" height="1" fill="#c0c0c0"/><rect x="451" y="686" width="1" height="1" fill="#c0c0c0"/><rect x="455" y="686" width="1" height="1" fill="#c0c0c0"/><rect x="459" y="685" width="1" height="2" fill="#c0c0c0"/><rect x="463" y="684" width="1" height="3" fill="#c0c0c0"/><rect x="467" y="684" width="1" height="3" fill="#c0c0c0"/><rect x="471" y="684" width="1" height="3" fill="#c0c0c0"/><rect x="475" y="684" width="1" height="3" fill="#c0c0c0"/><rect x="479" y="684" width="1" height="3" fill="#c0c0c0"/><rect x="483" y="683" width="1" height="4" fill="#c0c0c0"/><rect x="487" y="683" width="1" height="4" fill="#c0c0c0"/><rect x="491" y="682" width="1" height="5" fill="#c0c0c0"/><rect x="495" y="682" width="1" height="5" fill="#c0c0c0"/><rect x="499" y="681" width="1" height="6" fill="#c0c0c0"/><rect x="503" y="681" width="1" height="6" fill="#c0c0c0"/><rect x="507" y="682" width="1" height="5" fill="#c0c0c0"/><rect x="511" y="682" width="1" height="5" fill="#c0c0c0"/><rect x="515" y="682" width="1" height="5" fill="#c0c0c0"/><rect x="519" y="682" width="1" height="5" fill="#c0c0c0"/><rect x="523" y="682" width="1" height="5" fill="#c0c0c0"/><rect x="527" y="682" width="1" height="5" fill="#c0c0c0"/><rect x="531" y="683" width="1" height="4" fill="#c0c0c0"/><rect x="535" y="685" width="1" height="2" fill="#c0c0c0"/><rect x="539" y="685" width="1" height="2" fill="#c0c0c0"/><rect x="543" y="685" width="1" height="2" fill="#c0c0c0"/><rect x="547" y="686" width="1" height="1" fill="#c0c0c0"/><rect x="551" y="686" width="1" height="1" fill="#c0c0c0"/><rect x="563" y="687" width="1" height="1" fill="#c0c0c0"/><rect x="567" y="687" width="1" height="2" fill="#c0c0c0"/><rect x="571" y="687" width="1" height="2" fill="#c0c0c0"/><rect x="575" y="687" width="1" height="3" fill="#c0c0c0"/><rect x="579" y="687" width="1" height="4" fill="#c0c0c0"/><rect x="583" y="687" width="1" height="5" fill="#c0c0c0"/><rect x="587" y="687" width="1" height="4" fill="#c0c0c0"/><rect x="591" y="687" width="1" height="4" fill="#c0c0c0"/><rect x="595" y="687" width="1" height="4" fill="#c0c0c0"/><rect x="599" y="687" width="1" height="4" fill="#c0c0c0"/><rect x="603" y="687" width="1" height="4" fill="#c0c0c0"/><rect x="607" y="687" width="1" height="4" fill="#c0c0c0"/><rect x="611" y="687" width="1" height="5" fill="#c0c0c0"/><rect x="615" y="687" width="1" height="6" fill="#c0c0c0"/><rect x="619" y="687" width="1" height="6" fill="#c0c0c0"/><rect x="623" y="687" width="1" height="8" fill="#c0c0c0"/><rect x="627" y="687" width="1" height="9" fill="#c0c0c0"/><rect x="631" y="687" width="1" height="10" fill="#c0c0c0"/><rect x="635" y="687" width="1" height="10" fill="#c0c0c0"/><rect x="639" y="687" width="1" height="10" fill="#c0c0c0"/><rect x="643" y="687" width="1" height="11" fill="#c0c0c0"/><rect x="647" y="687" width="1" height="10" fill="#c0c0c0"/><rect x="651" y="687" width="1" height="9" fill="#c0c0c0"/><rect x="655" y="687" width="1" height="8" fill="#c0c0c0"/><rect x="659" y="687" width="1" height="7" fill="#c0c0c0"/><rect x="663" y="687" width="1" height="6" fill="#c0c0c0"/><rect x="667" y="687" width="1" height="6" fill="#c0c0c0"/><rect x="671" y="687" width="1" height="5" fill="#c0c0c0"/><rect x="675" y="687" width="1" height="5" fill="#c0c0c0"/><rect x="679" y="687" width="1" height="4" fill="#c0c0c0"/><rect x="683" y="687" width="1" height="4" fill="#c0c0c0"/><rect x="687" y="687" width="1" height="3" fill="#c0c0c0"/><rect x="691" y="687" width="1" height="3" fill="#c0c0c0"/><rect x="695" y="687" width="1" height="3" fill="#c0c0c0"/><rect x="699" y="687" width="1" height="2" fill="#c0c0c0"/><rect x="711" y="686" width="1" height="1" fill="#c0c0c0"/><rect x="715" y="685" width="1" height="2" fill="#c0c0c0"/><rect x="719" y="684" width="1" height="3" fill="#c0c0c0"/><rect x="723" y="683" width="1" height="4" fill="#c0c0c0"/><rect x="727" y="682" width="1" height="5" fill="#c0c0c0"/><rect x="731" y="681" width="1" height="6" fill="#c0c0c0"/><rect x="735" y="681" width="1" height="6" fill="#c0c0c0"/><rect x="739" y="680" width="1" height="7" fill="#c0c0c0"/><rect x="743" y="679" width="1" height="8" fill="#c0c0c0"/><rect x="747" y="678" width="1" height="9" fill="#c0c0c0"/><rect x="751" y="678" width="1" height="9" fill="#c0c0c0"/><rect x="755" y="677" width="1" height="10" fill="#c0c0c0"/><rect x="759" y="677" width="1" height="10" fill="#c0c0c0"/><rect x="763" y="677" width="1" height="10" fill="#c0c0c0"/><rect x="767" y="677" width="1" height="10" fill="#c0c0c0"/><rect x="771" y="678" width="1" height="9" fill="#c0c0c0"/><rect x="775" y="679" width="1" height="8" fill="#c0c0c0"/><rect x="779" y="680" width="1" height="7" fill="#c0c0c0"/><rect x="783" y="680" width="1" height="7" fill="#c0c0c0"/><rect x="787" y="681" width="1" height="6" fill="#c0c0c0"/><rect x="791" y="682" width="1" height="5" fill="#c0c0c0"/><rect x="795" y="682" width="1" height="5" fill="#c0c0c0"/><rect x="799" y="683" width="1" height="4" fill="#c0c0c0"/><rect x="803" y="684" width="1" height="3" fill="#c0c0c0"/><rect x="807" y="684" width="1" height="3" fill="#c0c0c0"/><rect x="811" y="684" width="1" height="3" fill="#c0c0c0"/><rect x="815" y="684" width="1" height="3" fill="#c0c0c0"/><rect x="819" y="683" width="1" height="4" fill="#c0c0c0"/><rect x="823" y="682" width="1" height="5" fill="#c0c0c0"/><rect x="827" y="681" width="1" height="6" fill="#c0c0c0"/><rect x="831" y="680" width="1" height="7" fill="#c0c0c0"/><rect x="835" y="679" width="1" height="8" fill="#c0c0c0"/><rect x="839" y="680" width="1" height="7" fill="#c0c0c0"/><rect x="843" y="679" width="1" height="8" fill="#c0c0c0"/><rect x="847" y="679" width="1" height="8" fill="#c0c0c0"/><rect x="851" y="678" width="1" height="9" fill="#c0c0c0"/><rect x="855" y="678" width="1" height="9" fill="#c0c0c0"/><rect x="859" y="677" width="1" height="10" fill="#c0c0c0"/><rect x="863" y="672" width="1" height="15" fill="#c0c0c0"/><rect x="867" y="669" width="1" height="18" fill="#c0c0c0"/><rect x="871" y="665" width="1" height="22" fill="#c0c0c0"/><rect x="875" y="661" width="1" height="26" fill="#c0c0c0"/><rect x="879" y="659" width="1" height="28" fill="#c0c0c0"/><rect x="883" y="657" width="1" height="30" fill="#c0c0c0"/><rect x="887" y="652" width="1" height="35" fill="#c0c0c0"/><rect x="891" y="645" width="1" height="42" fill="#c0c0c0"/><rect x="895" y="640" width="1" height="47" fill="#c0c0c0"/><rect x="899" y="638" width="1" height="49" fill="#c0c0c0"/><rect x="903" y="637" width="1" height="50" fill="#c0c0c0"/><rect x="907" y="634" width="1" height="53" fill="#c0c0c0"/><rect x="911" y="634" width="1" height="53" fill="#c0c0c0"/><rect x="915" y="637" width="1" height="50" fill="#c0c0c0"/><rect x="919" y="643" width="1" height="44" fill="#c0c0c0"/><rect x="923" y="648" width="1" height="39" fill="#c0c0c0"/><rect x="927" y="654" width="1" height="33" fill="#c0c0c0"/><rect x="931" y="656" width="1" height="31" fill="#c0c0c0"/><rect x="935" y="659" width="1" height="28" fill="#c0c0c0"/><rect x="939" y="660" width="1" height="27" fill="#c0c0c0"/><rect x="943" y="663" width="1" height="24" fill="#c0c0c0"/><rect x="947" y="665" width="1" height="22" fill="#c0c0c0"/><rect x="951" y="666" width="1" height="21" fill="#c0c0c0"/><rect x="955" y="668" width="1" height="19" fill="#c0c0c0"/><rect x="959" y="672" width="1" height="15" fill="#c0c0c0"/><rect x="963" y="674" width="1" height="13" fill="#c0c0c0"/><rect x="967" y="677" width="1" height="10" fill="#c0c0c0"/><rect x="971" y="679" width="1" height="8" fill="#c0c0c0"/><rect x="975" y="682" width="1" height="5" fill="#c0c0c0"/><rect x="979" y="683" width="1" height="4" fill="#c0c0c0"/><rect x="983" y="685" width="1" height="2" fill="#c0c0c0"/><rect x="987" y="684" width="1" height="3" fill="#c0c0c0"/><rect x="991" y="683" width="1" height="4" fill="#c0c0c0"/><rect x="995" y="683" width="1" height="4" fill="#c0c0c0"/><rect x="999" y="684" width="1" height="3" fill="#c0c0c0"/><rect x="1003" y="684" width="1" height="3" fill="#c0c0c0"/><rect x="1007" y="682" width="1" height="5" fill="#c0c0c0"/><rect x="1011" y="682" width="1" height="5" fill="#c0c0c0"/><rect x="1015" y="683" width="1" height="4" fill="#c0c0c0"/><rect x="1019" y="683" width="1" height="4" fill="#c0c0c0"/><rect x="1023" y="683" width="1" height="4" fill="#c0c0c0"/><rect x="1027" y="683" width="1" height="4" fill="#c0c0c0"/><rect x="1031" y="685" width="1" height="2" fill="#c0c0c0"/><rect x="1039" y="687" width="1" height="2" fill="#c0c0c0"/><rect x="1051" y="686" width="1" height="1" fill="#c0c0c0"/><rect x="1055" y="686" width="1" height="1" fill="#c0c0c0"/><rect x="1059" y="685" width="1" height="2" fill="#c0c0c0"/><rect x="1063" y="686" width="1" height="1" fill="#c0c0c0"/><rect x="1067" y="687" width="1" height="1" fill="#c0c0c0"/><rect x="1071" y="687" width="1" height="3" fill="#c0c0c0"/><rect x="1075" y="687" width="1" height="2" fill="#c0c0c0"/><rect x="1079" y="687" width="1" height="2" fill="#c0c0c0"/><rect x="1083" y="687" width="1" height="1" fill="#c0c0c0"/><rect x="1091" y="686" width="1" height="1" fill="#c0c0c0"/><rect x="1095" y="685" width="1" height="2" fill="#c0c0c0"/><rect x="1103" y="687" width="1" height="2" fill="#c0c0c0"/><rect x="1107" y="687" width="1" height="3" fill="#c0c0c0"/><rect x="1111" y="687" width="1" height="4" fill="#c0c0c0"/><rect x="1115" y="687" width="1" height="3" fill="#c0c0c0"/><rect x="1119" y="687" width="1" height="3" fill="#c0c0c0"/><rect x="1123" y="687" width="1" height="3" fill="#c0c0c0"/><rect x="1127" y="687" width="1" height="5" fill="#c0c0c0"/><rect x="1131" y="687" width="1" height="7" fill="#c0c0c0"/><rect x="1135" y="687" width="1" height="9" fill="#c0c0c0"/><rect x="1139" y="687" width="1" height="10" fill="#c0c0c0"/><rect x="1143" y="687" width="1" height="11" fill="#c0c0c0"/><rect x="1147" y="687" width="1" height="14" fill="#c0c0c0"/><rect x="1151" y="687" width="1" height="17" fill="#c0c0c0"/><rect x="1155" y="687" width="1" height="20" fill="#c0c0c0"/><rect x="1159" y="687" width="1" height="21" fill="#c0c0c0"/><rect x="1163" y="687" width="1" height="24" fill="#c0c0c0"/><rect x="1167" y="687" width="1" height="25" fill="#c0c0c0"/><rect x="1171" y="687" width="1" height="27" fill="#c0c0c0"/><rect x="1175" y="687" width="1" height="27" fill="#c0c0c0"/><rect x="1179" y="687" width="1" height="27" fill="#c0c0c0"/><rect x="1183" y="687" width="1" height="25" fill="#c0c0c0"/><rect x="1187" y="687" width="1" height="22" fill="#c0c0c0"/><rect x="1191" y="687" width="1" height="20" fill="#c0c0c0"/><rect x="1195" y="687" width="1" height="18" fill="#c0c0c0"/><rect x="1199" y="687" width="1" height="16" fill="#c0c0c0"/><rect x="1203" y="687" width="1" height="15" fill="#c0c0c0"/><rect x="1207" y="687" width="1" height="14" fill="#c0c0c0"/><rect x="1211" y="687" width="1" height="12" fill="#c0c0c0"/><rect x="1215" y="687" width="1" height="11" fill="#c0c0c0"/><rect x="1219" y="687" width="1" height="11" fill="#c0c0c0"/><rect x="1223" y="687" width="1" height="11" fill="#c0c0c0"/><rect x="1227" y="687" width="1" height="10" fill="#c0c0c0"/><rect x="1231" y="687" width="1" height="8" fill="#c0c0c0"/><rect x="1235" y="687" width="1" height="5" fill="#c0c0c0"/><rect x="1239" y="687" width="1" height="4" fill="#c0c0c0"/><rect x="1243" y="687" width="1" height="3" fill="#c0c0c0"/><rect x="1247" y="687" width="1" height="3" fill="#c0c0c0"/><rect x="1251" y="687" width="1" height="3" fill="#c0c0c0"/><rect x="1255" y="687" width="1" height="3" fill="#c0c0c0"/><rect x="1259" y="687" width="1" height="4" fill="#c0c0c0"/><rect x="1263" y="687" width="1" height="4" fill="#c0c0c0"/><rect x="1267" y="687" width="1" height="4" fill="#c0c0c0"/><path d="M3 700h1v1h-1zM4 700h1v1h-1zM5 700h1v1h-1zM9 700h1v1h-1zM10 701h1v1h-1zM11 701h1v1h-1zM15 701h1v1h-1zM16 701h1v1h-1zM17 701h1v1h-1zM21 701h1v1h-1zM22 701h1v1h-1zM23 701h1v1h-1zM27 701h1v1h-1zM28 701h1v1h-1zM29 700h1v1h-1zM33 700h1v1h-1zM34 700h1v1h-1zM35 700h1v1h-1zM39 700h1v1h-1zM40 700h1v1h-1zM41 700h1v1h-1zM45 699h1v1h-1zM46 699h1v1h-1zM47 699h1v1h-1zM51 699h1v1h-1zM52 699h1v1h-1zM53 698h1v1h-1zM57 698h1v1h-1zM58 698h1v1h-1zM59 698h1v1h-1zM63 698h1v1h-1zM64 697h1v1h-1zM65 697h1v1h-1zM69 697h1v1h-1zM70 697h1v1h-1zM71 696h1v1h-1zM75 696h1v1h-1zM76 695h1v1h-1zM77 695h1v1h-1zM81 694h1v1h-1zM82 694h1v1h-1zM83 694h1v1h-1zM87 693h1v1h-1zM88 693h1v1h-1zM89 692h1v1h-1zM93 691h1v1h-1zM94 691h1v1h-1zM95 691h1v1h-1zM99 690h1v1h-1zM100 690h1v1h-1zM101 689h1v1h-1zM105 689h1v1h-1zM106 688h1v1h-1zM107 688h1v1h-1zM111 687h1v1h-1zM112 687h1v1h-1zM113 687h1v1h-1zM117 686h1v1h-1zM118 686h1v1h-1zM119 686h1v1h-1zM123 685h1v1h-1zM124 685h1v1h-1zM125 685h1v1h-1zM129 684h1v1h-1zM130 684h1v1h-1zM131 684h1v1h-1zM135 683h1v1h-1zM136 683h1v1h-1zM137 683h1v1h-1zM141 683h1v1h-1zM142 683h1v1h-1zM143 683h1v1h-1zM147 682h1v1h-1zM148 682h1v1h-1zM149 682h1v1h-1zM153 682h1v1h-1zM154 682h1v1h-1zM155 682h1v1h-1zM159 682h1v1h-1zM160 682h1v1h-1zM161 682h1v1h-1zM165 681h1v1h-1zM166 681h1v1h-1zM167 681h1v1h-1zM171 681h1v1h-1zM172 681h1v1h-1zM173 681h1v1h-1zM177 681h1v1h-1zM178 681h1v1h-1zM179 681h1v1h-1zM183 681h1v1h-1zM184 681h1v1h-1zM185 681h1v1h-1zM189 681h1v1h-1zM190 681h1v1h-1zM191 681h1v1h-1zM195 681h1v1h-1zM196 681h1v1h-1zM197 681h1v1h-1zM201 681h1v1h-1zM202 682h1v1h-1zM203 682h1v1h-1zM207 682h1v1h-1zM208 682h1v1h-1zM209 682h1v1h-1zM213 682h1v1h-1zM214 682h1v1h-1zM215 682h1v1h-1zM219 682h1v1h-1zM220 683h1v1h-1zM221 683h1v1h-1zM225 683h1v1h-1zM226 683h1v1h-1zM227 683h1v1h-1zM231 684h1v1h-1zM232 684h1v1h-1zM233 684h1v1h-1zM237 685h1v1h-1zM238 685h1v1h-1zM239 685h1v1h-1zM243 686h1v1h-1zM244 686h1v1h-1zM245 687h1v1h-1zM249 688h1v1h-1zM250 688h1v1h-1zM251 688h1v1h-1zM255 688h1v1h-1zM256 689h1v1h-1zM257 689h1v1h-1zM261 689h1v1h-1zM262 689h1v1h-1zM263 689h1v1h-1zM267 689h1v1h-1zM268 689h1v1h-1zM269 689h1v1h-1zM273 688h1v1h-1zM274 688h1v1h-1zM275 688h1v1h-1zM279 688h1v1h-1zM280 688h1v1h-1zM281 687h1v1h-1zM285 687h1v1h-1zM286 687h1v1h-1zM287 687h1v1h-1zM291 687h1v1h-1zM292 687h1v1h-1zM293 687h1v1h-1zM297 686h1v1h-1zM298 686h1v1h-1zM299 686h1v1h-1zM303 686h1v1h-1zM304 686h1v1h-1zM305 686h1v1h-1zM309 686h1v1h-1zM310 686h1v1h-1zM311 686h1v1h-1zM315 686h1v1h-1zM316 686h1v1h-1zM317 686h1v1h-1zM321 686h1v1h-1zM322 686h1v1h-1zM323 686h1v1h-1zM327 686h1v1h-1zM328 686h1v1h-1zM329 686h1v1h-1zM333 686h1v1h-1zM334 685h1v1h-1zM335 685h1v1h-1zM339 685h1v1h-1zM340 685h1v1h-1zM341 685h1v1h-1zM345 685h1v1h-1zM346 685h1v1h-1zM347 685h1v1h-1zM351 685h1v1h-1zM352 685h1v1h-1zM353 685h1v1h-1zM357 685h1v1h-1zM358 685h1v1h-1zM359 686h1v1h-1zM363 686h1v1h-1zM364 686h1v1h-1zM365 686h1v1h-1zM369 687h1v1h-1zM370 687h1v1h-1zM371 688h1v1h-1zM375 689h1v1h-1zM376 689h1v1h-1zM377 689h1v1h-1zM381 690h1v1h-1zM382 690h1v1h-1zM383 691h1v1h-1zM387 691h1v1h-1zM388 692h1v1h-1zM389 692h1v1h-1zM393 693h1v1h-1zM394 693h1v1h-1zM395 693h1v1h-1zM399 694h1v1h-1zM400 694h1v1h-1zM401 694h1v1h-1zM405 695h1v1h-1zM406 695h1v1h-1zM407 695h1v1h-1zM411 695h1v1h-1zM412 695h1v1h-1zM413 695h1v1h-1zM417 695h1v1h-1zM418 695h1v1h-1zM419 695h1v1h-1zM423 695h1v1h-1zM424 695h1v1h-1zM425 694h1v1h-1zM429 694h1v1h-1zM430 694h1v1h-1zM431 694h1v1h-1zM435 693h1v1h-1zM436 693h1v1h-1zM437 692h1v1h-1zM441 692h1v1h-1zM442 691h1v1h-1zM443 691h1v1h-1zM447 690h1v1h-1zM448 690h1v1h-1zM449 690h1v1h-1zM453 689h1v1h-1zM454 689h1v1h-1zM455 689h1v1h-1zM459 688h1v1h-1zM460 688h1v1h-1zM461 688h1v1h-1zM465 687h1v1h-1zM466 687h1v1h-1zM467 687h1v1h-1zM471 686h1v1h-1zM472 686h1v1h-1zM473 686h1v1h-1zM477 685h1v1h-1zM478 685h1v1h-1zM479 685h1v1h-1zM483 684h1v1h-1zM484 684h1v1h-1zM485 684h1v1h-1zM489 684h1v1h-1zM490 684h1v1h-1zM491 684h1v1h-1zM495 683h1v1h-1zM496 683h1v1h-1zM497 683h1v1h-1zM501 683h1v1h-1zM502 683h1v1h-1zM503 683h1v1h-1zM507 682h1v1h-1zM508 682h1v1h-1zM509 682h1v1h-1zM513 682h1v1h-1zM514 682h1v1h-1zM515 682h1v1h-1zM519 682h1v1h-1zM520 682h1v1h-1zM521 682h1v1h-1zM525 682h1v1h-1zM526 682h1v1h-1zM527 682h1v1h-1zM531 682h1v1h-1zM532 682h1v1h-1zM533 682h1v1h-1zM537 683h1v1h-1zM538 683h1v1h-1zM539 683h1v1h-1zM543 683h1v1h-1zM544 683h1v1h-1zM545 683h1v1h-1zM549 684h1v1h-1zM550 684h1v1h-1zM551 684h1v1h-1zM555 685h1v1h-1zM556 685h1v1h-1zM557 685h1v1h-1zM561 685h1v1h-1zM562 686h1v1h-1zM563 686h1v1h-1zM567 686h1v1h-1zM568 686h1v1h-1zM569 687h1v1h-1zM573 687h1v1h-1zM574 687h1v1h-1zM575 687h1v1h-1zM579 688h1v1h-1zM580 688h1v1h-1zM581 688h1v1h-1zM585 689h1v1h-1zM586 689h1v1h-1zM587 689h1v1h-1zM591 690h1v1h-1zM592 690h1v1h-1zM593 690h1v1h-1zM597 690h1v1h-1zM598 690h1v1h-1zM599 691h1v1h-1zM603 691h1v1h-1zM604 691h1v1h-1zM605 691h1v1h-1zM609 691h1v1h-1zM610 691h1v1h-1zM611 691h1v1h-1zM615 691h1v1h-1zM616 691h1v1h-1zM617 692h1v1h-1zM621 692h1v1h-1zM622 692h1v1h-1zM623 692h1v1h-1zM627 693h1v1h-1zM628 693h1v1h-1zM629 693h1v1h-1zM633 694h1v1h-1zM634 694h1v1h-1zM635 694h1v1h-1zM639 695h1v1h-1zM640 695h1v1h-1zM641 695h1v1h-1zM645 696h1v1h-1zM646 696h1v1h-1zM647 696h1v1h-1zM651 696h1v1h-1zM652 696h1v1h-1zM653 696h1v1h-1zM657 696h1v1h-1zM658 696h1v1h-1zM659 696h1v1h-1zM663 696h1v1h-1zM664 696h1v1h-1zM665 696h1v1h-1zM669 695h1v1h-1zM670 695h1v1h-1zM671 695h1v1h-1zM675 694h1v1h-1zM676 694h1v1h-1zM677 694h1v1h-1zM681 693h1v1h-1zM682 693h1v1h-1zM683 693h1v1h-1zM687 692h1v1h-1zM688 692h1v1h-1zM689 692h1v1h-1zM693 692h1v1h-1zM694 692h1v1h-1zM695 691h1v1h-1zM699 691h1v1h-1zM700 691h1v1h-1zM701 691h1v1h-1zM705 690h1v1h-1zM706 690h1v1h-1zM707 690h1v1h-1zM711 689h1v1h-1zM712 689h1v1h-1zM713 689h1v1h-1zM717 688h1v1h-1zM718 688h1v1h-1zM719 688h1v1h-1zM723 687h1v1h-1zM724 686h1v1h-1zM725 686h1v1h-1zM729 685h1v1h-1zM730 685h1v1h-1zM731 685h1v1h-1zM735 684h1v1h-1zM736 684h1v1h-1zM737 683h1v1h-1zM741 683h1v1h-1zM742 682h1v1h-1zM743 682h1v1h-1zM747 681h1v1h-1zM748 681h1v1h-1zM749 681h1v1h-1zM753 680h1v1h-1zM754 680h1v1h-1zM755 680h1v1h-1zM759 679h1v1h-1zM760 679h1v1h-1zM761 679h1v1h-1zM765 678h1v1h-1zM766 678h1v1h-1zM767 678h1v1h-1zM771 678h1v1h-1zM772 678h1v1h-1zM773 678h1v1h-1zM777 678h1v1h-1zM778 678h1v1h-1zM779 678h1v1h-1zM783 678h1v1h-1zM784 678h1v1h-1zM785 678h1v1h-1zM789 679h1v1h-1zM790 679h1v1h-1zM791 679h1v1h-1zM795 680h1v1h-1zM796 680h1v1h-1zM797 680h1v1h-1zM801 681h1v1h-1zM802 681h1v1h-1zM803 681h1v1h-1zM807 682h1v1h-1zM808 682h1v1h-1zM809 682h1v1h-1zM813 682h1v1h-1zM814 683h1v1h-1zM815 683h1v1h-1zM819 683h1v1h-1zM820 683h1v1h-1zM821 683h1v1h-1zM825 683h1v1h-1zM826 683h1v1h-1zM827 683h1v1h-1zM831 683h1v1h-1zM832 683h1v1h-1zM833 683h1v1h-1zM837 682h1v1h-1zM838 682h1v1h-1zM839 682h1v1h-1zM843 681h1v1h-1zM844 681h1v1h-1zM845 681h1v1h-1zM849 680h1v1h-1zM850 680h1v1h-1zM851 680h1v1h-1zM855 679h1v1h-1zM856 679h1v1h-1zM857 679h1v1h-1zM861 678h1v1h-1zM862 678h1v1h-1zM863 678h1v1h-1zM867 677h1v1h-1zM868 676h1v1h-1zM869 676h1v1h-1zM873 674h1v1h-1zM874 674h1v1h-1zM875 673h1v1h-1zM879 671h1v1h-1zM880 670h1v1h-1zM881 670h1v1h-1zM885 667h1v1h-1zM886 666h1v1h-1zM887 665h1v1h-1zM891 662h1v1h-1zM892 661h1v1h-1zM893 659h1v2h-1zM897 656h1v1h-1zM898 655h1v1h-1zM899 654h1v1h-1zM903 650h1v1h-1zM904 649h1v1h-1zM905 649h1v1h-1zM909 645h1v1h-1zM910 645h1v1h-1zM911 644h1v1h-1zM915 641h1v1h-1zM916 641h1v1h-1zM917 641h1v1h-1zM921 640h1v1h-1zM922 640h1v1h-1zM923 639h1v1h-1zM927 641h1v1h-1zM928 641h1v1h-1zM929 641h1v1h-1zM933 644h1v1h-1zM934 644h1v1h-1zM935 645h1v1h-1zM939 647h1v1h-1zM940 648h1v1h-1zM941 649h1v1h-1zM945 652h1v1h-1zM946 653h1v1h-1zM947 654h1v1h-1zM951 657h1v1h-1zM952 658h1v1h-1zM953 659h1v1h-1zM957 661h1v1h-1zM958 662h1v1h-1zM959 663h1v1h-1zM963 665h1v1h-1zM964 665h1v1h-1zM965 666h1v1h-1zM969 668h1v1h-1zM970 669h1v1h-1zM971 669h1v1h-1zM975 672h1v1h-1zM976 672h1v1h-1zM977 673h1v1h-1zM981 675h1v1h-1zM982 676h1v1h-1zM983 676h1v1h-1zM987 678h1v1h-1zM988 679h1v1h-1zM989 679h1v1h-1zM993 681h1v1h-1zM994 681h1v1h-1zM995 681h1v1h-1zM999 682h1v1h-1zM1000 682h1v1h-1zM1001 683h1v1h-1zM1005 683h1v1h-1zM1006 683h1v1h-1zM1007 683h1v1h-1zM1011 683h1v1h-1zM1012 683h1v1h-1zM1013 683h1v1h-1zM1017 683h1v1h-1zM1018 683h1v1h-1zM1019 683h1v1h-1zM1023 683h1v1h-1zM1024 683h1v1h-1zM1025 683h1v1h-1zM1029 683h1v1h-1zM1030 683h1v1h-1zM1031 683h1v1h-1zM1035 683h1v1h-1zM1036 684h1v1h-1zM1037 684h1v1h-1zM1041 684h1v1h-1zM1042 684h1v1h-1zM1043 685h1v1h-1zM1047 685h1v1h-1zM1048 685h1v1h-1zM1049 685h1v1h-1zM1053 686h1v1h-1zM1054 686h1v1h-1zM1055 686h1v1h-1zM1059 686h1v1h-1zM1060 686h1v1h-1zM1061 686h1v1h-1zM1065 687h1v1h-1zM1066 687h1v1h-1zM1067 687h1v1h-1zM1071 687h1v1h-1zM1072 687h1v1h-1zM1073 687h1v1h-1zM1077 687h1v1h-1zM1078 687h1v1h-1zM1079 687h1v1h-1zM1083 688h1v1h-1zM1084 688h1v1h-1zM1085 688h1v1h-1zM1089 688h1v1h-1zM1090 688h1v1h-1zM1091 688h1v1h-1zM1095 688h1v1h-1zM1096 688h1v1h-1zM1097 688h1v1h-1zM1101 688h1v1h-1zM1102 688h1v1h-1zM1103 688h1v1h-1zM1107 688h1v1h-1zM1108 688h1v1h-1zM1109 688h1v1h-1zM1113 688h1v1h-1zM1114 688h1v1h-1zM1115 688h1v1h-1zM1119 688h1v1h-1zM1120 688h1v1h-1zM1121 688h1v1h-1zM1125 689h1v1h-1zM1126 689h1v1h-1zM1127 689h1v1h-1zM1131 690h1v1h-1zM1132 690h1v1h-1zM1133 691h1v1h-1zM1137 692h1v1h-1zM1138 692h1v1h-1zM1139 692h1v1h-1zM1143 693h1v1h-1zM1144 693h1v1h-1zM1145 693h1v1h-1zM1149 695h1v1h-1zM1150 695h1v1h-1zM1151 696h1v1h-1zM1155 697h1v1h-1zM1156 698h1v1h-1zM1157 698h1v1h-1zM1161 701h1v1h-1zM1162 701h1v1h-1zM1163 702h1v1h-1zM1167 704h1v1h-1zM1168 704h1v1h-1zM1169 705h1v1h-1zM1173 707h1v1h-1zM1174 707h1v1h-1zM1175 707h1v1h-1zM1179 709h1v1h-1zM1180 710h1v1h-1zM1181 710h1v1h-1zM1185 711h1v1h-1zM1186 711h1v1h-1zM1187 711h1v1h-1zM1191 711h1v1h-1zM1192 711h1v1h-1zM1193 711h1v1h-1zM1197 710h1v1h-1zM1198 710h1v1h-1zM1199 710h1v1h-1zM1203 709h1v1h-1zM1204 709h1v1h-1zM1205 708h1v1h-1zM1209 707h1v1h-1zM1210 706h1v1h-1zM1211 706h1v1h-1zM1215 704h1v1h-1zM1216 704h1v1h-1zM1217 703h1v1h-1zM1221 702h1v1h-1zM1222 701h1v1h-1zM1223 701h1v1h-1zM1227 700h1v1h-1zM1228 700h1v1h-1zM1229 699h1v1h-1zM1233 698h1v1h-1zM1234 698h1v1h-1zM1235 698h1v1h-1zM1239 696h1v1h-1zM1240 696h1v1h-1zM1241 696h1v1h-1zM1245 695h1v1h-1zM1246 694h1v1h-1zM1247 694h1v1h-1zM1251 693h1v1h-1zM1252 693h1v1h-1zM1253 693h1v1h-1zM1257 692h1v1h-1zM1258 692h1v1h-1zM1259 692h1v1h-1zM1263 691h1v1h-1zM1264 691h1v1h-1zM1265 691h1v1h-1z" fill="#ff0000"/></g><rect x="1596" y="33" width="2" height="1" fill="#000"/><rect x="1596" y="66" width="2" height="1" fill="#000"/><rect x="1596" y="99" width="2" height="1" fill="#000"/><rect x="1596" y="132" width="2" height="1" fill="#000"/><rect x="1596" y="165" width="2" height="1" fill="#000"/><rect x="1596" y="198" width="2" height="1" fill="#000"/><rect x="1596" y="231" width="2" height="1" fill="#000"/><rect x="1596" y="264" width="2" height="1" fill="#000"/><rect x="1596" y="297" width="2" height="1" fill="#000"/><rect x="1596" y="330" width="2" height="1" fill="#000"/><rect x="1596" y="363" width="2" height="1" fill="#000"/><rect x="1596" y="396" width="2" height="1" fill="#000"/><rect x="1596" y="429" width="2" height="1" fill="#000"/><rect x="1596" y="462" width="2" height="1" fill="#000"/><rect x="1596" y="495" width="2" height="1" fill="#000"/><rect x="1596" y="528" width="2" height="1" fill="#000"/><rect x="1596" y="561" width="2" height="1" fill="#000"/><rect x="1596" y="597" width="2" height="1" fill="#000"/><rect x="1596" y="687" width="2" height="1" fill="#000"/><rect x="3" y="720" width="1" height="3" fill="#000"/><rect x="67" y="720" width="1" height="3" fill="#000"/><rect x="131" y="720" width="1" height="3" fill="#000"/><rect x="195" y="720" width="1" height="3" fill="#000"/><rect x="259" y="720" width="1" height="3" fill="#000"/><rect x="323" y="720" width="1" height="3" fill="#000"/><rect x="387" y="720" width="1" height="3" fill="#000"/><rect x="451" y="720" width="1" height="3" fill="#000"/><rect x="515" y="720" width="1" height="3" fill="#000"/><rect x="579" y="720" width="1" height="3" fill="#000"/><rect x="643" y="720" width="1" height="3" fill="#000"/><rect x="707" y="720" width="1" height="3" fill="#000"/><rect x="771" y="720" width="1" height="3" fill="#000"/><rect x="835" y="720" width="1" height="3" fill="#000"/><rect x="899" y="720" width="1" height="3" fill="#000"/><rect x="963" y="720" width="1" height="3" fill="#000"/><rect x="1027" y="720" width="1" height="3" fill="#000"/><rect x="1091" y="720" width="1" height="3" fill="#000"/><rect x="1155" y="720" width="1" height="3" fill="#000"/><rect x="1219" y="720" width="1" height="3" fill="#000"/></svg>
<svg class="a" style="left:5px;top:30px" width="10" height="8" viewBox="0 0 10 8"><path d="M1 2H8.2L4.6 5.8Z" fill="#000"/></svg>
<div class="a t" style="left:18px;top:30px;letter-spacing:-0.07px">USDCAD,Daily</div>
<div class="a t" style="left:90.4px;top:30px;letter-spacing:-0.30px">1.35516 1.35547 1.35416 1.35521</div>
<svg class="a" style="left:1271px;top:26px" width="9" height="5" viewBox="0 0 9 5" shape-rendering="crispEdges"><path d="M0 0h9v1h-9zM1 1h7v1h-7zM2 2h5v1h-5zM3 3h3v1h-3zM4 4h1v1h-1z" fill="#c0c0c0"/></svg>
<div class="a t" style="left:7px;top:539px;letter-spacing:-0.26px">RSI(14) 43.4509</div>
<div class="a t" style="left:7px;top:633px;letter-spacing:-0.235px">MACD(12,26,9) -0.002463 -0.002147</div>
<div class="a t" style="left:1601.5px;top:30px;letter-spacing:-0.5px">1.47305</div>
<div class="a t" style="left:1601.5px;top:63px;letter-spacing:-0.5px">1.46080</div>
<div class="a t" style="left:1601.5px;top:96px;letter-spacing:-0.5px">1.44890</div>
<div class="a t" style="left:1601.5px;top:129px;letter-spacing:-0.5px">1.43665</div>
<div class="a t" style="left:1601.5px;top:162px;letter-spacing:-0.5px">1.42440</div>
<div class="a t" style="left:1601.5px;top:195px;letter-spacing:-0.5px">1.41250</div>
<div class="a t" style="left:1601.5px;top:228px;letter-spacing:-0.5px">1.40025</div>
<div class="a t" style="left:1601.5px;top:261px;letter-spacing:-0.5px">1.38835</div>
<div class="a t" style="left:1601.5px;top:294px;letter-spacing:-0.5px">1.37610</div>
<div class="a t" style="left:1601.5px;top:327px;letter-spacing:-0.5px">1.36420</div>
<div class="a t" style="left:1601.5px;top:360px;letter-spacing:-0.5px">1.35195</div>
<div class="a t" style="left:1601.5px;top:393px;letter-spacing:-0.5px">1.34005</div>
<div class="a t" style="left:1601.5px;top:426px;letter-spacing:-0.5px">1.32780</div>
<div class="a t" style="left:1601.5px;top:459px;letter-spacing:-0.5px">1.31590</div>
<div class="a t" style="left:1601.5px;top:492px;letter-spacing:-0.5px">1.30365</div>
<div class="a t" style="left:1601.5px;top:525px;letter-spacing:-0.5px">1.29175</div>
<div class="pl" style="top:197px;background:#ff0000"><span>1.41060</span></div>
<div class="pl" style="top:268px;background:#ff0000"><span>1.38464</span></div>
<div class="pl" style="top:335px;background:#00ff00"><span>1.36015</span></div>
<div class="pl" style="top:349px;background:#000000"><span>1.35521</span></div>
<div class="pl" style="top:417px;background:#0000ff"><span>1.33011</span></div>
<div class="pl" style="top:499px;background:#0000ff"><span>1.30020</span></div>
<div class="a t" style="left:1599.3px;top:537.5px;letter-spacing:-0.3px">100</div>
<div class="a t" style="left:1599.3px;top:558px;letter-spacing:-0.3px">70</div>
<div class="a t" style="left:1599.3px;top:594px;letter-spacing:-0.3px">30</div>
<div class="a t" style="left:1599.3px;top:615px;letter-spacing:-0.3px">0</div>
<div class="a t" style="left:1599.3px;top:631px;letter-spacing:-0.3px">0.032972</div>
<div class="a t" style="left:1599.3px;top:684px;letter-spacing:-0.3px">0.00</div>
<div class="a t" style="left:1599.3px;top:709px;letter-spacing:-0.3px">-0.018154</div>
<div class="a t" style="left:2px;top:725px;letter-spacing:-0.4px">3 Jul 2019</div>
<div class="a t" style="left:66px;top:725px;letter-spacing:-0.4px">22 Jul 2019</div>
<div class="a t" style="left:130px;top:725px;letter-spacing:-0.4px">9 Aug 2019</div>
<div class="a t" style="left:194px;top:725px;letter-spacing:-0.4px">28 Aug 2019</div>
<div class="a t" style="left:258px;top:725px;letter-spacing:-0.4px">16 Sep 2019</div>
<div class="a t" style="left:322px;top:725px;letter-spacing:-0.4px">4 Oct 2019</div>
<div class="a t" style="left:386px;top:725px;letter-spacing:-0.4px">23 Oct 2019</div>
<div class="a t" style="left:450px;top:725px;letter-spacing:-0.4px">11 Nov 2019</div>
<div class="a t" style="left:514px;top:725px;letter-spacing:-0.4px">29 Nov 2019</div>
<div class="a t" style="left:578px;top:725px;letter-spacing:-0.4px">18 Dec 2019</div>
<div class="a t" style="left:642px;top:725px;letter-spacing:-0.4px">6 Jan 2020</div>
<div class="a t" style="left:706px;top:725px;letter-spacing:-0.4px">24 Jan 2020</div>
<div class="a t" style="left:770px;top:725px;letter-spacing:-0.4px">12 Feb 2020</div>
<div class="a t" style="left:834px;top:725px;letter-spacing:-0.4px">2 Mar 2020</div>
<div class="a t" style="left:898px;top:725px;letter-spacing:-0.4px">20 Mar 2020</div>
<div class="a t" style="left:962px;top:725px;letter-spacing:-0.4px">8 Apr 2020</div>
<div class="a t" style="left:1026px;top:725px;letter-spacing:-0.4px">27 Apr 2020</div>
<div class="a t" style="left:1090px;top:725px;letter-spacing:-0.4px">15 May 2020</div>
<div class="a t" style="left:1154px;top:725px;letter-spacing:-0.4px">3 Jun 2020</div>
<div class="a t" style="left:1218px;top:725px;letter-spacing:-0.4px">22 Jun 2020</div>
<div class="a" style="left:0px;top:740px;width:1638px;height:1px;background:#e6e6e6"></div>
<div class="a" style="left:0px;top:742px;width:1638px;height:1px;background:#000"></div>
<div class="a" style="left:0px;top:743px;width:1638px;height:19px;background:#f0f0f0"></div>
<div class="a" style="left:0px;top:762px;width:1638px;height:1px;background:#fff"></div>
<div class="a" style="left:0px;top:763px;width:1638px;height:3px;background:#f0f0f0"></div>
<div class="a" style="left:0px;top:766px;width:1638px;height:1px;background:#a0a0a0"></div>
<div class="a" style="left:313px;top:741px;width:102px;height:19px;background:#fff"></div>
<div class="a" style="left:312px;top:742px;width:1px;height:19px;background:#000"></div>
<div class="a" style="left:415px;top:742px;width:1px;height:19px;background:#000"></div>
<div class="a" style="left:312px;top:760px;width:104px;height:1px;background:#000"></div>
<div class="a" style="left:416px;top:743px;width:1px;height:19px;background:#a0a0a0"></div>
<div class="a" style="left:313px;top:761px;width:104px;height:1px;background:#a0a0a0"></div>
<div class="tab" style="left:16px;letter-spacing:-0.05px">EURUSD,Daily</div>
<div class="tab" style="left:117.5px;letter-spacing:0.08px">USDCHF,Daily</div>
<div class="tab" style="left:219.2px;letter-spacing:0.12px">AUDUSD,Daily</div>
<div class="tab" style="left:322.8px;letter-spacing:0px;color:#000">USDCAD,Daily</div>
<div class="tab" style="left:425.4px;letter-spacing:0.17px">USDCNH,Daily</div>
<div class="tab" style="left:530.4px;letter-spacing:0.17px">EURUSD,M15</div>
<div class="tab" style="left:631.2px;letter-spacing:0.02px">GBPUSD,M30</div>
<div class="tab" style="left:731.2px;letter-spacing:0.05px">XAUUSD,Daily</div>
<div class="tab" style="left:834px;letter-spacing:0.38px">HK50,H1</div>
<div class="tab" style="left:906.2px;letter-spacing:0.28px">UK100,H1</div>
<div class="tab" style="left:985.8px;letter-spacing:0.42px">UK100,H1</div>
<div class="tab" style="left:1067.1px;letter-spacing:-0.25px">GER30,H1</div>
<div class="tab" style="left:1145.3px;letter-spacing:-0.08px">FRA40,H1</div>
<div class="tab" style="left:1221.5px;letter-spacing:0.28px">USOil,Daily</div>
<div class="tab" style="left:1305.5px;letter-spacing:-0.11px">USDJPY,H1</div>
<div class="tab" style="left:1390.6px;letter-spacing:0.3px">DJ30,M15</div>
<div class="sep" style="left:108px"></div>
<div class="sep" style="left:208px"></div>
<div class="sep" style="left:520px"></div>
<div class="sep" style="left:620px"></div>
<div class="sep" style="left:721px"></div>
<div class="sep" style="left:824px"></div>
<div class="sep" style="left:896px"></div>
<div class="sep" style="left:976px"></div>
<div class="sep" style="left:1056px"></div>
<div class="sep" style="left:1136px"></div>
<div class="sep" style="left:1212px"></div>
<div class="sep" style="left:1295px"></div>
<div class="sep" style="left:1380px"></div>
<div class="sep" style="left:1460px"></div>
<svg class="a" style="left:1608px;top:746px" width="28" height="12" viewBox="0 0 28 12"><path d="M6 2V8.4L2.8 5.2Z" fill="#9a9a9a"/><path d="M22 2V8.4L25.2 5.2Z" fill="#9a9a9a"/></svg>
</body></html>
